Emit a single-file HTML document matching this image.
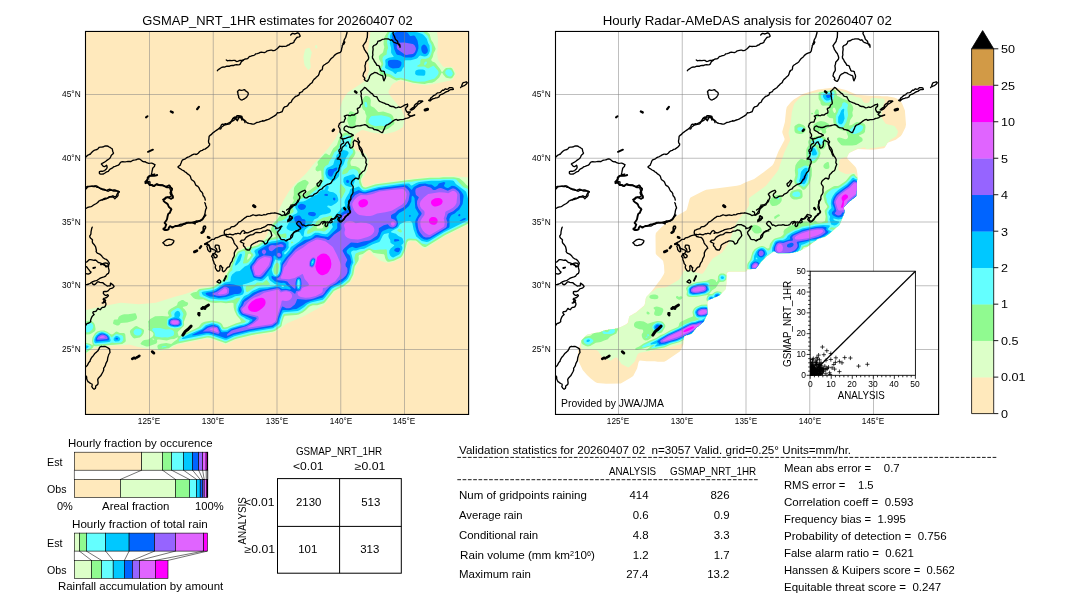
<!DOCTYPE html>
<html lang="en">
<head>
<meta charset="utf-8">
<title>GSMAP_NRT_1HR vs Radar-AMeDAS 20260407 02</title>
<style>
html,body{margin:0;padding:0;background:#fff;}
body{width:1080px;height:612px;position:relative;overflow:hidden;font-family:"Liberation Sans",sans-serif;color:#000;}
#g{position:absolute;left:0;top:0;width:1080px;height:612px;display:block;}
.t{position:absolute;white-space:nowrap;line-height:1;color:#000;}
#tx{position:absolute;left:0;top:0;width:1080px;height:612px;filter:grayscale(1);}
.sup{font-size:62%;position:relative;top:-0.45em;}
</style>
</head>
<body>
<svg id="g" width="1080" height="612" viewBox="0 0 1080 612">
<defs><clipPath id="cl"><rect x="85.50" y="31.45" width="383.10" height="383.00"/></clipPath><clipPath id="cr"><rect x="555.50" y="31.45" width="383.10" height="383.00"/></clipPath></defs>
<rect x="85.50" y="31.45" width="383.10" height="383.00" fill="#ffe9bc" stroke="none" stroke-width="1" />
<g clip-path="url(#cl)"><path fill="#dcffc8" fill-rule="evenodd" d="M81.8 356.7L81.2 356.5L81.0 354.6L81.0 345.1L81.4 337.6L81.0 327.1L81.4 312.1L81.8 311.1L101.3 306.6L120.8 302.8L138.8 304.2L155.8 302.7L174.0 297.1L185.2 293.9L192.8 291.3L199.4 288.1L212.8 286.0L220.2 280.7L223.2 278.1L228.5 269.1L233.2 257.7L236.8 251.0L238.4 250.1L245.9 247.1L254.8 245.2L257.2 244.3L264.8 238.6L267.0 235.1L272.3 223.6L276.7 218.6L280.2 207.0L283.8 200.0L289.2 191.0L294.5 184.6L306.0 173.6L313.7 164.1L328.0 148.6L335.5 138.6L340.7 128.6L341.4 122.6L341.4 120.1L339.8 111.5L339.7 109.5L342.2 101.0L345.8 95.0L347.7 92.5L364.2 81.5L366.0 79.0L369.4 70.0L367.5 55.0L371.0 28.0L371.5 26.5L372.8 26.2L387.2 26.2L397.2 25.8L419.8 25.8L435.2 26.2L436.0 26.5L436.5 28.0L438.1 40.0L437.7 44.0L437.8 48.0L437.1 53.0L437.6 57.5L438.4 60.5L442.6 66.0L443.8 66.9L451.2 66.8L452.8 67.4L455.2 72.1L455.9 74.0L453.8 77.6L451.8 79.9L450.3 80.5L433.8 84.1L425.8 85.2L412.8 83.7L400.8 80.5L399.2 80.8L393.2 83.6L391.8 85.0L389.5 89.0L388.6 91.0L388.4 92.5L389.1 94.0L393.6 100.0L398.8 105.9L401.8 110.0L404.9 118.0L403.1 127.1L398.3 130.1L394.0 132.1L384.8 133.9L372.8 132.8L363.8 130.2L361.2 130.3L356.8 133.2L355.5 134.6L353.1 142.6L352.7 145.1L354.1 147.6L357.2 150.9L365.2 153.4L368.8 160.1L367.2 170.5L364.8 175.1L362.0 179.1L361.7 180.1L363.1 185.1L364.2 186.3L365.8 186.4L374.8 183.6L378.2 182.9L409.8 178.9L429.2 176.9L439.2 176.8L442.8 176.3L454.2 176.3L473.8 177.9L474.1 179.1L474.5 203.1L474.5 220.1L474.2 221.4L473.8 221.9L445.8 235.8L425.8 248.3L423.8 248.2L422.1 247.6L415.8 241.7L414.2 241.3L410.8 241.3L408.8 241.7L407.6 243.6L405.8 251.4L402.9 257.1L401.7 258.1L394.2 261.7L387.8 263.1L381.0 261.1L374.2 256.1L370.2 251.6L369.2 251.2L367.8 251.6L365.2 253.6L362.3 257.1L359.9 261.1L356.1 266.1L355.1 269.1L354.2 274.9L351.2 281.0L349.8 282.8L343.8 287.5L337.2 290.3L334.2 292.0L326.2 302.3L323.2 305.4L304.3 316.1L287.2 323.3L284.8 324.9L281.8 327.6L275.1 332.1L269.8 333.2L254.2 335.4L237.8 339.4L234.8 340.3L225.8 344.5L219.2 341.9L210.2 338.9L207.2 338.4L178.2 344.4L175.8 345.3L169.6 349.1L159.8 350.7L152.2 349.1L146.8 348.6L138.2 347.1L129.2 344.5L123.2 345.2L117.2 345.3L99.2 346.9L94.8 347.8ZM316.2 48.7L315.7 48.5L315.0 46.0L315.3 45.5L316.2 45.1L316.9 45.5L317.5 47.5ZM308.8 69.7L308.2 69.9L307.8 69.6L304.6 65.5L304.0 62.5L303.4 56.5L305.2 49.3L306.5 48.5L309.2 47.8L310.2 49.0L311.8 52.5L310.1 60.0L310.8 67.5Z"/>
<path fill="#90fa90" fill-rule="evenodd" d="M426.2 83.6L424.8 83.9L421.2 83.7L413.2 82.7L400.8 79.4L396.2 80.4L393.1 79.0L389.2 76.7L385.8 76.3L381.8 75.2L380.2 74.1L378.5 69.0L379.1 67.5L381.2 65.0L381.4 63.5L379.0 59.0L378.8 56.5L379.7 55.0L382.4 53.0L383.1 52.0L384.3 47.0L383.6 44.5L383.7 39.5L385.0 36.0L388.4 30.5L391.2 27.2L393.8 26.8L416.8 26.8L420.2 27.0L422.2 28.1L429.6 34.0L431.2 39.9L433.0 42.5L435.6 48.5L435.4 50.0L433.7 53.0L432.7 57.0L431.3 59.5L431.4 60.5L432.4 61.5L434.8 62.5L435.8 63.4L440.1 69.0L441.8 72.0L442.2 72.0L444.8 69.0L446.1 68.0L450.8 67.8L452.2 68.6L454.5 73.0L454.5 74.5L452.8 77.2L451.8 78.2L450.2 78.6L447.2 78.1L445.8 77.4L443.6 75.0L442.2 72.7L441.8 72.6L439.2 77.5L434.8 81.5L432.2 82.8L428.2 82.9ZM384.8 130.1L375.8 129.5L371.8 128.0L368.2 127.1L366.6 125.6L365.6 121.6L366.5 116.0L365.4 113.5L364.9 111.0L363.1 109.5L362.3 108.0L361.5 103.0L361.7 101.5L362.3 100.0L364.2 97.1L365.2 96.1L367.2 96.0L369.3 97.0L370.3 98.5L370.9 100.5L370.5 104.5L370.8 105.9L374.2 107.7L378.2 111.9L379.2 112.1L383.2 111.6L384.8 111.9L390.2 113.7L391.8 114.8L393.2 116.5L394.4 122.1L394.2 124.1L388.2 128.7ZM355.2 127.7L353.2 127.9L350.2 127.3L349.1 126.1L347.5 121.6L347.1 120.1L347.3 118.5L348.3 116.0L349.0 112.5L350.2 111.3L351.8 111.5L355.1 113.0L356.3 114.5L356.4 118.5L355.4 123.1L355.9 126.6ZM159.8 349.6L158.8 349.4L157.8 348.6L157.3 346.1L158.2 344.7L160.8 343.7L166.2 343.1L171.2 343.9L174.8 340.9L177.1 339.6L178.0 337.6L177.8 337.3L177.2 337.5L174.2 339.1L170.8 339.3L166.8 340.6L159.2 339.6L157.8 339.6L156.9 340.1L157.3 342.1L156.4 343.6L148.2 346.6L146.2 346.5L141.2 344.6L140.6 344.1L140.5 343.6L142.5 341.1L144.2 340.0L148.4 339.6L150.2 338.1L152.2 337.0L153.4 335.1L153.4 333.6L152.8 332.4L151.2 331.3L148.2 330.1L148.7 328.1L148.4 326.6L148.5 324.1L148.0 321.6L150.2 318.9L155.2 316.3L162.2 315.9L167.8 316.4L168.8 316.1L168.9 315.6L167.9 313.6L167.8 312.6L168.7 310.6L170.8 308.8L176.6 305.6L177.1 305.1L177.6 303.1L178.2 302.1L181.8 299.9L183.2 299.9L185.2 301.6L187.8 302.4L188.2 303.6L187.8 304.8L186.6 306.1L182.7 307.1L183.1 308.1L184.8 309.6L186.1 311.6L186.6 313.1L186.7 314.6L183.8 322.1L184.2 324.6L183.8 326.0L178.2 331.5L177.6 332.6L178.8 336.2L194.8 329.1L198.6 327.1L201.3 323.6L202.8 322.5L204.8 321.8L212.2 320.5L218.2 321.7L220.9 323.1L222.2 324.6L223.4 327.1L224.8 327.6L227.2 327.1L236.2 323.3L239.8 322.3L240.9 321.6L240.9 321.1L239.8 319.1L236.8 315.6L234.6 311.1L233.7 307.6L233.5 303.6L233.2 303.0L231.8 302.7L225.8 303.2L220.8 302.6L215.2 302.9L211.2 302.5L208.8 301.8L203.2 299.2L198.8 299.5L195.2 298.9L193.2 297.8L190.4 294.6L190.4 294.1L193.1 292.6L196.8 291.7L198.1 290.1L199.8 289.0L209.8 287.7L213.8 286.7L224.6 278.6L229.5 269.6L234.4 257.6L236.8 252.9L237.8 251.6L246.2 248.1L248.8 247.8L257.2 245.4L266.2 239.2L269.8 238.1L274.1 237.6L275.9 236.6L275.9 236.1L273.8 233.6L270.9 230.6L271.0 228.6L273.5 223.6L277.3 219.6L279.2 216.5L281.8 214.8L284.8 213.9L288.4 211.1L288.7 207.6L290.8 205.6L294.0 200.6L292.8 198.1L293.8 195.1L293.8 190.1L294.1 188.1L294.8 186.6L297.8 183.1L302.8 180.2L305.2 179.8L308.0 181.6L308.6 182.6L308.6 183.6L306.9 186.1L305.5 190.6L301.8 193.2L301.4 195.1L302.2 195.3L305.4 194.1L307.6 191.6L310.2 190.1L312.8 187.9L315.2 186.4L316.8 184.1L321.2 178.7L321.6 177.6L321.2 170.9L320.2 170.6L317.8 171.6L316.2 170.8L315.5 169.6L315.8 167.3L318.0 165.1L317.5 162.6L317.7 161.6L324.8 153.7L326.2 153.6L329.2 155.3L329.8 155.1L333.1 148.6L337.0 145.1L338.2 141.1L340.8 135.7L343.2 133.4L345.8 132.6L349.8 132.6L351.2 133.6L353.2 136.6L353.3 138.6L351.6 145.1L352.2 146.6L355.0 150.6L355.5 153.1L354.2 156.2L350.7 161.1L350.4 162.6L350.5 164.1L351.2 165.8L355.8 166.3L358.8 167.7L360.1 169.1L361.0 171.6L362.6 174.1L362.8 175.1L360.9 179.1L360.7 181.1L362.2 185.7L363.8 187.3L365.8 187.5L375.1 184.6L378.2 183.9L414.8 179.3L430.2 177.8L439.2 177.8L443.2 177.3L453.8 177.3L458.2 178.0L459.8 178.6L463.9 182.1L466.2 184.7L468.8 186.4L470.3 188.6L473.2 195.5L473.5 197.1L473.5 219.1L473.3 220.6L472.8 221.3L445.2 234.9L425.8 246.9L424.2 246.9L422.2 246.1L417.2 241.5L415.8 240.5L410.2 240.3L408.2 240.7L406.9 242.6L405.1 250.1L402.2 256.1L400.8 257.4L393.8 260.7L389.2 261.8L387.8 261.8L386.8 261.1L386.0 260.1L385.1 258.1L384.5 255.1L383.8 254.2L377.2 253.6L373.2 252.8L370.8 250.6L369.8 250.1L368.8 250.1L367.2 250.7L362.8 254.0L359.2 254.9L358.6 256.1L358.8 258.6L358.4 260.6L354.7 266.6L353.3 274.6L350.3 280.6L349.2 281.9L343.3 286.6L336.8 289.4L333.8 291.1L325.2 301.9L323.8 303.2L317.2 305.3L312.8 305.3L310.8 305.9L309.2 306.8L306.0 310.1L302.8 312.5L298.8 314.4L296.2 314.9L284.8 315.7L283.8 317.2L282.2 322.2L281.5 326.1L280.6 327.1L274.8 331.0L272.2 331.7L251.8 334.9L237.2 338.5L234.8 339.2L225.8 343.3L210.2 337.8L207.2 337.4L177.8 343.5L172.8 345.6L168.8 348.2ZM321.4 228.6L322.7 228.1L323.2 227.3L323.4 225.1L324.5 221.6L324.2 221.0L322.2 221.4L320.2 222.4L316.5 227.6L316.7 228.1L317.8 228.5ZM247.8 259.6L249.2 258.2L251.2 255.6L251.0 254.6L249.8 253.8L248.8 253.7L248.0 254.6L247.1 259.1L247.2 259.7ZM118.2 325.6L116.8 325.6L113.3 324.1L113.0 323.1L113.8 320.1L114.8 319.6L117.2 319.6L117.8 319.3L118.6 317.1L119.6 316.1L122.2 314.8L124.2 314.3L128.2 314.3L134.8 313.3L135.8 313.6L137.1 317.1L136.8 318.6L135.9 319.6L132.9 321.1L127.2 322.6L120.8 323.1L119.3 325.1ZM89.8 334.2L86.8 334.4L83.4 333.6L82.3 332.6L82.0 330.6L82.0 326.1L82.4 324.6L86.2 321.5L89.2 320.6L91.8 321.2L94.0 323.1L94.9 325.1L95.6 329.1L95.3 330.6L94.5 331.6L91.3 333.6ZM136.8 338.1L134.2 338.4L132.8 337.5L130.8 335.1L129.9 332.1L130.0 331.1L130.8 329.8L134.8 326.6L136.2 326.1L137.2 326.3L139.3 327.6L142.9 329.1L143.9 330.1L144.1 331.1L143.5 333.6L141.8 336.1L139.8 337.5ZM82.8 354.6L82.2 354.2L82.0 352.6L82.0 345.6L82.4 344.1L84.2 343.0L86.8 342.9L89.8 343.7L92.8 345.3L92.0 341.1L92.5 337.6L95.1 333.1L97.1 331.6L100.8 330.4L104.2 330.5L107.2 331.7L110.8 334.3L111.8 334.6L112.8 334.2L115.8 331.7L116.8 331.4L119.8 333.0L123.8 332.9L124.7 333.6L125.3 334.6L125.8 341.1L125.2 342.1L122.2 344.0L114.2 344.8L109.8 344.9L96.2 346.3L93.8 346.1L93.0 347.6L91.9 348.6L84.0 354.1ZM154.3 339.6L154.1 339.1L153.2 338.6L152.6 338.6L152.3 339.1L153.2 339.7Z"/>
<path fill="#64ffff" fill-rule="evenodd" d="M424.8 81.6L418.2 81.7L413.8 81.3L401.2 77.8L396.2 77.9L393.8 76.8L390.6 74.5L383.8 72.7L382.2 71.5L381.5 70.0L381.4 68.5L383.0 65.5L383.4 64.0L382.5 60.0L382.5 58.0L383.8 56.1L386.6 54.5L386.9 51.0L388.1 48.0L387.0 42.5L387.9 35.5L389.4 32.5L392.8 28.7L395.8 28.2L410.8 28.2L415.6 28.5L422.8 31.8L426.8 35.0L428.1 36.5L429.7 41.5L431.5 44.5L431.9 46.0L432.0 50.5L431.1 54.0L429.9 56.5L428.2 57.9L425.2 59.0L422.2 58.8L421.2 59.0L420.4 60.5L420.3 63.5L419.4 64.5L417.5 65.5L417.2 66.1L417.4 66.5L418.8 66.8L424.2 66.4L427.0 68.0L428.2 68.5L433.2 65.7L433.9 66.0L437.8 70.5L438.6 72.0L438.6 73.0L437.8 75.1L434.7 78.5ZM425.2 65.2L424.8 65.3L424.2 64.7L424.2 63.1L425.2 61.8L426.2 61.6L426.9 62.0L427.0 63.0ZM450.8 76.6L449.2 76.6L447.8 76.1L445.6 74.0L445.2 72.0L445.8 70.7L446.8 69.7L448.2 69.3L450.2 69.4L451.6 70.5L452.8 73.0L452.8 74.0L451.8 75.8ZM367.2 107.1L366.2 107.5L365.3 107.0L364.8 106.1L364.4 103.0L364.9 102.0L366.2 102.0L366.8 102.7L367.5 105.5ZM385.2 126.1L379.8 125.7L375.8 126.2L373.2 125.5L370.8 124.5L368.9 123.1L368.4 121.6L368.7 120.1L370.2 117.3L371.2 116.3L372.2 116.0L381.2 115.2L388.2 116.8L389.8 117.5L390.8 118.5L391.6 120.6L391.5 122.1L390.2 123.5L386.8 125.7ZM226.2 341.6L224.8 341.4L219.2 339.2L210.2 336.2L208.2 335.9L180.8 341.3L179.2 341.4L178.7 341.1L179.7 338.6L181.6 336.6L197.8 328.9L200.5 328.1L203.7 324.6L205.8 323.5L212.2 322.1L217.2 323.0L220.1 324.6L222.2 328.6L223.8 329.2L227.2 328.6L229.8 327.3L236.8 324.6L243.5 323.1L244.8 322.6L246.0 321.6L245.7 321.1L238.8 315.9L237.7 314.6L236.4 311.6L236.2 304.6L239.8 299.1L240.1 298.1L239.8 297.6L236.8 297.8L233.8 299.8L226.2 301.6L221.8 301.1L211.2 300.8L209.2 300.2L205.2 298.2L200.4 296.6L199.8 296.1L199.4 295.1L199.3 292.6L199.6 291.1L201.2 290.3L210.2 289.1L213.8 288.3L215.3 287.6L224.2 280.9L227.2 280.1L227.8 279.6L228.6 274.6L230.2 272.0L232.5 270.1L232.2 268.1L232.7 266.1L236.1 257.6L238.1 253.6L239.1 252.6L243.2 251.0L244.8 251.2L245.2 252.6L245.1 254.6L242.9 263.1L243.2 263.6L243.8 263.6L246.8 263.3L248.6 262.1L253.4 255.6L253.2 254.2L251.1 252.1L250.7 251.1L251.1 250.1L252.6 248.6L258.8 246.4L264.8 242.0L266.8 241.0L270.8 239.9L275.2 239.3L280.8 237.3L285.2 238.0L286.2 237.8L286.5 236.6L286.3 234.1L285.9 233.6L284.2 233.5L281.2 234.5L279.2 233.7L274.2 228.6L273.9 227.6L274.7 225.6L278.2 221.4L279.2 221.0L281.8 220.8L285.8 218.6L288.3 215.6L293.1 212.6L293.7 211.6L292.8 208.6L293.6 205.1L294.4 203.6L296.8 201.2L303.2 197.9L308.0 196.1L320.6 186.1L321.8 182.8L324.2 179.6L323.6 174.6L323.7 169.6L324.0 168.1L325.5 166.1L328.3 164.6L329.3 161.6L332.0 157.6L334.2 152.6L337.2 150.2L339.0 147.6L341.2 139.6L342.2 137.9L344.2 136.0L346.2 135.3L348.8 135.4L349.8 136.0L350.9 137.6L351.3 139.1L350.2 144.1L350.1 145.6L350.8 147.5L352.9 150.6L353.1 152.1L352.4 153.6L349.8 156.6L347.8 161.1L347.3 162.6L347.4 165.6L347.0 167.1L343.2 170.1L342.3 172.6L342.2 174.3L343.2 174.6L346.8 173.3L347.7 172.6L349.2 170.1L350.4 169.6L353.8 169.0L356.3 170.1L357.8 171.6L359.2 175.6L359.4 177.1L358.9 180.6L359.1 183.1L361.3 187.1L363.2 188.8L365.8 189.0L375.2 186.1L378.8 185.3L406.8 181.8L411.8 181.7L415.2 180.9L430.2 179.3L452.2 178.7L454.8 178.9L456.3 179.6L462.1 186.1L464.2 187.5L467.1 188.6L468.0 189.6L469.6 194.6L471.5 197.6L472.0 199.6L472.1 218.6L471.8 219.8L471.0 220.6L444.6 233.6L426.8 244.5L425.8 244.5L421.8 243.5L417.8 239.9L416.2 239.1L409.2 238.5L407.2 238.9L405.9 240.6L403.7 249.6L401.1 255.1L399.8 256.2L393.2 259.3L389.8 259.8L389.0 259.6L388.2 258.8L387.4 256.6L386.8 250.1L386.2 249.3L383.8 249.6L380.8 249.4L375.2 250.0L373.2 249.7L370.2 248.5L368.8 248.5L367.1 249.1L364.2 250.8L359.8 251.7L356.2 253.2L355.4 254.1L354.4 258.1L355.2 262.6L353.2 266.2L351.8 274.1L348.8 280.1L342.8 285.1L336.1 288.1L332.8 289.9L323.8 301.1L316.8 303.5L312.2 303.5L309.8 304.4L307.8 305.6L304.8 308.8L301.9 311.1L298.2 312.8L296.2 313.2L290.8 313.3L284.2 313.9L283.5 314.6L282.8 316.1L280.2 325.2L274.2 329.6L271.8 330.3L251.2 333.5L236.8 337.1L233.8 338.0ZM341.9 198.1L345.2 191.6L345.6 190.1L345.0 188.6L341.2 184.1L340.4 184.6L339.8 186.1L339.8 189.6L339.4 192.1L340.2 194.6L340.4 197.6L341.2 198.5ZM309.5 233.6L314.8 230.7L320.2 230.8L323.8 231.5L324.8 231.2L327.5 229.1L328.5 228.1L328.8 227.1L327.6 225.1L327.7 223.1L328.8 221.1L331.6 218.1L332.0 216.6L331.8 215.9L330.2 215.7L326.8 216.9L323.2 217.6L316.8 221.1L314.8 224.6L311.2 228.1L307.6 230.6L307.1 232.1L307.2 233.6L307.8 233.9ZM401.8 232.1L401.9 231.1L400.2 228.8L398.8 229.1L397.3 230.6L397.5 231.1L399.8 232.2L400.8 232.5ZM292.8 243.1L293.3 242.6L293.2 241.9L292.2 241.5L291.2 241.7L290.9 242.6L291.2 243.5ZM276.3 274.6L277.2 273.9L278.3 272.1L279.2 266.1L278.8 263.7L277.2 262.6L276.2 262.9L274.8 264.5L273.4 269.1L273.5 271.1L274.2 273.6L275.2 274.6ZM247.6 292.1L256.2 286.3L262.8 285.0L267.8 285.3L269.9 284.6L270.0 284.1L267.2 280.5L266.2 280.1L262.8 282.7L257.2 282.4L254.8 284.4L247.2 285.7L245.9 286.6L245.6 289.1L246.2 291.6L246.8 292.1ZM177.8 328.1L174.2 328.4L170.2 327.7L167.8 326.2L167.0 325.1L166.8 324.1L167.3 319.6L168.2 318.5L171.0 317.1L171.8 316.1L171.0 313.1L171.2 311.9L172.8 310.5L176.8 308.2L177.8 307.9L179.2 308.3L181.2 310.1L182.8 312.6L183.5 314.6L182.3 318.1L183.0 320.1L182.7 322.1L182.9 325.1L181.2 326.9ZM88.8 332.2L86.2 332.2L84.2 331.2L83.7 330.1L83.5 327.6L84.2 325.8L86.8 323.7L88.8 322.7L90.2 322.7L91.8 323.3L92.8 324.5L93.3 326.1L93.2 327.6L92.2 329.4L90.0 331.6ZM167.8 337.6L165.2 337.3L161.8 337.5L155.3 336.6L154.8 335.6L154.6 333.1L152.2 330.1L152.2 329.1L152.8 328.4L153.8 328.1L160.2 328.1L165.8 329.6L169.8 329.2L172.2 330.0L173.9 331.6L174.1 333.6L173.8 335.1L172.6 336.1ZM139.8 335.2L138.2 335.5L136.8 335.4L135.2 334.9L134.1 334.1L133.4 332.1L134.1 330.6L135.2 329.3L136.2 328.8L138.2 328.7L140.2 329.3L141.3 330.1L141.7 331.1L141.7 332.6L140.9 334.1ZM97.8 344.6L95.2 344.8L94.1 344.1L93.2 342.1L93.3 339.1L94.2 336.6L95.8 334.4L97.9 332.6L100.1 331.6L103.2 331.4L106.2 332.4L108.8 334.0L111.2 337.1L111.8 337.3L115.2 334.6L116.8 334.0L122.2 335.5L123.2 337.1L123.3 339.1L122.9 340.6L121.8 341.9L120.2 342.7L114.2 343.1L112.2 342.6L110.2 343.3L107.2 343.8ZM84.2 351.6L83.7 351.1L83.4 349.1L83.5 345.6L84.1 344.6L85.2 344.1L87.2 344.2L89.5 345.1L90.8 346.1L90.9 347.1L90.6 347.6L86.2 350.7ZM164.8 347.1L162.2 347.4L161.5 347.1L162.2 346.4L165.2 346.1L166.2 346.1L166.8 346.6Z"/>
<path fill="#00c8ff" fill-rule="evenodd" d="M395.8 74.1L394.8 73.8L392.8 71.8L385.8 68.6L385.0 67.5L385.6 64.0L385.2 60.5L385.8 59.2L388.8 57.7L393.2 57.1L393.8 56.5L391.8 53.9L391.1 52.5L391.1 48.0L389.8 43.5L390.2 40.0L389.9 36.0L390.8 33.5L392.8 31.5L395.2 30.0L408.2 29.8L410.8 30.1L414.2 32.1L417.2 32.3L422.2 34.1L423.8 35.3L426.8 38.8L428.1 43.0L429.5 45.5L429.9 51.0L428.7 54.0L427.5 55.5L426.2 56.3L424.2 56.4L420.2 55.4L419.2 56.0L417.6 58.0L416.2 58.8L410.8 60.3L405.2 60.3L404.6 61.0L404.3 66.5L402.6 68.5L401.5 71.0L400.8 71.6L397.4 72.0ZM424.2 75.8L417.8 75.5L416.2 75.1L415.6 74.5L415.1 73.5L415.4 71.0L416.8 70.1L418.8 69.6L422.8 69.6L424.4 70.0L425.3 71.0L425.4 72.5L425.2 74.5ZM346.8 146.8L346.2 147.0L345.2 146.6L344.8 145.6L345.2 144.7L346.2 144.6L347.0 145.1L347.2 146.1ZM334.2 181.1L333.2 181.5L332.8 181.3L331.7 180.6L328.2 179.1L326.8 177.8L325.4 174.1L325.4 172.1L325.9 169.6L327.2 167.8L330.3 166.6L333.2 164.7L334.6 160.1L336.0 157.6L336.7 155.1L337.2 154.3L340.2 152.7L342.8 150.3L343.8 150.1L346.8 150.7L348.3 152.1L348.6 153.1L348.3 154.1L345.9 158.1L343.5 164.6L341.2 167.6L339.5 172.1L339.2 175.1L338.8 176.5L337.2 178.3ZM351.2 187.2L346.2 185.7L344.8 184.8L343.4 182.1L343.4 179.1L344.0 177.6L345.2 176.7L350.2 174.9L353.2 174.2L354.2 174.7L355.2 175.8L355.7 177.1L355.7 178.1L353.5 184.6L352.2 186.4ZM226.8 339.7L224.8 339.8L211.2 335.0L208.2 334.4L206.2 334.5L183.6 339.1L182.2 339.1L181.8 338.6L182.8 337.5L189.8 334.0L201.8 328.9L205.8 325.3L211.2 323.6L213.8 323.5L217.8 324.7L219.4 326.1L221.8 330.1L222.8 330.6L225.2 330.6L227.2 330.2L229.8 328.6L231.8 327.7L240.2 325.2L244.8 324.3L247.8 322.9L249.4 321.6L249.7 320.6L249.3 320.1L246.2 318.9L244.2 317.4L241.2 316.1L239.0 314.1L237.5 310.6L237.7 308.6L238.4 306.1L240.9 300.6L243.8 296.6L244.8 295.8L248.2 294.3L252.2 291.1L259.2 287.7L267.8 287.3L273.8 286.3L277.5 285.1L274.8 283.9L270.0 280.6L269.1 279.1L268.2 275.6L263.8 279.8L262.2 280.7L260.2 280.9L255.2 280.1L251.8 281.8L246.8 283.6L242.9 284.6L242.7 285.1L244.0 291.6L243.7 293.1L242.8 294.4L240.2 295.4L235.2 296.2L231.8 297.9L226.6 299.6L218.8 299.6L210.2 298.5L203.5 295.6L202.2 294.3L201.6 292.6L201.9 292.1L203.8 291.4L210.8 290.6L214.2 289.8L216.2 288.7L224.8 282.5L230.2 281.6L230.5 281.1L230.9 277.1L232.2 274.4L236.0 271.6L239.8 270.9L244.7 266.6L248.2 265.1L251.8 261.1L253.2 258.5L255.6 255.6L255.5 254.1L254.3 251.6L254.9 250.1L259.8 247.5L266.2 243.2L271.2 241.5L275.2 241.1L281.2 239.5L283.8 239.7L287.2 240.8L288.1 241.6L288.6 242.6L288.5 245.6L288.8 247.6L286.8 250.6L284.2 252.6L284.1 253.6L284.7 254.6L285.8 254.1L289.2 250.2L290.9 247.1L299.2 241.4L301.1 239.6L302.8 237.1L302.9 236.6L301.8 235.8L300.2 233.0L299.2 232.1L294.8 230.6L291.8 230.9L289.8 230.4L287.7 229.6L286.5 228.1L286.8 226.6L288.2 224.1L291.3 216.6L293.1 215.1L296.4 213.6L297.4 212.6L297.5 211.1L295.5 208.1L295.2 206.6L296.0 204.6L298.3 202.6L300.2 201.7L303.2 201.4L305.8 200.5L313.8 195.8L317.3 194.6L320.2 191.1L322.2 190.1L324.8 189.6L325.8 186.3L327.2 185.1L328.2 185.7L328.7 187.1L328.5 188.6L327.6 190.1L327.8 190.6L329.8 191.8L333.2 192.2L335.2 193.5L336.9 195.1L338.0 198.1L338.3 199.6L338.1 201.1L336.3 203.1L331.8 205.7L330.8 205.9L328.2 205.4L327.2 206.1L327.5 207.1L329.8 208.6L330.8 209.7L331.0 211.1L330.2 212.5L328.8 213.2L325.2 214.2L322.8 214.4L319.9 215.6L317.8 218.0L314.1 219.6L312.2 223.1L308.8 226.6L305.1 229.6L304.4 231.1L303.5 236.6L307.2 236.7L311.2 235.6L313.8 233.6L315.2 232.8L318.2 232.8L322.8 234.0L325.8 234.3L327.2 233.8L329.2 232.1L332.6 227.6L332.8 226.6L331.8 224.6L331.8 223.6L334.1 220.6L335.5 215.1L339.4 211.1L342.2 207.3L344.8 206.1L345.1 205.6L344.5 202.6L344.8 200.6L346.2 197.6L349.2 192.7L350.2 189.3L351.2 188.4L354.8 188.0L357.8 186.7L358.8 186.5L362.2 190.0L363.8 190.6L365.2 190.6L378.8 186.9L402.8 183.8L408.8 183.4L409.8 183.9L410.8 185.2L411.8 185.5L416.2 182.9L419.2 182.1L431.2 180.8L440.2 180.7L443.8 180.2L450.2 180.3L452.7 180.6L453.8 181.1L455.9 184.1L465.3 191.1L466.2 192.1L468.0 198.6L469.9 201.6L470.4 203.1L470.4 217.6L470.2 218.7L469.2 219.7L443.8 232.3L428.8 241.5L426.8 242.1L421.8 241.1L416.2 236.6L413.6 229.6L412.4 223.6L411.2 221.4L409.8 221.0L406.2 221.2L400.8 223.7L399.8 224.6L398.4 227.1L397.4 228.1L391.7 231.1L390.9 232.1L391.5 232.6L395.8 233.8L398.4 236.1L401.6 237.6L402.6 238.6L403.6 241.6L403.5 242.6L402.8 244.0L401.2 245.1L402.3 247.1L402.3 249.1L400.5 253.1L399.2 254.6L393.2 257.4L391.8 257.0L390.2 255.6L389.2 253.1L389.4 250.6L390.7 248.6L393.8 246.1L394.2 245.6L394.1 245.1L391.4 243.6L390.4 242.6L390.2 240.1L388.9 238.1L388.4 236.1L388.9 233.1L384.2 233.9L382.8 235.5L380.1 241.1L379.2 242.1L372.8 244.2L364.2 248.7L359.8 249.3L356.2 250.5L353.2 250.5L351.4 251.6L351.0 253.1L351.9 255.6L353.3 262.6L351.7 266.1L350.4 273.6L348.0 278.6L346.8 280.0L341.8 284.0L335.2 286.8L331.8 288.8L324.8 297.7L322.8 299.7L310.8 302.4L307.2 304.2L304.2 306.9L299.9 310.1L297.8 311.0L283.8 312.2L282.8 313.2L281.9 315.1L280.3 319.6L279.2 324.1L273.2 328.3L250.2 332.1L234.2 336.2ZM235.8 265.6L235.2 265.6L235.2 264.1L238.2 256.7L239.8 254.2L240.8 253.8L241.8 253.9L241.9 255.6L240.2 261.0L237.2 264.6ZM277.3 275.6L278.7 274.1L279.8 271.5L280.4 266.1L280.1 263.1L280.9 261.1L280.8 260.5L278.2 260.4L275.8 259.4L275.2 259.8L273.6 264.1L271.7 270.1L272.8 273.6L273.6 275.1L275.2 275.9ZM312.8 263.1L313.3 261.6L312.8 261.0L312.1 262.6L312.2 263.4ZM298.8 288.1L299.4 286.6L299.7 284.1L299.5 281.1L298.8 279.8L298.2 280.0L297.8 280.9L297.3 284.6L297.8 287.4L298.2 288.1ZM283.4 287.1L284.0 286.6L283.3 285.6L281.9 285.6L281.3 286.1L282.2 287.0ZM177.8 327.1L174.8 327.2L170.8 326.5L168.8 325.5L167.9 324.1L168.2 320.6L168.7 319.6L170.2 318.5L174.1 317.1L174.6 316.6L174.3 314.6L174.7 313.1L176.0 311.6L177.8 310.8L179.2 311.5L180.1 313.1L180.3 315.1L179.1 317.6L181.5 320.1L182.0 324.1L181.7 325.1L180.8 326.0ZM97.2 343.1L95.8 343.3L94.8 342.8L94.2 341.6L94.3 339.6L95.0 337.6L96.2 335.6L99.2 333.0L101.8 332.3L104.2 332.7L107.8 334.5L109.5 336.6L110.6 340.1L110.4 341.1L109.8 341.7L106.8 342.3ZM118.8 341.2L115.2 341.4L113.9 340.6L113.6 339.6L113.7 338.6L115.2 336.6L116.2 336.1L117.2 336.1L118.8 336.8L120.0 338.1L120.3 339.1L120.1 340.1ZM86.2 348.7L85.2 348.4L85.0 347.1L85.2 345.9L85.8 345.5L86.8 345.4L88.3 346.1L88.6 346.6L88.4 347.1Z"/>
<path fill="#0064ff" fill-rule="evenodd" d="M411.8 57.6L404.8 57.4L400.8 55.6L397.2 54.8L396.3 54.0L394.2 49.0L392.1 37.0L392.3 35.0L393.8 33.3L397.8 31.4L403.8 31.5L407.8 32.8L409.2 35.1L410.2 36.0L411.2 36.0L413.2 35.4L414.2 35.6L415.3 36.5L417.5 40.5L418.4 45.5L418.4 48.5L417.5 51.5L415.7 55.0L414.2 56.6ZM425.2 54.1L423.8 53.8L422.7 53.0L421.8 51.5L421.4 50.0L421.2 48.0L421.5 46.5L422.2 45.4L423.8 44.6L424.8 44.8L426.3 46.0L427.2 47.7L427.9 50.0L427.8 51.5L427.3 52.5L426.2 53.6ZM398.8 68.1L392.8 68.5L390.2 67.6L388.9 66.5L388.2 65.5L387.8 62.5L388.1 61.0L389.8 59.9L394.2 59.7L397.6 60.0L400.2 61.0L401.5 62.5L401.3 65.0L400.2 67.0ZM331.2 176.7L329.2 176.3L327.9 174.6L327.6 172.6L328.2 170.1L329.8 168.9L332.8 169.0L335.2 167.7L336.8 167.6L337.3 168.6L336.9 170.1L335.8 171.1L334.2 171.7L332.2 176.0ZM348.2 183.1L347.1 183.1L346.1 182.1L346.2 180.6L347.2 179.7L348.2 179.9L349.1 181.1L349.2 182.1ZM226.2 338.2L224.8 338.1L219.2 335.9L209.2 332.9L206.2 333.0L194.8 335.2L192.2 335.3L191.9 335.1L202.8 329.6L206.8 326.6L211.8 324.9L214.2 324.9L217.8 326.2L218.8 327.2L221.2 332.0L222.2 332.2L227.2 331.9L231.6 329.1L240.2 326.6L243.8 326.0L248.2 324.1L251.5 321.6L252.3 320.6L252.5 319.6L246.2 316.4L241.8 314.8L240.2 313.1L238.9 310.1L239.1 308.1L241.0 305.1L242.2 301.6L244.8 298.8L249.2 296.1L252.8 292.9L260.2 289.7L267.2 289.0L270.8 288.1L277.2 287.1L279.2 287.3L282.2 288.9L285.8 288.7L289.8 289.4L290.8 289.2L290.7 288.6L289.9 287.6L287.0 285.6L285.6 283.6L284.8 283.0L283.8 282.7L281.2 282.9L276.8 282.1L274.8 281.3L271.9 278.6L271.4 277.1L271.8 275.7L274.2 276.8L276.2 277.0L277.8 276.6L279.0 275.6L279.9 274.1L280.9 271.1L281.4 264.6L281.8 263.3L285.7 257.6L291.2 251.6L293.3 248.6L297.2 245.1L304.8 240.1L309.8 239.0L312.2 237.7L314.8 235.5L315.8 235.0L317.8 235.0L321.2 236.0L327.8 236.9L330.7 234.6L336.8 228.7L337.3 227.6L337.2 224.6L337.6 222.1L337.7 219.1L338.2 217.6L339.9 214.6L341.8 212.8L344.8 210.8L348.2 209.6L349.0 209.1L349.2 208.1L347.8 204.1L347.7 202.1L351.8 193.9L353.2 192.4L358.8 189.9L362.8 191.9L365.2 192.2L379.2 188.3L403.8 185.2L405.8 185.3L407.2 185.7L411.8 190.0L413.0 188.1L414.2 186.8L419.2 184.1L425.2 183.5L428.8 184.4L431.2 184.5L432.2 184.9L434.8 186.9L436.1 186.6L437.5 185.6L438.8 183.4L443.8 182.1L445.2 182.6L445.3 183.1L444.0 185.6L444.4 186.6L445.8 187.5L447.2 188.1L448.2 188.1L451.8 185.8L454.2 186.0L456.4 187.1L458.8 188.9L460.9 191.1L462.6 193.6L463.4 195.1L463.6 196.6L462.6 204.1L459.2 209.7L456.8 211.4L454.8 213.4L451.7 215.1L450.8 216.1L449.3 219.1L449.6 222.6L449.5 226.6L449.1 227.6L430.2 238.8L427.2 239.7L424.2 239.4L421.2 237.8L418.8 235.4L417.1 232.6L415.4 226.1L415.1 222.1L415.8 219.6L418.8 214.1L415.3 208.1L414.5 198.1L413.2 196.3L412.2 195.8L411.6 197.1L411.3 201.6L409.0 206.1L403.8 210.5L399.2 212.9L396.6 216.1L396.3 217.6L397.9 221.6L398.1 223.1L397.6 225.6L396.5 227.1L393.2 228.7L388.8 228.6L382.8 231.0L381.3 232.6L379.5 237.1L377.8 239.3L368.8 243.4L365.8 245.3L356.8 248.1L355.2 247.9L352.2 246.8L349.2 248.1L347.1 250.1L346.6 251.1L346.7 252.1L347.4 253.6L349.3 255.1L350.2 256.4L351.5 262.1L350.1 266.1L348.9 273.1L347.2 276.6L346.0 278.6L341.8 282.1L339.2 282.9L330.9 287.6L322.8 297.4L321.2 298.1L309.8 301.2L305.8 303.1L303.2 305.1L296.4 309.1L293.2 309.3L289.2 310.2L282.8 310.0L282.0 311.1L279.1 318.6L278.1 323.1L272.8 326.9L249.8 330.7L233.8 334.7ZM326.8 196.1L324.8 195.8L324.2 195.1L324.3 194.6L325.8 193.8L327.5 194.1L328.1 195.1L327.8 195.7ZM334.8 200.4L333.8 200.3L333.0 199.6L332.9 198.6L333.8 197.6L334.8 197.7L335.4 198.6L335.4 199.6ZM303.8 209.6L301.2 209.9L299.1 209.1L298.0 207.6L297.8 206.6L298.2 205.6L299.8 204.3L301.2 203.8L303.1 204.1L305.2 205.1L306.0 206.1L305.9 207.1L305.1 208.6ZM314.2 216.2L312.2 216.2L308.8 215.3L308.0 214.1L308.2 212.8L309.8 211.9L313.2 212.0L314.8 212.5L315.8 213.5L315.9 214.6L315.4 215.6ZM459.8 216.2L458.8 216.3L458.1 215.6L458.5 214.6L459.2 214.0L459.8 214.0L460.3 214.6L460.3 215.6ZM302.2 228.2L300.8 228.5L299.2 228.2L297.8 225.0L295.2 222.2L294.0 218.6L294.2 217.6L295.1 216.6L297.8 215.6L299.4 215.6L300.2 216.1L302.2 218.9L304.2 219.3L305.3 220.1L305.6 221.6L305.0 225.6L304.0 227.1ZM410.2 216.8L409.8 217.0L409.2 216.6L409.1 215.6L409.8 215.1L410.8 215.6L410.9 216.1ZM460.8 221.1L459.3 221.1L463.2 218.4L464.8 218.1L465.9 218.6L465.9 219.1L464.5 220.1ZM395.8 241.6L394.8 241.7L394.0 241.1L394.2 239.6L394.8 239.0L397.8 239.2L398.8 239.5L399.2 240.1L399.3 240.6L398.8 241.1ZM260.8 279.1L254.8 278.0L253.3 277.1L250.0 268.1L250.1 266.6L250.8 265.0L253.4 262.1L255.9 258.1L258.9 255.6L259.1 255.1L257.9 252.6L258.2 250.8L260.5 249.1L268.2 244.6L270.8 243.4L275.8 242.9L281.2 241.8L283.2 242.0L285.2 242.9L286.2 244.6L286.3 247.1L284.9 249.6L282.0 251.6L281.9 252.6L282.5 255.1L282.2 257.1L280.8 258.3L278.8 258.7L277.2 258.1L274.8 255.4L273.8 255.7L273.4 256.6L273.5 260.1L271.4 267.1L265.2 275.7L262.3 278.6ZM398.8 252.1L397.2 252.3L394.8 251.3L394.2 250.6L394.6 249.1L395.8 248.2L397.2 247.8L398.8 247.8L399.8 248.2L400.3 249.1L400.1 250.1ZM312.4 265.6L313.3 264.6L314.3 262.1L314.4 260.1L313.8 259.3L312.8 259.4L312.2 259.8L310.9 262.6L310.9 265.1L311.8 265.7ZM299.1 289.6L299.8 288.9L300.3 287.6L300.6 283.1L300.1 279.6L299.8 278.9L298.8 278.4L297.8 278.8L297.0 280.1L296.4 285.1L297.2 289.1L297.8 289.6ZM222.2 297.6L218.8 298.0L213.8 296.7L209.8 296.4L206.6 295.1L205.5 293.6L205.9 293.1L207.4 292.6L211.2 292.0L215.2 291.0L224.8 284.6L229.2 284.1L233.8 284.5L239.4 286.1L240.3 286.6L241.2 287.6L241.8 289.4L241.7 291.1L240.9 292.6L239.8 293.4L237.8 294.0L234.8 293.9L225.8 297.1ZM177.8 326.2L173.8 326.2L171.2 325.6L169.8 324.9L169.0 323.6L169.1 321.1L169.6 320.1L171.2 319.0L174.2 318.4L176.8 318.5L179.4 319.6L180.6 321.1L180.7 324.1L179.8 325.3ZM97.2 341.6L96.2 341.6L95.6 341.1L95.5 339.6L95.9 338.1L97.8 335.5L100.8 333.5L103.2 333.4L105.8 334.4L107.9 336.1L109.0 338.1L109.1 339.6L108.8 340.2L107.8 340.6ZM117.8 339.6L115.8 339.6L115.3 339.1L115.4 338.6L116.2 337.7L117.2 337.7L118.1 338.6L118.2 339.1Z"/>
<path fill="#9664ff" fill-rule="evenodd" d="M408.8 54.6L406.8 54.9L405.2 54.7L397.8 49.5L396.9 48.0L396.7 46.5L397.2 44.2L398.2 42.7L404.2 42.6L407.2 42.9L412.7 44.0L414.3 45.0L415.2 46.4L415.9 48.0L415.9 49.5L415.2 51.6L414.2 53.0L412.8 54.0ZM429.8 237.2L425.8 237.5L423.3 236.6L419.8 232.3L418.5 229.6L417.8 226.0L417.4 221.6L418.6 218.6L421.4 214.6L421.7 213.6L421.3 212.6L418.7 209.1L417.4 206.1L417.0 203.6L417.1 201.1L418.8 197.6L418.6 197.1L416.6 195.6L415.8 194.4L415.3 191.6L415.5 189.6L416.2 188.6L417.2 188.0L421.8 186.3L424.8 185.8L430.4 187.6L431.8 188.5L432.8 189.7L433.8 190.1L435.2 189.9L438.2 188.5L440.2 188.0L441.8 188.3L447.8 190.7L452.2 188.5L453.8 188.5L455.2 189.1L458.3 191.6L459.8 194.1L460.2 202.1L459.7 204.6L457.8 207.3L453.2 211.2L448.8 213.2L447.8 214.1L446.2 218.6L447.4 222.6L446.6 227.1L445.4 228.1ZM227.8 335.7L227.0 335.6L226.8 335.1L227.3 334.1L231.6 330.6L245.8 326.3L252.0 323.1L256.4 319.1L256.6 318.1L256.2 317.5L250.2 316.1L242.8 313.8L241.4 312.1L240.3 309.6L240.6 308.1L242.9 305.6L244.3 302.1L254.2 294.9L257.8 293.1L263.3 291.1L277.2 288.3L279.2 288.6L281.2 290.4L286.2 290.0L290.6 291.1L292.2 291.7L294.8 293.8L295.2 293.8L296.2 291.0L299.2 290.6L300.1 290.1L301.4 286.6L301.5 283.6L301.1 279.6L300.4 278.1L299.8 277.6L298.2 277.5L297.2 277.9L296.2 279.6L295.5 283.1L295.5 288.1L295.2 288.8L294.2 288.5L293.0 287.6L289.2 284.1L287.3 281.6L284.2 280.8L278.2 280.2L276.4 279.1L279.2 276.9L280.6 275.1L281.9 271.1L282.8 265.1L288.2 257.6L295.2 249.8L298.5 247.1L304.2 244.0L306.8 242.2L316.2 237.5L318.2 237.5L324.8 238.6L327.8 239.9L328.8 240.0L334.2 234.4L341.0 230.1L341.4 228.6L341.1 224.6L342.3 221.1L341.7 218.6L342.1 216.6L342.8 215.5L344.2 214.3L349.2 212.4L351.2 210.6L351.3 209.1L349.9 204.6L350.0 202.6L352.8 197.9L355.3 195.1L359.8 192.7L363.8 193.6L365.8 193.6L379.2 189.9L402.8 186.9L404.2 187.0L405.5 187.6L408.2 190.1L409.4 192.1L409.7 194.1L408.5 200.6L406.7 204.1L403.2 207.6L398.1 210.1L395.0 213.1L391.9 214.6L391.0 215.6L391.0 217.6L391.3 218.6L394.8 219.7L396.2 221.6L396.7 223.6L396.0 225.6L394.2 227.0L392.2 227.5L389.8 226.6L387.8 224.3L383.8 225.3L379.1 228.1L378.8 228.6L378.8 231.6L377.2 235.6L370.7 240.1L369.2 240.6L363.2 241.6L357.8 243.0L351.2 242.6L350.2 243.1L344.1 248.6L342.8 250.1L342.6 251.1L347.2 259.6L347.1 260.6L345.8 263.1L345.5 264.6L345.8 266.4L346.9 267.6L347.4 268.6L347.5 271.6L346.9 273.6L345.8 275.5L342.8 278.6L339.2 280.2L336.2 282.9L329.8 286.5L326.0 290.6L324.5 293.1L322.8 294.9L313.8 298.5L310.8 299.3L305.8 299.7L297.2 298.9L295.9 302.6L294.8 304.5L290.8 307.7L289.2 308.3L286.2 308.2L283.2 306.7L282.2 306.6L280.8 309.5L277.7 318.6L276.9 322.1L272.2 325.4L249.8 329.2L233.2 333.3ZM271.8 251.3L269.8 250.8L269.1 250.1L268.6 248.6L268.7 247.1L270.4 245.6L272.2 245.0L275.8 245.4L280.8 244.1L282.5 244.6L283.5 245.6L283.7 246.6L282.8 247.2L278.8 247.0L276.2 247.7ZM264.8 254.3L264.2 254.5L263.2 254.3L261.9 252.6L261.9 251.1L263.2 249.8L264.8 249.7L266.1 251.1L266.1 252.6ZM280.2 256.6L278.8 257.0L277.4 256.1L277.0 254.1L277.8 252.9L279.2 252.7L280.8 254.0L281.0 255.6ZM260.2 277.1L258.2 277.1L255.8 276.6L254.2 275.7L252.0 268.6L252.2 266.1L255.0 262.6L257.2 259.1L258.8 257.8L263.8 255.2L270.8 256.0L271.8 257.1L272.2 259.1L270.3 266.1L263.6 274.6L261.8 276.3ZM312.4 266.6L313.8 265.1L315.0 261.6L315.0 259.6L314.8 259.0L313.8 258.4L312.8 258.5L311.5 259.6L310.6 261.1L310.0 263.1L310.2 265.7L311.2 266.6ZM220.2 296.1L216.8 295.7L212.9 294.6L212.2 294.1L212.7 293.6L217.2 291.6L224.2 286.7L226.2 286.8L228.8 288.3L229.2 290.1L228.9 293.1L228.2 293.9L225.2 295.4ZM177.8 325.1L174.8 325.3L171.2 324.5L170.6 324.1L170.0 323.1L170.3 321.1L171.3 320.1L173.2 319.4L176.2 319.4L178.2 320.0L179.4 321.1L179.8 323.1L179.2 324.2ZM218.8 333.7L217.2 333.8L209.8 331.5L202.8 331.6L207.8 327.7L211.8 326.5L213.8 326.4L216.8 327.1L217.9 328.1L219.6 332.1L219.4 333.1ZM102.2 339.6L97.8 339.8L97.2 339.6L97.1 338.6L97.8 337.2L98.8 336.1L100.8 334.9L102.2 334.5L103.8 334.7L105.6 335.6L106.9 336.6L107.5 337.6L107.6 338.6L107.0 339.1Z"/>
<path fill="#e064ff" fill-rule="evenodd" d="M370.2 216.1L366.4 216.1L359.2 214.9L357.2 213.8L354.6 211.1L352.8 206.9L352.3 205.1L352.3 203.6L354.2 200.0L357.2 196.9L360.8 195.0L366.8 195.3L372.8 193.9L379.2 191.6L391.2 189.9L402.2 188.9L403.8 189.6L405.4 191.1L406.2 192.7L406.6 194.6L406.0 198.6L404.2 202.4L402.2 204.4L391.8 210.8L385.2 212.3L377.2 213.4L372.5 215.6ZM430.8 234.6L429.8 234.9L428.2 234.7L425.2 233.1L422.8 230.6L420.8 226.7L420.3 223.6L420.5 221.1L421.8 218.4L424.4 215.1L424.6 212.6L424.2 211.1L421.4 208.6L420.2 206.6L419.8 203.6L420.7 201.1L423.8 197.4L428.2 194.1L439.2 192.2L444.2 192.5L448.2 193.2L452.2 191.0L453.8 190.9L455.2 191.6L456.7 193.1L457.3 195.1L456.5 203.1L455.2 205.4L453.2 207.4L450.0 209.6L446.2 211.2L445.4 212.1L444.8 215.6L443.7 218.6L444.7 223.1L444.2 226.2L443.2 227.2ZM360.8 239.1L357.8 239.5L350.8 238.9L347.8 237.9L345.8 236.4L344.9 235.1L344.5 233.6L344.5 232.1L345.2 229.6L344.0 225.6L344.4 224.1L345.7 222.6L347.2 221.5L349.8 221.1L352.8 221.5L355.8 223.3L360.8 222.6L366.2 223.0L369.8 224.0L372.8 226.0L374.0 228.1L374.4 230.1L373.9 232.1L372.6 234.1L370.8 235.4L367.5 237.1ZM393.2 225.7L391.8 225.5L390.8 224.1L391.2 222.4L392.8 221.5L394.2 222.0L394.9 223.6L394.3 225.1ZM309.8 297.6L305.2 297.7L300.8 297.1L298.8 296.1L297.7 294.6L297.5 293.1L297.8 292.3L300.8 291.1L301.8 288.6L302.8 287.4L307.8 286.0L309.2 285.1L307.8 282.6L304.7 279.1L302.8 274.1L301.8 274.2L299.2 275.8L297.2 276.4L294.8 278.1L289.2 279.2L281.8 278.8L280.8 278.3L280.6 277.6L282.4 273.6L284.0 267.6L286.4 265.1L288.6 260.6L290.2 258.2L295.9 252.1L303.2 247.4L308.4 243.6L315.3 240.1L317.2 239.6L320.8 240.0L325.8 241.5L332.2 246.4L333.1 247.6L337.0 255.1L341.0 264.6L341.2 266.6L340.2 273.6L339.2 276.1L335.0 281.6L329.8 284.5L326.2 287.5L323.2 288.1L322.8 288.6L322.6 291.6L321.4 293.1L315.7 296.1ZM260.2 275.1L258.2 275.4L256.2 275.0L255.2 274.4L253.6 268.1L253.8 266.6L257.9 261.1L260.3 259.1L263.2 257.5L264.8 257.1L269.8 257.8L270.5 258.6L270.5 259.6L268.8 265.1L265.0 270.1ZM312.9 267.6L313.8 266.6L314.8 264.6L315.8 260.1L315.2 258.1L313.2 257.3L311.8 258.0L310.5 259.6L309.5 261.6L309.0 264.1L309.1 265.6L309.8 266.8L311.8 267.8ZM223.8 294.1L219.8 294.4L218.2 294.1L217.9 293.6L223.8 288.8L224.8 288.3L225.8 288.4L227.2 289.7L227.2 292.0L226.2 293.2ZM249.2 327.6L246.9 327.6L253.7 323.6L258.2 320.1L258.7 319.1L258.5 317.1L257.8 316.0L244.7 313.1L243.2 312.2L242.3 310.6L242.0 309.6L242.4 308.6L245.1 306.1L247.8 302.6L250.4 300.1L253.8 297.8L259.2 295.7L264.2 292.7L277.2 289.7L278.8 290.0L280.8 292.4L283.8 291.5L286.2 291.2L289.5 292.1L291.2 293.4L292.0 295.1L292.1 296.6L291.6 298.1L290.2 299.6L288.7 300.6L286.8 301.1L284.8 301.1L282.8 300.5L281.7 301.1L281.1 304.1L275.8 320.6L274.8 321.9L272.2 323.7L270.8 324.3ZM176.8 324.1L174.2 324.2L172.2 323.7L171.5 323.1L171.2 322.0L172.0 321.1L173.2 320.6L175.2 320.4L177.2 320.7L178.4 321.6L178.7 322.6L178.1 323.6ZM217.8 331.9L216.8 331.9L213.9 331.1L209.6 329.6L209.5 329.1L211.8 328.2L215.8 328.1L216.7 328.6L217.2 329.3L218.0 331.1ZM101.8 338.1L99.8 338.1L99.6 337.6L100.6 336.6L102.2 336.1L103.8 336.3L105.0 337.1L104.8 337.6Z"/>
<path fill="#ff00ff" fill-rule="evenodd" d="M437.8 206.1L435.8 206.5L434.2 206.4L432.8 205.8L431.8 204.8L431.1 203.6L431.0 202.1L431.6 200.6L432.8 199.4L435.2 198.2L438.2 197.9L440.2 198.3L442.0 199.6L442.7 201.6L442.0 203.6L440.4 205.1ZM364.2 207.1L362.2 207.4L360.2 206.9L358.9 205.6L358.3 203.6L358.6 202.1L359.8 200.6L361.8 199.5L363.8 199.1L365.2 199.2L366.8 200.0L367.6 201.1L368.1 202.6L367.8 204.1L367.2 205.1L365.8 206.3ZM434.8 224.7L432.8 224.8L431.2 224.3L429.8 223.2L429.1 222.1L428.9 220.6L429.4 219.1L430.3 218.1L431.8 217.1L433.8 216.9L435.2 217.3L436.3 218.1L437.4 219.6L437.7 221.1L437.2 222.8L436.2 224.0ZM323.8 275.1L322.2 275.2L320.8 274.9L318.2 273.3L316.4 270.6L315.3 266.6L317.2 257.1L320.2 254.4L321.8 253.7L323.8 253.4L326.4 254.1L329.2 256.6L330.8 260.1L331.4 264.1L330.9 267.6L328.9 271.6L327.1 273.6ZM254.8 312.1L251.2 311.6L248.9 310.1L247.9 307.6L248.1 306.6L249.1 304.6L251.8 301.5L255.8 299.0L261.2 297.7L262.8 297.9L263.8 298.4L265.1 300.1L265.6 302.1L265.4 304.1L264.4 306.1L262.2 308.3L259.2 310.4L256.8 311.7Z"/></g>
<rect x="555.50" y="31.45" width="383.10" height="383.00" fill="#fff" stroke="none" stroke-width="1" />
<g clip-path="url(#cr)"><path fill="#ffe9bc" fill-rule="evenodd" d="M620.8 383.6L606.2 383.8L597.2 383.1L595.2 382.1L590.7 378.6L587.0 375.1L582.7 370.1L578.6 361.6L578.0 355.1L578.1 351.1L581.2 341.1L583.0 338.6L586.2 335.3L587.8 334.4L600.2 331.7L605.2 330.0L614.2 328.7L618.2 327.7L620.8 326.9L626.2 324.2L627.9 322.6L629.0 317.6L629.8 316.1L636.2 312.2L644.1 305.6L644.8 304.1L645.6 299.1L646.3 297.1L651.4 291.6L660.9 279.1L663.6 274.6L664.4 272.6L664.0 265.6L663.1 261.1L662.2 259.9L656.6 255.1L655.7 253.6L655.5 235.6L655.9 233.1L661.6 227.1L671.2 219.4L678.2 215.0L686.2 210.6L687.0 209.1L689.6 199.1L690.5 197.6L703.2 190.9L706.2 189.7L736.8 185.7L740.2 184.9L745.8 182.2L754.2 178.9L761.8 173.6L772.2 165.6L773.6 163.6L778.6 151.1L784.5 140.1L784.5 138.6L782.4 133.1L782.3 131.6L784.9 122.1L786.1 110.0L786.8 107.0L791.0 102.0L793.8 99.4L802.8 93.9L817.8 89.5L834.8 87.4L845.8 90.0L856.8 94.7L871.2 95.8L878.8 95.8L881.8 96.3L887.2 96.3L894.2 97.5L896.8 98.5L900.8 101.6L902.1 103.5L904.9 110.5L906.0 124.6L905.4 127.6L901.9 134.6L900.8 136.0L895.8 139.7L888.2 142.6L887.2 143.6L884.9 147.6L883.8 148.3L873.2 149.8L857.8 148.9L850.1 152.6L849.0 153.6L848.1 155.1L847.2 157.1L847.3 158.6L855.5 167.1L856.2 168.2L856.8 170.1L857.5 174.6L857.5 178.1L857.0 181.6L857.0 189.1L856.4 195.1L855.8 196.6L849.6 201.6L844.6 206.6L844.1 208.1L844.5 211.6L844.3 213.1L840.1 223.6L838.4 226.1L825.8 236.3L817.8 239.2L806.2 247.8L800.2 250.6L795.8 252.1L788.8 253.3L778.8 253.2L774.8 251.8L773.2 251.8L766.0 257.1L761.5 261.6L756.8 267.6L755.8 268.4L748.2 269.5L746.2 271.2L744.8 271.8L729.2 271.8L727.8 272.2L727.1 273.1L726.6 276.6L726.5 283.6L725.9 288.1L725.4 289.6L719.8 295.1L709.8 299.7L707.9 301.1L707.5 302.6L707.4 314.1L704.2 320.8L702.8 322.6L696.2 327.9L691.8 333.5L690.2 334.3L685.8 335.7L684.5 336.6L683.6 340.6L683.3 344.6L681.1 349.6L679.8 351.5L666.6 360.6L664.2 361.7L657.8 361.8L654.8 361.3L646.8 361.3L639.8 360.6L638.6 362.1L637.1 368.6L633.2 376.1L630.2 378.1Z"/>
<path fill="#dcffc8" fill-rule="evenodd" d="M629.2 367.1L628.2 367.5L621.5 364.1L618.2 359.1L616.8 357.6L615.8 357.4L614.8 357.8L611.1 360.6L609.8 360.6L602.0 357.1L598.0 351.1L596.8 350.2L587.8 349.1L583.6 349.1L581.5 348.6L581.2 348.1L580.7 343.1L581.2 342.6L581.1 341.1L581.6 340.1L587.2 334.5L588.2 334.5L588.8 334.0L590.8 334.0L591.2 333.5L593.8 333.4L594.2 332.9L596.2 332.9L596.8 332.5L598.8 332.5L599.2 332.0L600.8 331.9L601.2 331.4L602.2 331.4L603.8 330.4L604.8 330.4L605.2 329.9L607.8 329.9L608.2 329.4L611.8 329.4L612.2 328.9L614.8 328.9L615.2 328.4L616.8 328.4L617.2 327.9L618.8 328.0L627.2 324.0L628.2 323.1L628.2 322.1L628.7 321.6L628.7 318.6L629.2 318.1L629.2 316.6L629.8 316.0L632.2 315.0L633.2 314.0L635.8 313.0L644.7 305.6L644.7 304.6L645.2 304.1L645.2 301.6L645.7 301.1L645.7 298.6L646.2 298.1L646.2 297.1L651.8 291.5L653.2 291.3L656.6 288.6L658.6 288.1L664.8 287.4L667.2 286.8L678.2 280.3L679.5 279.1L683.8 271.5L684.7 270.6L690.4 271.1L701.2 273.8L702.8 273.6L705.0 270.6L708.8 264.1L712.8 258.6L722.1 252.6L729.0 242.6L734.2 228.2L736.2 223.6L738.8 219.6L745.0 212.1L748.5 206.6L749.2 204.6L749.2 202.1L748.7 199.6L749.0 198.1L766.2 185.6L776.6 172.6L778.5 169.6L784.2 152.7L790.0 140.6L790.0 139.1L788.5 133.1L790.6 124.6L791.8 112.4L793.8 104.8L794.8 103.0L800.2 97.5L801.8 96.5L812.5 93.0L816.8 92.4L818.8 91.7L834.2 89.2L845.0 92.0L855.8 96.8L861.2 98.0L863.0 101.5L864.8 102.9L867.2 103.0L868.8 102.4L869.5 101.5L870.8 98.6L871.5 98.0L876.2 98.0L878.2 98.5L883.2 98.5L883.8 98.8L884.8 100.5L884.9 101.5L882.4 107.5L881.3 115.5L881.5 117.5L884.0 121.6L885.8 123.7L887.2 124.3L893.0 125.6L894.8 126.3L897.9 131.1L897.8 132.4L896.8 135.4L896.0 136.6L889.8 140.3L889.3 141.1L889.3 142.1L888.2 142.1L886.8 143.6L885.8 146.1L883.8 146.2L874.2 148.1L870.2 148.2L868.8 149.1L866.2 149.1L865.8 148.1L864.2 147.6L861.8 147.8L860.8 148.6L857.2 148.6L849.8 152.6L849.2 152.6L846.8 157.2L845.2 157.3L841.2 158.6L839.6 160.1L838.9 162.6L838.8 166.1L838.3 168.1L838.4 169.6L838.9 170.6L840.8 171.8L845.8 173.9L848.2 173.9L853.8 172.8L854.8 173.0L856.2 175.5L857.2 176.1L857.5 180.1L857.0 180.6L857.1 190.6L856.6 191.1L856.5 196.1L852.8 199.3L852.2 199.3L850.8 200.8L850.2 200.8L844.1 207.1L844.1 209.6L844.6 210.1L844.5 213.1L843.5 214.6L843.5 215.6L842.5 217.1L842.5 218.1L841.5 219.6L841.4 220.6L840.5 222.1L840.4 223.1L839.4 225.1L834.2 229.7L833.8 229.7L831.2 232.3L830.8 232.3L828.8 234.3L828.2 234.3L825.2 236.8L824.2 237.3L822.8 237.3L822.2 237.8L821.2 237.8L820.8 238.3L819.2 238.3L817.2 239.3L815.8 240.8L813.8 241.7L810.2 244.7L809.8 244.7L807.2 247.1L806.8 247.1L805.8 248.1L804.2 248.6L803.8 249.1L802.8 249.2L800.2 250.7L799.2 250.8L797.8 251.8L796.2 251.8L795.8 252.3L793.8 252.3L793.2 252.8L790.8 252.8L790.2 253.3L777.8 253.3L773.8 251.3L769.8 254.3L769.2 254.3L767.8 255.8L767.2 255.8L760.5 262.6L760.5 263.1L758.5 265.1L758.5 265.6L755.8 268.8L751.8 268.8L751.2 269.3L747.8 269.2L746.8 270.1L746.2 271.6L727.2 271.6L726.8 272.1L726.8 275.6L726.4 276.1L726.3 284.6L725.8 285.1L725.8 289.1L719.8 295.3L715.8 297.3L714.8 297.3L712.2 298.8L711.2 298.8L709.8 299.8L708.2 300.2L707.4 301.1L707.5 314.6L706.0 317.1L704.0 321.6L700.2 324.9L699.8 324.9L697.8 326.9L697.1 327.1L695.5 328.6L695.5 329.1L694.0 330.6L694.0 331.1L691.8 333.8L690.8 334.3L689.8 334.3L689.2 334.8L688.2 334.8L687.8 335.3L686.2 335.3L685.8 335.8L684.8 335.8L684.0 336.6L683.9 339.6L683.4 340.1L683.2 343.5L664.2 348.4L639.8 352.8L638.2 353.7L637.5 354.6L634.8 361.4Z"/>
<path fill="#90fa90" fill-rule="evenodd" d="M846.2 145.6L842.8 145.6L841.2 145.1L837.8 141.3L837.0 139.1L837.5 138.1L839.0 137.6L840.8 137.7L845.2 139.2L846.8 138.9L847.8 138.1L848.1 136.6L846.6 132.6L846.2 128.9L843.8 130.4L842.8 130.5L841.2 130.0L837.2 127.7L835.8 126.4L833.5 123.1L833.1 118.5L832.2 118.2L829.8 118.0L827.7 116.5L827.0 115.5L826.9 114.5L828.5 112.5L829.2 111.0L829.3 109.5L828.8 106.5L828.2 105.8L827.2 105.5L822.8 105.8L821.8 105.3L821.1 104.5L820.6 103.5L820.4 101.5L819.2 100.1L818.6 98.5L818.5 93.5L819.2 92.6L834.2 90.0L835.8 90.5L837.2 96.0L839.2 96.7L842.8 98.7L847.2 99.9L850.0 102.0L852.7 106.0L853.4 109.0L852.3 112.5L852.9 116.0L850.2 120.1L849.2 125.1L849.4 125.6L851.8 125.0L856.2 122.2L857.2 121.9L863.2 123.3L864.5 124.1L865.2 125.0L865.5 127.1L864.9 132.1L863.8 133.2L859.0 135.6L859.0 136.1L861.8 137.8L862.4 138.6L862.7 140.1L862.2 141.2L856.2 145.0L852.2 145.5ZM834.9 113.0L835.8 112.0L836.0 110.5L834.9 108.0L833.8 107.5L832.8 108.4L832.6 110.0L833.8 112.5L834.2 113.0ZM817.2 117.6L816.2 117.5L815.2 117.0L814.9 116.0L815.2 114.5L814.2 113.0L815.8 109.7L816.8 109.2L817.9 109.5L818.7 110.5L819.0 115.0L818.8 116.7ZM812.2 114.6L811.8 114.6L811.2 114.0L811.2 113.1L811.8 112.8L812.9 113.0L813.3 113.5ZM824.8 133.7L823.8 133.7L822.4 133.1L822.0 132.6L821.6 130.6L821.2 130.2L820.7 130.1L818.8 131.5L817.8 131.6L814.2 129.8L813.4 128.6L813.1 127.1L813.3 125.6L814.2 124.2L817.2 122.1L820.8 121.1L824.8 121.7L829.0 124.1L829.7 125.6L829.5 127.1L829.2 127.4L827.2 128.0L826.1 129.1L825.7 130.1L826.4 132.1L825.8 133.1ZM801.2 134.1L799.2 134.0L796.2 133.2L795.2 132.5L794.5 131.1L794.4 126.6L795.2 125.5L798.2 123.7L799.8 123.7L803.2 125.1L804.8 126.3L805.7 128.1L805.8 130.1L804.8 131.9L803.2 133.3ZM804.2 189.7L802.8 189.8L800.0 187.1L796.8 185.5L795.3 184.1L794.4 182.6L794.2 180.1L795.4 175.6L794.8 170.6L795.4 165.6L797.1 162.6L800.2 159.2L802.2 159.1L805.8 160.6L806.4 156.1L806.2 150.1L806.7 148.6L808.8 145.1L808.1 142.1L808.8 140.1L811.2 138.2L816.8 135.9L820.2 135.8L822.8 136.2L825.2 137.4L826.2 139.1L826.4 143.1L825.3 147.1L824.4 148.6L823.2 149.3L820.2 149.6L820.0 150.1L820.5 153.6L819.7 156.6L819.0 158.1L816.0 162.1L814.8 162.9L811.8 163.6L809.8 164.6L811.5 167.6L811.9 169.1L811.8 175.6L809.9 183.1L805.8 188.6ZM827.2 169.1L825.8 169.0L824.8 168.5L823.7 167.6L823.3 166.1L823.8 164.8L824.8 163.6L827.2 162.1L828.2 161.9L828.8 162.6L829.5 167.1L828.8 168.4ZM751.2 269.2L747.3 269.1L747.2 265.1L747.8 263.1L750.1 260.1L752.5 252.1L754.8 249.0L758.8 246.7L761.8 245.9L764.2 246.4L767.2 248.4L768.8 248.3L769.4 247.6L769.7 245.1L770.2 243.6L772.8 240.1L774.8 238.5L780.2 237.0L782.2 235.7L783.7 234.1L783.5 231.6L784.5 229.6L790.5 225.6L794.8 224.8L799.8 222.1L802.2 221.3L806.4 221.6L809.8 222.4L812.8 220.8L814.8 220.6L816.0 221.1L817.4 222.6L819.2 222.8L821.3 222.6L824.8 221.2L825.1 220.6L825.7 216.6L824.6 211.1L825.0 210.1L827.3 207.1L827.1 206.1L824.9 202.6L823.3 196.1L823.7 194.1L825.3 191.6L826.8 190.2L829.2 189.1L833.2 186.4L834.8 186.1L837.8 186.1L839.2 185.6L845.7 181.1L849.8 176.0L851.7 174.6L853.2 174.0L854.2 174.1L856.0 176.6L857.2 177.2L857.4 180.1L856.9 180.6L857.0 190.6L856.5 191.1L856.5 196.1L852.8 199.3L852.2 199.3L850.8 200.8L850.2 200.8L844.0 207.1L844.0 209.6L844.5 210.1L844.5 213.1L843.5 214.6L843.4 215.6L842.4 217.1L842.4 218.1L841.4 219.6L841.4 220.6L840.4 222.1L840.4 223.1L839.4 225.1L837.8 226.6L837.2 226.6L831.2 232.2L830.8 232.2L828.8 234.2L828.2 234.2L825.2 236.7L824.2 237.2L822.8 237.2L822.2 237.7L821.2 237.7L820.8 238.2L819.2 238.2L817.2 239.2L815.8 240.7L813.8 241.7L807.8 246.4L803.8 247.3L802.2 249.6L800.2 250.7L799.2 250.7L797.8 251.7L796.2 251.7L795.8 252.2L793.8 252.2L793.2 252.7L790.8 252.8L790.2 253.3L779.2 253.3L777.8 253.3L774.2 251.3L772.8 251.7L771.2 253.2L770.8 253.2L767.8 255.7L767.2 255.7L765.8 257.2L760.4 262.6L760.4 263.1L758.5 265.1L758.5 265.6L755.8 268.8L751.8 268.8ZM796.8 199.6L793.8 199.6L791.8 198.6L790.0 196.6L789.7 195.6L789.8 194.1L791.1 191.6L792.2 190.7L797.2 189.2L799.8 189.3L801.3 190.1L802.1 191.1L802.6 195.1L802.5 197.1L801.2 198.5ZM773.8 206.1L772.2 205.9L770.8 204.7L769.5 202.1L769.8 200.6L772.1 197.6L774.2 195.8L777.2 194.9L779.9 195.1L781.0 196.1L781.6 197.6L781.8 200.1L781.2 201.8L779.8 203.5L776.8 205.4ZM775.2 219.1L774.8 218.9L774.1 218.1L774.4 216.6L777.8 214.5L778.8 214.3L779.3 214.6L780.0 215.6L779.8 216.1L777.8 217.1ZM758.2 233.6L756.2 233.6L754.8 233.2L753.8 232.4L752.2 230.5L751.5 229.1L751.4 227.6L751.9 226.1L752.8 225.2L754.2 224.8L756.8 225.3L759.4 226.6L761.0 228.1L761.8 230.1L761.8 231.6L760.8 232.8ZM707.2 301.7L706.5 300.1L706.5 298.6L706.9 297.1L708.0 295.1L707.8 294.9L696.2 297.0L689.8 297.0L687.8 296.4L686.9 295.6L686.5 294.6L687.0 291.6L686.0 288.6L686.7 287.1L688.8 285.1L692.2 283.4L697.2 281.9L706.8 280.8L710.8 279.0L712.2 279.0L714.3 279.6L715.7 280.6L716.2 281.9L716.8 282.0L717.8 280.3L718.0 276.6L719.2 274.5L720.8 273.6L722.2 273.4L723.8 273.6L725.2 274.3L726.5 275.6L726.2 279.7L726.0 280.1L723.8 281.7L719.8 282.1L719.2 282.5L715.7 288.1L712.2 290.2L709.1 294.1L712.1 294.1L714.8 292.0L717.2 291.3L720.2 291.7L721.6 292.6L721.8 293.1L719.8 295.2L715.8 297.2L714.8 297.2L712.2 298.8L711.2 298.8L709.8 299.7L708.2 300.2L707.3 301.1ZM656.8 299.1L654.8 299.2L650.8 298.7L649.4 297.6L649.5 296.1L650.8 295.1L653.2 294.6L655.2 294.5L656.8 294.9L657.8 295.6L658.5 297.1L658.0 298.6ZM680.2 299.7L678.8 299.7L676.7 298.6L675.9 297.6L676.2 296.2L677.8 295.9L678.8 297.0L680.8 296.2L681.9 296.6L682.3 297.1L682.4 298.1L681.5 299.1ZM647.8 350.6L645.4 350.6L650.8 346.6L649.6 346.6L644.2 348.3L637.2 349.9L635.8 349.9L635.2 349.6L635.1 349.1L635.9 348.1L639.2 346.5L643.2 343.7L649.2 340.8L656.2 338.1L660.2 335.3L664.2 333.7L670.2 330.3L677.7 327.1L678.7 326.1L679.5 323.1L680.8 321.8L688.8 317.9L692.8 316.5L693.1 315.6L692.5 312.6L692.7 311.1L694.0 308.6L695.8 307.0L701.2 304.8L707.2 304.6L707.5 314.6L705.9 317.1L704.0 321.6L700.2 324.8L699.8 324.8L697.8 326.8L697.0 327.1L695.5 328.6L695.5 329.1L694.0 330.6L694.0 331.1L691.8 333.7L690.8 334.2L689.8 334.2L689.2 334.7L688.2 334.7L687.8 335.2L686.2 335.3L685.8 335.8L684.8 335.8L683.9 336.6L683.8 339.6L683.2 340.2L679.2 342.3L671.2 344.6L664.2 347.6ZM658.8 316.1L655.8 315.8L654.2 314.6L654.1 313.1L655.0 310.6L654.7 309.6L653.3 308.1L654.5 307.1L656.6 306.6L658.2 306.7L662.1 308.1L663.2 309.1L663.3 311.1L661.8 314.4L660.5 315.6ZM648.8 314.6L647.2 314.3L646.6 313.6L646.6 312.1L647.2 311.4L648.8 311.9L649.6 313.1L649.6 314.1ZM647.8 340.2L645.2 340.4L644.2 340.1L643.0 339.1L642.0 337.1L641.7 335.1L641.9 334.1L643.3 332.1L643.0 330.1L642.2 329.6L639.2 329.3L635.2 327.6L634.3 326.6L634.0 325.6L634.0 324.1L634.8 322.6L636.2 321.6L639.8 320.9L643.8 321.6L647.8 323.8L653.2 321.9L657.2 321.1L661.2 321.3L662.9 322.1L664.9 324.6L665.4 326.1L665.0 327.6L662.2 331.9L661.2 332.8L659.8 333.3L655.8 333.3L651.8 332.7L652.1 335.6L651.5 337.6L650.2 338.8ZM587.8 346.6L585.8 346.1L582.9 344.6L581.8 343.6L581.4 342.6L581.2 341.1L581.7 340.1L585.2 336.7L590.2 335.8L591.2 335.3L593.0 333.6L593.8 333.5L594.2 333.0L599.2 332.6L600.0 332.1L600.8 332.0L601.2 331.5L602.2 331.5L603.8 330.5L604.8 330.5L605.2 330.0L607.8 330.0L608.2 329.5L611.8 329.5L612.2 329.0L614.8 329.0L615.2 328.5L616.8 328.5L617.2 328.0L617.9 328.6L618.1 329.6L616.3 333.6L610.2 336.4L607.8 339.3L604.2 340.4L600.8 342.1L595.8 342.7L590.2 345.9Z"/>
<path fill="#64ffff" fill-rule="evenodd" d="M828.8 102.6L825.8 102.8L823.8 101.4L821.8 99.0L821.0 97.5L820.7 95.5L820.8 94.0L822.2 93.1L831.8 91.6L833.8 91.6L834.3 92.0L834.5 94.0L834.0 97.0L833.2 99.5L831.8 101.4ZM842.2 127.6L840.2 127.0L837.1 124.6L836.0 121.6L835.8 117.0L836.1 115.5L837.8 112.5L838.8 109.6L841.9 106.0L842.3 103.5L843.2 102.6L844.8 102.3L847.1 103.5L848.1 105.0L847.4 107.5L847.4 110.0L848.1 115.0L846.3 122.1L843.6 126.6ZM856.2 133.7L853.8 134.0L851.9 133.6L849.8 131.3L849.6 130.6L849.9 129.6L854.2 125.9L856.8 124.6L858.2 124.6L861.2 125.3L862.8 126.0L863.2 127.1L863.1 128.1L861.9 130.6L860.1 132.1ZM802.2 131.2L800.8 131.5L798.2 130.5L797.4 129.6L797.5 128.1L798.2 127.5L800.2 126.9L802.2 127.2L803.1 128.1L803.5 129.1L803.2 130.1ZM821.2 145.2L820.2 145.5L818.8 145.4L814.8 143.7L812.2 143.7L811.3 143.1L811.1 142.1L811.8 141.0L814.8 140.4L816.8 138.6L817.8 138.1L819.8 137.8L821.2 138.0L822.9 139.1L823.5 141.1L822.8 143.4ZM812.8 161.1L810.2 161.3L809.4 160.6L808.4 154.1L808.5 150.1L808.8 149.1L810.5 146.6L812.2 145.7L814.8 146.2L816.2 147.2L818.7 153.1L818.1 155.6L814.8 160.2ZM803.8 187.1L797.4 183.6L796.5 182.1L796.3 180.6L797.5 177.6L798.2 173.1L797.7 170.1L797.9 169.1L798.3 168.6L800.2 167.9L804.2 165.8L806.2 165.6L808.5 166.6L809.6 168.1L809.9 175.1L807.9 182.6L805.2 186.1ZM751.2 269.2L748.6 269.1L748.3 266.6L748.7 264.1L749.6 262.6L751.8 260.1L752.6 255.6L754.2 251.8L755.6 250.1L757.8 248.4L760.8 247.1L762.8 247.0L764.9 248.1L767.8 250.6L768.8 250.5L770.3 249.6L772.8 242.6L774.8 240.1L777.2 239.1L783.3 238.1L786.8 233.9L794.2 229.9L798.7 228.6L801.8 226.8L803.2 226.4L809.5 225.6L814.8 224.3L827.5 223.1L827.9 222.1L827.5 217.1L826.6 211.6L827.2 210.1L829.1 207.6L829.3 206.6L826.8 202.1L826.5 198.6L825.7 196.6L826.2 194.6L828.2 192.1L832.2 189.3L838.2 188.0L841.6 186.1L846.8 182.1L849.2 179.6L850.9 177.1L852.2 176.0L853.8 175.8L855.8 178.0L857.2 178.4L857.3 180.1L856.9 180.6L857.0 190.6L856.5 191.1L856.4 196.1L852.8 199.2L852.2 199.2L850.8 200.7L850.2 200.7L844.0 207.1L844.0 209.6L844.5 210.1L844.4 213.1L843.4 214.6L843.4 215.6L842.4 217.1L842.3 218.1L841.3 219.6L841.3 220.6L840.3 222.1L840.3 223.1L839.8 224.1L839.3 225.1L837.8 226.6L836.2 227.3L834.2 227.8L831.8 227.3L830.1 228.1L829.6 228.6L829.8 229.3L833.2 229.7L833.3 230.1L831.2 232.1L830.8 232.1L828.8 234.1L828.2 234.2L826.8 235.6L826.2 235.6L824.2 237.1L822.8 237.2L820.8 238.2L819.2 238.2L817.2 239.2L815.8 240.6L813.8 241.6L812.8 242.6L810.3 243.1L806.8 245.0L802.8 246.2L802.0 247.1L801.1 250.1L800.2 250.6L799.2 250.6L797.8 251.6L796.2 251.7L795.8 252.2L793.8 252.2L793.2 252.7L790.8 252.7L790.2 253.2L777.8 253.2L773.8 251.2L769.8 254.1L769.2 254.1L767.8 255.6L767.2 255.6L760.3 262.6L760.3 263.1L758.4 265.1L758.4 265.6L755.8 268.7L751.8 268.7ZM797.8 197.1L795.7 197.1L792.9 196.1L792.2 194.6L792.8 193.0L794.2 192.1L797.2 191.4L798.2 191.4L799.2 192.1L800.2 193.6L800.4 195.6L799.5 196.6ZM778.8 199.6L776.6 199.1L776.2 198.6L776.3 198.1L777.2 197.4L778.8 197.5L779.3 198.6L779.2 199.2ZM722.2 280.6L720.8 280.4L719.8 279.6L719.1 277.6L719.4 276.6L720.2 275.5L721.2 275.0L722.8 274.8L724.8 275.7L725.4 276.6L725.6 277.6L724.7 279.6L723.8 280.2ZM699.2 295.6L692.2 296.0L690.2 295.8L688.8 295.2L687.7 293.6L687.9 291.1L687.5 289.1L688.1 287.6L690.8 285.2L696.8 283.0L704.2 282.2L707.2 282.3L708.8 282.8L709.5 284.1L709.4 287.1L710.4 289.6L709.8 291.4L708.2 292.8L705.8 294.1ZM708.8 300.1L707.8 300.5L707.5 298.6L708.2 296.9L709.8 295.7L712.8 295.3L714.8 293.2L716.8 292.4L719.2 292.5L721.0 293.6L719.8 295.2L715.8 297.2L714.8 297.2L712.2 298.7L711.2 298.7ZM654.2 348.1L651.8 348.4L651.0 348.1L654.0 345.6L654.5 345.1L654.2 344.8L647.2 346.3L643.8 347.5L642.8 347.5L642.0 347.1L642.6 346.1L643.9 345.1L656.2 339.2L669.8 331.7L678.8 327.7L683.8 324.7L690.8 321.8L695.2 320.8L699.8 319.1L696.8 318.0L695.2 316.6L693.7 312.6L694.2 310.5L696.3 308.1L700.2 306.2L702.2 305.8L707.2 305.8L707.4 314.6L705.8 317.1L703.9 321.6L700.2 324.8L699.8 324.8L697.8 326.8L697.2 326.8L695.4 328.6L695.4 329.1L693.9 330.6L693.9 331.1L691.8 333.6L690.8 334.1L689.8 334.2L689.2 334.7L688.2 334.7L687.8 335.2L686.2 335.2L685.8 335.7L684.8 335.7L683.9 336.6L683.8 338.9L678.8 341.4L670.8 343.6L664.2 346.3ZM658.2 331.7L655.8 331.8L654.1 331.1L652.4 328.6L652.1 326.6L653.4 324.6L655.8 322.9L657.8 322.3L660.8 322.6L662.2 323.4L663.2 324.6L663.7 326.1L663.6 327.1L661.2 330.2ZM610.8 334.1L604.2 333.9L602.8 333.2L602.4 332.1L602.8 331.4L603.8 331.1L605.9 332.1L607.2 332.2L608.2 331.7L610.4 329.6L611.8 329.5L612.2 329.0L613.8 329.2L614.8 329.8L615.1 331.1L614.4 332.6L612.8 333.6ZM647.8 336.6L647.1 334.6L647.8 334.2L648.8 334.6L649.3 335.6ZM647.2 337.6L646.2 337.9L645.5 337.6L645.8 336.9L647.2 336.6L647.7 337.1ZM588.8 344.7L586.8 344.6L584.4 343.1L583.5 341.1L583.8 339.6L585.8 338.4L588.8 337.7L590.8 338.2L592.6 339.6L593.4 340.6L593.2 341.7L590.9 343.6Z"/>
<path fill="#00c8ff" fill-rule="evenodd" d="M828.2 100.6L826.2 100.4L824.2 98.9L823.1 97.0L822.9 95.0L823.3 94.5L825.8 93.8L832.0 93.0L832.5 93.5L832.6 94.5L832.0 98.0L830.8 99.6ZM841.8 124.2L839.8 124.3L838.3 123.1L838.1 121.6L838.2 117.0L839.9 114.0L841.2 110.5L842.7 109.0L843.8 108.8L844.3 109.5L843.8 112.5L844.6 118.5L843.2 122.6ZM815.8 155.2L813.2 155.5L812.2 155.2L811.8 154.6L811.8 152.6L810.7 150.1L810.9 149.1L811.8 148.1L813.8 147.8L815.2 149.1L817.0 153.1L816.8 154.2ZM803.8 184.2L801.2 183.6L800.2 183.1L799.4 182.1L799.3 180.6L800.2 177.6L800.6 173.6L801.3 171.6L803.2 169.2L805.0 168.1L806.2 167.7L807.2 168.1L807.8 169.1L807.6 172.1L808.0 174.1L807.8 175.6L807.1 179.1L805.9 182.1L804.9 183.6ZM836.2 225.1L834.2 225.5L831.2 224.6L829.5 219.6L830.1 216.6L828.8 214.5L828.3 212.6L829.1 210.6L831.5 208.1L830.8 203.6L831.3 199.6L832.9 196.1L835.2 192.8L838.2 190.0L846.8 184.2L850.4 180.6L852.2 178.2L853.2 177.8L855.8 179.3L857.2 179.6L856.8 180.6L856.9 190.6L856.4 191.1L856.3 196.1L852.8 199.1L852.2 199.2L850.8 200.7L850.2 200.7L843.9 207.1L843.9 209.6L844.4 210.1L844.3 213.1L843.3 214.6L843.3 215.6L842.3 217.1L842.3 218.1L841.8 218.9L838.2 219.6L833.8 218.6L833.2 218.8L833.8 219.9L835.2 220.8L839.0 221.6L839.1 222.1L838.7 223.1ZM790.2 253.1L777.8 253.2L774.2 251.1L771.9 252.1L772.3 247.6L774.7 242.1L775.8 241.1L777.2 240.4L779.8 239.9L782.8 240.0L784.8 239.2L786.4 238.1L787.8 235.7L791.2 233.3L795.5 231.1L798.8 230.0L802.2 228.4L815.8 225.7L823.2 225.1L828.8 225.2L829.8 225.6L829.8 226.6L828.2 228.6L828.0 229.6L831.7 231.6L826.8 235.6L826.2 235.6L824.2 237.1L822.8 237.1L820.8 238.1L819.2 238.1L817.2 239.1L815.8 240.6L810.8 241.0L804.3 244.1L801.2 245.0L799.9 249.1L797.8 251.6L796.2 251.6L795.8 252.1L793.8 252.1L793.2 252.6L790.8 252.7ZM751.2 269.1L750.0 269.1L749.8 268.6L749.5 267.1L749.8 264.9L750.7 263.1L753.7 260.1L754.2 255.8L756.2 251.6L757.9 249.6L759.8 248.4L761.8 248.0L763.8 248.6L764.9 249.6L766.1 251.1L767.1 253.6L767.1 254.6L765.2 256.7L764.2 258.6L760.3 262.6L760.3 263.1L758.4 265.1L758.4 265.6L755.8 268.7L751.8 268.6ZM757.5 259.1L757.2 258.1L756.8 257.7L756.2 257.6L755.7 258.1L755.7 258.6L756.2 259.3L757.2 259.5ZM722.8 279.1L721.8 279.0L720.7 278.1L720.8 277.1L721.8 276.2L723.2 276.4L723.9 277.1L723.8 278.4ZM698.8 294.6L692.8 294.9L689.8 294.1L688.8 292.6L688.7 289.6L689.2 288.1L691.8 285.9L697.2 283.9L703.2 283.3L706.2 283.6L707.8 284.2L708.3 285.1L708.4 287.6L709.1 289.6L708.4 291.1L705.2 293.2ZM708.8 300.1L708.6 298.6L709.5 297.1L711.2 296.4L713.8 296.9L714.8 294.6L715.8 293.8L718.2 293.3L720.2 294.4L719.8 295.1L716.8 296.6L716.2 296.6L715.8 297.1L714.8 297.1L712.2 298.6L711.2 298.6ZM705.8 317.6L704.8 317.2L698.2 317.2L696.8 316.5L695.8 315.1L695.0 312.6L695.3 311.1L696.3 309.6L698.2 308.1L700.8 307.0L702.8 306.8L707.2 307.0L707.3 314.6L705.8 317.1ZM658.8 346.1L655.2 346.5L655.0 346.1L657.0 344.1L657.1 343.6L656.8 343.4L651.2 344.4L650.2 344.1L651.2 343.0L655.8 340.7L667.8 333.7L679.2 328.6L686.2 324.7L691.2 322.6L695.2 321.9L698.2 320.7L701.8 319.9L705.2 317.7L705.3 318.6L704.8 319.1L703.8 321.6L700.2 324.7L699.8 324.7L697.8 326.7L697.2 326.7L695.4 328.6L695.4 329.1L693.9 330.6L693.8 331.1L692.3 332.6L691.8 333.6L690.8 334.1L689.8 334.1L689.2 334.6L688.2 334.6L687.8 335.1L686.2 335.1L685.8 335.6L684.8 335.6L683.8 336.6L683.8 337.9L677.2 340.9L670.2 342.8L665.8 344.7ZM657.8 330.6L655.8 330.6L654.4 329.6L653.6 327.6L654.0 326.1L655.3 324.6L657.2 323.5L658.8 323.5L660.8 324.1L662.1 325.6L662.2 326.6L661.9 327.6L660.2 329.4ZM588.2 342.1L586.8 341.9L586.4 341.1L586.5 340.6L587.8 339.6L589.2 339.6L589.8 340.1L589.9 341.1Z"/>
<path fill="#0064ff" fill-rule="evenodd" d="M828.8 98.1L827.8 98.0L826.8 97.4L826.0 96.0L826.2 95.3L829.2 94.5L830.5 95.0L830.6 96.0L830.3 97.0ZM803.8 181.3L802.8 181.2L802.2 180.8L802.2 179.1L804.5 174.6L805.2 174.3L805.7 175.1L805.3 178.6L804.7 180.1ZM838.8 217.6L836.8 217.3L834.0 216.1L832.7 215.1L831.8 213.6L832.1 212.1L834.2 210.1L834.4 209.6L834.2 208.1L832.6 204.6L832.3 203.1L832.7 200.6L833.8 197.6L836.2 194.1L839.8 191.2L847.0 186.1L852.8 180.4L853.8 179.9L856.8 180.8L856.9 190.6L856.4 191.1L856.3 196.1L852.8 199.1L852.2 199.1L850.8 200.6L850.2 200.6L843.9 207.1L843.9 209.6L844.4 210.1L844.3 213.1L843.3 214.6L843.3 215.6L842.2 216.8ZM790.2 253.1L777.8 253.1L774.2 251.1L773.7 251.1L773.6 248.1L775.7 243.1L776.8 242.1L778.2 241.5L780.2 241.2L783.2 241.4L790.2 239.2L789.9 237.1L791.8 234.8L802.8 229.7L816.2 227.0L822.8 226.6L825.6 227.1L826.6 227.6L826.2 229.7L828.2 231.3L828.6 232.1L827.5 233.6L823.1 236.6L819.8 238.1L815.2 239.3L811.2 239.6L807.8 240.9L799.2 242.8L798.9 243.6L799.1 247.1L796.7 250.6L794.6 252.1L793.8 252.1L793.2 252.6L790.8 252.6ZM762.2 257.3L760.8 257.4L759.2 256.8L757.9 255.6L757.4 254.6L757.4 252.6L758.1 251.1L759.2 249.9L760.8 249.3L762.2 249.4L763.6 250.1L764.5 251.1L765.2 252.6L765.1 254.1L764.7 255.1L763.8 256.3ZM755.8 268.6L751.2 268.8L750.7 266.6L751.2 264.6L752.2 263.2L754.2 261.8L755.8 261.4L757.8 262.1L758.8 263.1L759.3 264.1ZM698.8 293.6L694.2 293.9L692.2 293.8L690.8 293.2L690.1 292.6L689.9 291.6L689.8 289.6L690.2 288.6L691.2 287.4L692.7 286.6L698.2 284.7L703.2 284.4L705.2 284.8L706.7 285.6L707.8 289.1L707.2 290.6L704.2 292.5ZM715.8 297.1L715.4 297.1L715.3 296.1L716.2 294.7L717.8 294.4L719.3 295.1ZM709.8 299.6L709.8 298.5L710.8 297.6L711.8 297.6L712.5 298.1L712.2 298.6L711.2 298.6ZM703.8 316.1L699.8 316.3L697.5 315.6L696.8 314.5L696.2 312.6L696.4 311.6L697.3 310.1L698.8 308.9L701.2 307.9L705.2 307.8L707.2 308.2L707.3 314.6L706.2 315.5ZM659.8 344.6L658.6 344.6L658.8 343.1L657.1 342.1L657.2 341.6L658.9 340.1L667.2 335.0L679.8 329.2L690.2 323.9L692.2 323.3L695.8 322.8L698.8 321.6L702.2 321.0L704.2 320.0L703.8 321.6L702.8 322.6L702.2 322.6L697.8 326.7L697.2 326.7L695.3 328.6L695.3 329.1L692.8 332.0L688.9 334.6L688.2 334.6L687.8 335.1L686.2 335.1L685.8 335.6L684.8 335.6L683.8 336.8L675.8 340.4L669.8 341.9L665.8 343.6ZM657.2 329.1L656.2 329.1L655.3 328.6L655.0 327.1L656.2 325.2L657.2 324.8L658.2 324.8L659.5 325.6L659.6 327.1L658.8 328.2Z"/>
<path fill="#9664ff" fill-rule="evenodd" d="M839.2 215.6L837.9 215.6L836.6 215.1L834.6 213.6L834.8 212.9L836.4 211.1L834.0 202.6L834.4 200.6L835.7 197.6L837.1 195.6L839.9 193.1L844.8 189.2L848.2 187.0L853.2 181.9L854.2 181.6L856.8 182.0L856.8 190.6L856.3 191.1L856.2 195.5L850.2 200.6L843.8 207.1L843.8 209.6L844.3 210.1L844.2 212.4L842.2 212.6L841.2 214.6ZM782.2 253.1L777.8 253.1L775.8 252.1L775.4 251.6L775.0 249.6L775.3 247.1L776.4 244.6L777.9 243.1L779.8 242.5L783.2 242.9L788.7 241.1L792.2 240.8L792.7 240.6L792.9 239.6L792.2 237.1L793.5 235.6L802.2 231.4L809.8 229.4L816.8 228.2L822.2 228.2L824.0 229.1L825.4 231.6L825.4 232.6L824.3 233.6L821.8 235.3L818.8 236.7L807.8 239.8L797.2 241.7L796.8 242.1L796.8 242.6L797.6 245.1L797.5 246.6L796.8 248.1L794.8 250.3L791.2 252.1L789.4 252.6ZM790.4 247.6L792.2 246.8L793.4 245.6L793.7 244.1L792.8 242.9L791.2 242.8L789.2 243.4L787.9 244.1L787.0 245.1L787.0 246.6L787.8 247.3L788.8 247.6ZM761.2 256.1L760.2 255.9L759.2 255.3L758.6 253.6L759.2 251.5L760.2 250.8L761.2 250.6L762.8 251.2L763.8 253.1L763.1 255.1L762.2 255.8ZM755.8 268.6L752.5 268.6L751.9 267.6L751.8 266.6L752.2 265.1L753.2 263.8L754.8 262.8L755.8 262.6L757.2 263.1L758.4 264.6L758.3 265.6ZM698.8 292.7L695.8 293.0L692.2 292.6L691.1 291.6L690.9 290.1L691.2 289.1L692.1 288.1L693.8 287.1L698.8 285.7L702.8 285.4L704.8 286.0L705.8 286.7L706.5 289.1L705.6 290.6L703.8 291.6ZM704.2 315.1L701.2 315.5L698.8 315.1L697.5 313.6L697.6 311.6L699.0 310.1L701.2 309.0L704.2 308.7L706.8 309.2L707.2 309.5L707.2 313.7L705.9 314.6ZM664.2 342.6L661.2 342.8L660.0 341.1L661.6 339.6L667.8 335.8L680.8 329.8L689.8 325.1L692.2 324.2L696.2 323.7L699.8 322.5L702.3 322.6L700.2 324.6L699.8 324.6L697.8 326.6L697.2 326.6L694.2 330.1L687.8 333.9L676.8 338.9Z"/>
<path fill="#e064ff" fill-rule="evenodd" d="M841.2 210.6L838.8 210.4L837.6 209.1L835.8 202.6L835.8 201.6L836.4 200.1L838.6 196.6L840.8 194.3L845.8 190.4L849.8 187.8L853.7 183.6L854.8 183.1L856.8 183.3L856.8 190.6L856.3 191.1L856.2 193.8L851.3 197.6L847.2 201.6L846.3 204.6L843.8 207.1L843.8 209.6L844.2 210.1ZM799.2 239.6L795.8 239.4L794.8 238.6L794.8 237.4L796.2 236.1L799.9 234.1L808.9 231.1L818.2 229.6L821.8 229.8L822.9 230.6L823.1 231.6L822.2 232.6L820.1 234.1L816.7 235.6L807.8 238.3ZM780.2 252.1L778.8 252.0L777.8 251.4L777.1 250.6L776.7 249.1L776.8 247.6L777.5 245.6L778.3 244.6L779.8 244.0L780.8 244.1L782.2 245.1L783.0 247.6L782.5 250.6L781.6 251.6ZM755.2 267.7L753.5 267.6L753.2 267.1L753.2 266.1L754.4 264.6L756.0 264.1L756.8 264.6L757.0 265.6L756.3 267.1ZM698.2 291.6L693.8 291.7L692.6 291.1L692.3 290.1L692.8 289.1L693.8 288.4L698.0 287.1L702.2 286.7L703.8 287.0L704.8 287.7L704.9 289.1L703.9 290.1ZM703.8 314.1L701.2 314.4L699.8 314.2L698.9 313.6L698.7 312.6L699.9 311.1L702.2 310.1L704.8 309.9L706.2 310.3L707.0 311.6L706.6 312.6L705.3 313.6ZM665.2 341.1L663.2 341.3L662.7 341.1L662.7 340.6L668.9 336.6L681.2 330.8L687.8 327.1L692.2 325.3L696.2 324.9L699.8 323.9L700.6 324.1L695.1 328.6L689.8 331.5L677.5 337.1Z"/>
<path fill="#ff00ff" fill-rule="evenodd" d="M842.8 207.7L840.8 207.6L842.6 201.6L841.6 199.1L841.6 197.6L842.9 195.6L844.8 194.5L845.8 194.3L847.8 195.6L848.1 197.1L847.6 198.1L844.6 200.6L844.0 201.6L843.6 206.1ZM684.8 332.1L683.8 332.0L683.4 331.6L683.5 331.1L686.3 329.1L692.2 326.6L693.8 326.4L694.2 326.8L693.6 328.1L691.2 329.6L688.0 331.1Z"/></g>
<g stroke="#808080" stroke-opacity="0.5" stroke-width="1"><line x1="149.50" y1="31.45" x2="149.50" y2="414.45"/><line x1="213.25" y1="31.45" x2="213.25" y2="414.45"/><line x1="277.00" y1="31.45" x2="277.00" y2="414.45"/><line x1="340.75" y1="31.45" x2="340.75" y2="414.45"/><line x1="404.50" y1="31.45" x2="404.50" y2="414.45"/><line x1="85.50" y1="94.50" x2="468.60" y2="94.50"/><line x1="85.50" y1="158.25" x2="468.60" y2="158.25"/><line x1="85.50" y1="222.00" x2="468.60" y2="222.00"/><line x1="85.50" y1="285.75" x2="468.60" y2="285.75"/><line x1="85.50" y1="349.50" x2="468.60" y2="349.50"/></g>
<g clip-path="url(#cl)"><g transform="translate(-470.00,0)" fill="none" stroke="#000" stroke-width="1.35" stroke-linejoin="round" stroke-linecap="round"><path d="M760.7 35.1L762.2 33.6L762.3 33.3L762.9 33.3L764.5 34.0L766.3 33.4L767.5 32.8L768.6 33.1L769.5 34.4L770.2 36.0L769.3 36.9L767.9 37.2L766.9 37.5L766.2 38.4L765.2 39.7L764.3 40.8L764.1 42.0L762.6 43.1L760.7 43.5L760.0 43.8L759.5 44.6L758.4 45.0L757.4 45.4L756.4 46.2L754.9 46.4L753.4 46.3L752.2 46.5L750.8 46.3L749.6 46.2L748.4 47.5L746.8 49.0L745.6 49.8L744.7 50.3L743.7 50.6L742.3 50.5L741.6 50.2L740.9 50.1L739.6 50.4L738.2 50.7L736.8 51.1L735.8 52.0L734.5 52.6L732.7 52.3L731.3 52.2L730.3 52.4L728.8 53.2L727.3 53.6L725.8 53.8L724.9 54.7L724.0 55.3L722.5 55.6L721.0 56.1L719.7 56.5L718.6 57.3L717.9 58.3L716.8 58.8L715.0 59.0L713.6 59.9L712.8 60.7L712.3 60.9L711.4 61.7L710.7 63.0L710.4 63.9L709.4 64.6L708.1 64.8L706.6 64.6L705.0 64.8L703.7 65.5L702.2 65.5L700.7 65.7L699.6 66.2L698.7 66.2L696.8 66.2L695.1 66.8L694.4 67.1L693.2 67.0L691.8 67.3L690.4 68.2L689.1 69.1L688.2 69.7L687.4 70.7"/>
<path d="M696.3 59.9L697.4 60.8L698.2 60.7L699.8 60.5L701.9 60.6L703.6 60.4L704.9 60.4L705.6 60.9L706.7 61.5L708.3 61.2L709.6 60.5L710.7 60.3L711.8 60.5L713.3 59.9"/>
<path d="M707.4 91.9L708.3 90.6L709.5 89.8L711.1 90.3L712.8 90.2L714.3 89.7L715.0 89.9L715.3 90.7L716.4 91.4L717.6 92.2L718.1 92.9L718.3 94.1L717.7 95.5L716.9 96.7L715.9 97.8L714.5 98.8L713.8 99.3L713.4 99.2L712.1 100.0L710.5 99.6L709.4 98.4L708.7 97.6L708.7 96.6L708.4 95.5L707.8 94.1L708.0 92.8Z"/>
<path d="M789.9 71.3L789.2 73.2L789.0 74.2L788.7 74.7L788.3 75.6L787.2 76.5L786.2 77.3L785.4 78.3L784.0 79.4L782.9 80.8L782.5 82.0L781.7 83.0L780.5 83.8L779.6 84.7L778.8 85.6L777.8 86.6L776.8 87.7L775.6 88.5L774.2 89.4L773.2 90.0L773.0 90.5L772.3 91.6L770.5 92.5L769.4 92.9L769.5 93.7L769.0 94.8L767.2 95.9L765.4 96.5L764.5 97.4L763.6 98.4L762.6 99.3L761.8 100.7L761.3 102.0L760.7 102.4L759.4 103.0L758.4 104.4L757.7 105.6L756.5 106.3L755.3 106.7L754.3 107.2L753.4 108.3L752.6 110.4L752.1 111.8L751.5 111.8L750.3 112.4L748.6 112.8L747.5 112.6L747.0 113.4L746.0 114.9L744.1 116.1L743.0 116.7L742.5 117.1L741.5 117.6L740.4 118.3L739.5 118.9L738.3 119.4L736.3 120.0L734.8 120.6L733.7 121.1L732.6 121.1"/>
<path d="M667.1 109.2L668.9 106.9" stroke-width="2.2"/>
<path d="M702.2 119.9L703.1 118.4L704.2 117.5L704.9 117.1L705.6 118.2L706.4 119.5L707.3 120.6L708.1 119.0L708.9 117.6L710.0 116.6L711.1 118.0L711.8 118.9L711.9 119.9" stroke-width="1.6"/>
<path d="M733.0 120.5L731.8 121.2L730.2 121.6L728.9 122.2L727.7 122.4L726.6 122.5L725.6 123.2L724.4 123.8L723.4 124.1L722.2 124.0L720.5 123.6L719.0 123.4L717.5 123.0L716.2 121.9L715.5 121.0L714.7 120.4L713.3 119.9L712.4 119.3L712.2 118.0L711.9 116.4L710.3 115.9L708.4 115.7L707.0 115.7L706.2 116.8L704.9 117.9L703.4 118.4L702.8 118.8L702.5 119.7L701.6 120.8L700.6 121.8L699.4 122.7L698.0 123.3L697.0 124.1L696.1 124.7L695.0 124.7L694.0 125.3L692.8 126.3L691.3 127.3L691.0 128.6L690.0 129.1"/>
<path d="M555.0 157.7L556.0 156.7L556.5 156.5L557.5 155.4L559.2 154.5L560.5 154.0L561.2 152.9L562.1 152.0L562.9 151.3L564.0 150.4L565.6 149.9L567.0 149.5L568.0 148.8L568.6 147.9L569.2 147.3L570.4 147.1L571.9 147.0L573.3 146.8L574.6 146.2L575.9 145.8L577.2 146.0L578.3 146.4L579.2 147.0L580.0 147.4L580.9 148.0L582.2 148.8L582.5 150.1L582.8 151.5L583.5 153.0L582.8 154.0L581.6 155.0L581.0 155.9L580.6 157.0L579.8 158.3L578.6 159.2L577.2 160.1L575.8 161.2L575.0 161.8L574.3 162.2L573.2 162.9L572.0 163.4L571.4 164.0L572.5 165.4L573.4 166.3L574.5 166.6L575.9 165.9L576.5 165.3L577.0 166.2L577.1 167.6L576.7 168.4L575.8 169.6L574.6 170.6L573.1 171.1L572.3 171.4L571.2 171.1L569.5 171.7L569.3 173.1L569.9 173.8L570.6 174.1L571.7 174.2L573.4 174.0L575.0 173.0L576.3 172.0L577.3 171.7L578.3 171.3L579.1 170.2L580.1 169.1L581.6 168.4L582.8 167.6L583.5 166.9L584.2 166.6L585.2 166.3L586.9 165.7L588.4 165.2L589.5 164.0L590.3 162.7L591.4 161.8L592.8 161.6L594.1 161.8L595.2 161.8L596.4 161.7L598.2 161.4L599.5 161.5L600.1 161.7L601.0 161.5L602.2 160.7L603.7 160.1L605.5 159.9L606.9 159.5L607.8 159.0L608.7 158.9L609.9 159.2L611.3 160.2L612.7 161.4L614.1 161.9L614.9 161.7L615.4 161.9L616.6 162.7L618.8 163.3L620.5 163.2L621.7 163.1L623.0 163.6L624.4 164.5L625.0 164.7L624.7 165.3L624.4 166.6L623.3 167.5L622.6 168.4L622.5 169.3L622.2 170.5L621.9 172.2L621.5 173.9L621.9 174.7L623.4 174.4L624.8 174.1L623.4 175.0L622.2 175.6L620.9 175.4L619.7 176.1L618.7 177.2L617.7 178.6L616.9 180.0L615.6 181.2L614.9 181.9L617.1 181.8L618.8 181.7L620.0 182.0L620.0 183.8L619.8 185.1L620.9 185.2L622.6 185.8L624.1 186.4L624.9 185.3L626.0 184.4L627.4 184.0L628.6 184.5L629.3 184.9L630.7 185.0L632.4 185.1L633.3 185.4L634.1 186.1L635.4 186.9L636.9 187.6L638.3 187.6L639.1 187.6L639.9 188.3L640.4 190.1L641.2 191.3L641.6 192.0L641.5 193.1L642.1 194.5L642.1 195.6L640.8 196.2L639.6 196.8L638.6 197.5L637.1 197.4L635.8 197.1L634.8 198.2L633.5 199.2L632.8 199.6"/>
<path d="M555.0 188.1L556.3 187.3L557.0 186.6L557.4 186.4L559.0 186.6L561.2 186.4L562.8 186.1L564.4 186.0L565.8 186.4L566.5 187.2L567.2 187.3L568.2 187.4L569.3 187.9L570.5 188.8L572.1 189.5L574.3 190.0L576.0 190.3L576.8 190.4L577.2 190.4L578.2 189.6L579.7 189.2L581.4 189.8L582.8 190.3L583.4 190.0L584.6 189.9L586.2 190.5L587.5 191.1L589.4 191.6L589.1 192.4L588.2 192.9L587.3 193.7L586.7 195.1L586.1 196.5L585.3 196.6L584.1 196.3L582.9 195.8L582.0 196.1L580.8 196.4L579.1 196.7L577.9 197.8L576.8 198.3L575.6 198.1L574.6 198.4L573.6 198.9L572.0 200.1"/>
<path d="M715.0 122.6L714.6 121.1L714.0 120.0L713.0 119.0L711.9 118.1L711.4 116.9L710.7 116.9L709.8 116.9L708.5 116.8L707.2 117.2L705.8 117.8L704.2 117.7L704.5 118.1L705.3 119.0L704.6 119.8L703.3 120.7L701.8 121.4L700.8 122.3L700.1 123.5L698.9 124.2L697.3 124.3L695.6 123.6L694.9 123.8L694.1 124.3L692.5 124.1L691.5 124.8L690.8 126.3L690.0 127.6L689.3 128.3L688.9 128.4L688.2 129.1L686.7 130.1L685.1 131.2L683.9 132.1L683.0 132.7L682.0 133.8L681.2 134.7L680.0 135.4L679.2 136.2L679.0 137.3L678.9 139.1L678.5 140.9L678.6 142.3L679.0 143.3L679.7 144.0L679.5 145.1L678.6 146.4L677.6 147.2L676.4 148.1L675.0 149.1L673.7 149.3L672.9 149.9L672.3 150.4L671.2 150.6L669.7 151.5L668.2 153.2L666.6 154.4L665.8 154.5L665.3 154.1L664.0 154.1L662.2 154.9L660.6 155.9L659.4 156.5L658.9 156.8L657.8 157.2L656.4 157.9L655.6 158.6L654.7 159.1L653.3 159.7L652.3 160.2L651.7 161.3L651.1 163.0L650.5 164.3L650.3 165.1L649.2 165.8L647.9 167.1L649.1 168.1L650.7 169.0L652.1 170.0L653.4 170.6L654.3 171.1L655.1 172.0L655.9 172.4L656.4 172.7L657.6 173.9L659.2 175.0L660.0 175.7L660.6 177.1L661.1 178.8L662.0 180.0L663.1 180.7L663.7 181.1L664.4 181.9L665.0 183.2L665.6 184.9L667.0 186.0L668.0 186.3L668.3 186.8L669.0 187.8L669.7 189.5L670.5 190.9L671.8 192.1L672.7 193.4L672.9 194.7L673.1 195.7L673.7 196.3L674.6 197.5L675.1 199.1L675.3 200.1"/>
<path d="M618.0 151.8L622.9 149.7" stroke-width="2.0"/>
<path d="M616.0 117.4L617.5 116.2" stroke-width="2.0"/>
<path d="M640.9 111.5L642.7 112.4" stroke-width="2.4"/>
<path d="M555.0 190.0L555.9 188.9L556.9 188.0L557.5 186.9L558.9 186.4L560.7 186.2L562.0 186.1L563.1 186.6L564.3 186.7L565.8 185.8L566.8 185.9L567.9 186.8L569.5 187.9L570.7 188.3L571.4 188.5L572.5 189.0L573.6 189.2L574.7 189.5L576.0 190.2L577.4 191.1L578.5 191.2L579.7 190.2L581.5 190.2L583.0 190.8L583.7 191.0L584.5 191.0L586.3 191.0L588.0 191.2L588.7 191.4L588.4 191.8L587.9 192.8L588.1 194.3L588.0 195.6L587.2 196.7L585.8 197.7L584.8 198.7L584.2 197.9L583.1 196.9L581.4 197.0L580.1 197.2L579.2 197.4L578.2 197.9L576.9 198.5L575.2 199.1L573.8 199.5L572.8 199.6L571.6 199.9L570.0 200.5L568.8 201.1L568.1 202.1L567.3 202.7L566.7 203.2L565.5 204.0L564.1 204.7L563.2 205.3L562.3 206.0L561.1 206.6L559.9 206.9L558.7 207.2L557.5 207.5L556.4 208.2L555.0 208.9"/>
<path d="M627.2 175.0L625.6 175.6L624.1 175.7L622.7 175.6L621.7 175.7L620.7 175.6L619.4 175.9L618.2 176.9L617.6 177.9L617.8 178.9L617.3 180.3L615.9 182.1L615.5 183.2L617.0 182.7L617.9 182.6L618.7 183.8L619.6 185.0L620.9 185.0L622.3 184.9L623.2 185.8L624.5 185.8L625.8 184.8L626.6 184.3L627.3 184.7L629.0 185.0L630.9 185.2L632.0 185.3L633.2 185.5L634.6 186.1L636.0 186.4L637.5 186.1L639.1 185.4L639.8 185.8L640.2 186.8L641.0 187.8L642.1 188.8L641.8 190.2L641.0 191.3L640.4 192.5L640.8 194.3L641.9 195.4L642.8 196.0L643.0 197.1L642.9 197.8L642.0 198.2L641.2 198.8L640.1 198.3L638.9 197.6L637.9 197.0L636.5 197.7L635.6 198.1L635.2 198.7L633.8 199.7L633.7 201.0L634.4 201.7L635.4 202.5L636.8 203.4L637.9 204.5L638.4 205.9L639.0 207.0L639.7 207.7L640.7 208.4L641.4 209.3L641.1 210.1L640.5 211.1L640.0 212.4L639.5 213.1L638.6 213.5L638.0 214.7L637.6 216.3L637.3 217.7L637.1 218.8L636.5 220.2L635.4 221.7L634.6 222.8L635.5 223.8L636.3 224.7L635.7 225.9L635.2 227.5L634.4 228.4L633.5 228.5L633.4 229.2L634.6 230.0L636.1 230.0L637.8 229.8L638.6 229.3L638.9 227.7L640.1 226.2L641.4 226.8L642.2 227.5L643.4 227.0L644.8 226.2L645.7 226.0L646.8 226.0L648.4 225.7L649.8 224.9L651.0 224.4L652.5 224.1L653.7 223.8L654.7 223.7L655.8 223.2L656.9 222.7L658.5 222.6L659.8 222.6L660.8 222.6L662.3 222.6L664.0 223.2L665.0 223.7L664.9 222.9L665.3 221.8L666.6 221.2L668.2 221.1L670.1 220.7L671.6 219.9L672.8 218.9L673.6 217.5L674.2 216.6L674.7 216.1L675.6 215.2" stroke-width="1.9"/>
<path d="M674.7 202.8L675.4 203.6L675.5 204.9L676.1 206.6L676.6 207.9L676.2 208.7L675.7 209.5L675.3 211.3L675.1 213.0L674.9 214.1L674.3 215.6L673.7 217.0L673.4 217.9L672.9 218.5L672.1 219.3L671.5 220.1L670.6 220.8L669.0 221.3L667.4 222.0L666.0 222.3L664.8 221.7L663.7 221.8L662.5 222.5L661.4 222.6L660.2 222.9L659.3 222.8L658.1 222.5L656.5 223.3L655.2 224.0L654.4 224.2L653.2 224.7L651.6 225.8L650.1 226.1L648.9 225.9"/>
<path d="M673.8 226.2L675.1 226.0L675.6 227.0L675.5 228.0L674.8 229.0L674.1 230.6L674.0 231.5L673.3 232.3L671.7 233.3L671.0 232.8L672.2 231.7L673.3 230.8L673.2 229.2L673.2 227.6Z" stroke-width="1.6"/>
<path d="M678.0 237.2L679.3 237.7" stroke-width="2.6"/>
<path d="M664.4 251.9L666.9 250.8" stroke-width="2.8"/>
<path d="M669.8 248.1L671.1 246.3" stroke-width="2.4"/>
<path d="M675.0 244.1L677.2 243.3" stroke-width="2.2"/>
<path d="M723.6 205.6L724.7 206.6" stroke-width="2.6"/>
<path d="M562.2 227.2L561.7 228.4L561.4 230.1L561.1 231.3L561.0 232.3L560.9 234.0L560.3 235.3L559.8 235.7L559.8 236.8L560.7 238.3L561.9 239.2L562.5 239.9L562.3 241.2L562.5 242.7L563.4 243.8L564.2 244.7L565.0 245.8L565.7 247.1L566.1 249.0L566.4 250.5L566.1 251.4L566.7 252.4L567.8 253.4L568.5 253.6L569.7 254.1L571.1 255.2L571.8 256.0L572.4 256.9L573.4 258.0L574.7 258.8L576.4 259.4L577.6 260.5L578.6 262.0L579.3 263.2L578.9 264.5L577.9 266.0L576.6 266.9L575.9 266.8L575.2 265.6L573.8 264.9L572.2 264.1L570.7 263.1L569.2 262.6L568.3 262.5L567.3 261.6L566.0 260.3L565.1 260.0L563.9 260.3L562.0 259.9L560.3 259.6L559.5 259.6L558.6 260.1L557.4 261.5L556.5 262.1L555.0 261.9"/>
<path d="M570.6 264.6L571.9 264.5L572.8 263.8L573.9 264.4L575.8 265.7L577.2 266.3L578.7 266.1L578.3 264.5L577.3 263.2L576.4 263.2L575.3 263.0L573.5 263.3L572.2 263.8Z"/>
<path d="M555.0 273.3L556.9 273.9L558.0 274.0L559.2 273.8L560.5 272.9L561.0 272.1L559.8 270.9L558.6 269.4L557.8 268.4L557.1 267.4L556.5 266.6L555.0 267.2"/>
<path d="M563.3 268.0L565.0 267.6" stroke-width="2.0"/>
<path d="M578.3 266.7L578.4 267.4L578.7 268.8L579.1 270.3L578.9 272.1L578.4 273.4L577.5 273.9L576.5 274.7L575.9 275.8L575.2 276.4L574.0 276.9L572.4 277.3L570.9 277.9L569.4 278.7L568.2 279.5L567.1 280.3L566.0 280.7L565.0 280.9L563.6 281.4L562.1 282.0L561.3 282.5L560.3 283.3L558.8 284.0L557.3 284.5L555.8 284.6L555.0 284.1"/>
<path d="M562.2 283.3L562.8 284.1L564.1 284.9L565.7 283.9L566.7 282.8L567.4 281.9L568.5 281.8L569.8 282.3L571.3 282.6L572.3 282.6L573.3 283.0L573.7 283.6L574.9 284.5L576.5 285.5L577.2 286.1L578.6 285.8L580.1 285.8L580.4 284.7L580.5 283.1L581.6 283.9L583.1 285.0L584.1 286.4L583.4 287.3L582.8 287.8L581.5 288.4L580.1 288.6L579.2 289.6L578.3 290.6L577.6 291.1L576.3 291.5L574.7 291.4L573.5 291.6L573.3 293.3L574.3 294.6L575.3 295.3L576.6 295.3L577.4 294.7L577.9 294.9L578.4 295.4L578.0 296.3L576.6 297.5L574.8 298.2L573.6 298.5L573.1 299.3L574.7 299.6L575.6 300.5L574.7 302.1L573.8 302.8L572.2 303.0"/>
<path d="M632.8 242.8L633.8 242.0L635.0 241.0L636.4 239.9L638.0 239.3L639.1 239.2L640.2 239.4L642.3 239.8L643.8 240.5L643.8 241.6L643.0 243.1L641.8 244.3L640.9 244.9L639.7 245.0L638.2 245.4L637.0 245.6L635.9 245.3L634.9 245.2L634.2 244.0Z"/>
<path d="M573.3 302.2L573.9 301.1L573.9 299.7L574.1 300.6L575.0 301.7L575.8 303.0L575.9 304.8L575.0 306.6L573.7 307.3L572.5 307.3L571.4 308.2L570.4 309.7L569.2 309.4L567.9 308.4L567.4 309.1L566.8 310.1L565.9 311.3L564.7 311.5L563.4 311.6L562.8 312.8L563.4 313.7L564.1 314.4L563.1 315.4L562.3 316.3L561.8 317.0L561.3 318.3L560.8 319.6L560.6 320.5L560.7 321.7L558.9 323.0L556.9 323.7L556.7 323.9L556.2 324.8L555.0 326.1"/>
<path d="M668.6 313.3L669.2 315.2" stroke-width="2.6"/>
<path d="M673.0 307.4L675.0 308.6" stroke-width="2.8"/>
<path d="M555.0 368.6L555.5 367.1L556.1 366.5L557.3 365.5L558.1 363.9L558.8 362.5L559.8 361.6L560.1 361.1L560.2 360.3L561.0 358.6L562.1 356.9L563.0 356.0L563.5 355.4L564.1 354.5L565.1 353.2L566.5 352.1L567.7 351.0L568.4 350.0L568.9 349.2L569.3 348.1L570.1 346.8L571.4 346.3L572.8 346.6L574.0 346.4L575.3 346.5L576.6 347.1L577.4 347.5L578.3 348.1L579.6 349.1L579.8 350.9L580.0 352.5L579.4 353.5L578.8 354.4L578.5 355.4L578.1 356.6L577.7 358.0L577.5 359.6L577.4 360.5L577.0 361.4L576.3 362.6L575.8 363.7L575.4 365.3L574.4 367.1L573.7 368.1L573.6 368.8L573.7 369.9L573.1 371.5L572.3 373.0L571.8 373.9L571.3 374.7L571.0 375.5L570.2 376.3L568.6 377.9L567.7 379.6L567.9 381.2L568.1 382.8L567.9 384.1L567.3 384.9L566.4 385.4L565.7 386.0L565.7 387.0L565.3 388.5L564.1 389.2L562.8 388.2L561.8 386.7L562.2 385.1L562.0 384.0L560.8 383.5L559.7 382.9L558.8 382.1L558.0 381.6L557.4 380.5L556.7 379.0L556.7 377.7L556.6 376.7L555.0 375.1"/>
<path d="M602.2 358.9L603.9 357.8L605.3 358.3" stroke-width="2.6"/>
<path d="M606.7 357.5L608.3 356.7L609.4 355.8" stroke-width="2.6"/>
<path d="M622.2 351.7L623.9 353.1" stroke-width="2.8"/>
<path d="M687.0 281.8L688.3 280.5L689.3 279.7L690.5 280.9L690.7 282.0L689.8 283.1L689.0 282.9Z"/>
<path d="M694.0 280.7L696.1 276.1" stroke-width="1.9"/>
<path d="M671.7 308.6L675.0 307.2L678.6 305.0" stroke-width="2.8"/>
<path d="M668.5 314.4L669.4 313.3" stroke-width="2.4"/>
<path d="M652.8 335.1L655.3 331.4L658.1 329.2L661.1 326.1" stroke-width="3.0"/>
<path d="M694.3 234.9L695.7 235.2L695.9 235.5L696.7 236.5L699.1 237.1L701.0 237.4L701.8 238.0L702.5 238.9L703.2 240.1L703.7 241.2L703.8 242.0L704.2 243.1L705.3 244.6L706.5 245.9L707.2 246.9L707.5 247.6L707.8 248.2L706.7 249.1L705.4 250.5L704.8 251.9L704.3 252.8L704.3 253.8L704.4 255.2L704.0 256.6L703.4 257.6L702.8 258.6L702.4 260.2L701.8 261.7L701.0 262.7L700.4 263.7L699.9 265.1L699.5 266.7L698.9 267.0L697.7 267.2L696.7 268.2L696.0 269.3L694.9 270.8L694.0 271.6L693.2 271.7L692.3 270.5L692.4 268.7L692.7 267.7L692.1 267.6L691.3 266.1L690.4 265.5L689.7 266.5L690.0 268.4L689.8 270.0L688.9 271.0L687.9 271.2L686.8 270.4L686.2 269.3L685.4 268.0L685.3 266.8L685.7 265.5L685.1 264.6L684.2 263.6L683.7 261.8L683.0 260.0L682.8 259.0L682.9 258.1L682.3 257.2L681.6 256.4L682.3 255.2L683.5 253.8L685.0 253.0L685.6 251.5L685.2 250.1L683.6 249.6L682.1 249.0L680.5 248.5L679.6 247.7L679.6 246.5L679.1 245.2L677.4 244.3L676.0 243.8L676.9 242.9L678.0 242.1L679.2 241.6L680.3 240.8L681.7 239.4L683.1 239.4L684.1 239.4L685.1 238.2L686.3 237.7L687.7 237.5L689.3 236.7L690.3 236.1L691.4 235.7L692.6 235.3Z"/>
<path d="M677.5 244.6L677.0 246.0L676.8 246.5L677.4 247.5L677.6 249.3L678.4 250.7L679.9 251.9L680.6 251.6L680.7 250.8L680.4 249.9L680.1 248.1L679.4 246.3L678.5 244.9Z"/>
<path d="M685.6 245.2L687.5 245.1L689.0 245.7L689.3 247.4L689.3 248.6L689.8 249.5L690.3 250.6L689.1 251.8L687.3 252.0L686.6 251.7L686.9 250.2L686.3 248.6L685.3 247.8L685.0 247.2Z"/>
<path d="M683.0 253.7L684.4 253.6L685.7 254.3L687.2 255.7L687.0 256.9L685.5 257.9L684.4 257.5L684.0 256.2L683.4 254.9Z"/>
<path d="M710.3 241.6L711.2 240.5L712.4 240.1L713.7 240.2L714.8 239.3L715.3 238.4L716.1 237.4L718.0 236.1L719.6 235.3L720.5 234.9L721.6 234.8L722.8 234.6L724.0 233.9L725.0 233.0L725.9 232.5L727.1 232.5L729.3 232.6L731.3 232.3L732.4 231.5L733.7 231.1L735.2 231.1L736.5 230.4L737.4 229.9L738.3 230.1L739.7 230.5L740.7 231.4L741.1 232.5L741.4 233.8L741.8 235.5L741.1 236.8L740.2 237.6L739.9 238.1L738.9 239.3L737.8 240.9L737.5 242.5L736.3 243.6L734.9 244.1L734.2 242.9L733.5 241.7L732.2 241.1L730.5 240.8L729.4 240.8L728.7 241.0L727.1 241.9L725.5 242.3L725.2 242.7L724.7 243.0L723.2 243.7L721.6 244.8L720.8 246.0L720.9 247.0L720.6 247.8L720.0 249.0L719.3 250.0L717.8 250.0L716.3 249.5L715.5 248.5L714.8 247.1L713.6 246.1L713.4 244.9L713.8 243.4L712.9 243.0L711.7 242.4Z"/>
<path d="M761.1 205.0L761.0 205.7L760.1 206.9L759.5 208.5L759.2 209.9L758.8 210.8L758.1 211.9L757.1 213.5L756.0 214.8L755.3 215.2L754.2 214.9L752.7 215.3L751.8 215.6L750.7 214.7L748.6 213.9L747.0 213.4L746.1 213.1L744.9 212.8L744.0 213.0L743.1 213.1L741.9 213.2L740.0 213.5L738.5 213.6L737.5 213.8L736.0 214.6L734.8 214.9L734.0 214.5L732.8 215.1L731.2 215.4L729.3 214.9L727.8 215.1L726.8 215.5L725.7 215.5L724.3 215.2L723.4 214.9L722.8 214.9L721.8 215.4L720.2 216.1L718.3 216.3L717.1 216.3L716.1 217.1L714.8 217.9L713.7 218.8L712.4 219.9L711.4 220.7L710.6 221.3L709.2 221.8L708.3 222.5L707.7 223.5L706.8 224.4L705.4 225.6L703.7 226.6L702.4 226.7L701.2 227.0L700.4 227.9L700.0 228.6L698.6 228.9L697.0 229.3L695.9 229.8L695.0 230.1L694.5 230.9L694.2 232.5L694.4 234.0L695.0 234.4L696.3 234.3L697.4 234.6L698.4 234.6L699.8 234.2L701.3 234.5L703.0 234.8L704.6 234.0L705.5 233.6L706.4 233.8L707.4 233.4L708.7 233.4L710.1 234.0L710.8 233.0L711.8 231.3L713.2 230.5L714.3 231.1L715.2 232.2L714.4 233.3L714.0 233.3L715.0 232.7L716.6 232.7L717.6 232.8L718.6 232.5L720.0 231.8L721.0 231.4L722.0 231.0L723.4 230.4L724.6 229.7L726.0 229.3L728.1 228.9L729.9 228.7L731.3 228.3L732.4 227.7L733.3 227.4L734.3 227.0L735.5 226.5L736.5 225.5L738.0 224.6L739.4 224.7L740.3 224.7L741.3 224.6L742.8 225.5L744.2 226.0L745.2 226.6L746.0 227.6L745.8 228.7L745.8 228.6L746.9 228.3L748.9 227.9L750.3 226.7L751.7 226.0L751.9 226.4L751.1 226.9L750.6 227.9L750.2 229.0L748.9 230.5L747.5 232.1L747.7 233.0L747.8 233.8L748.6 235.1L749.6 236.7L750.3 237.9L750.4 238.6L751.1 239.3L752.7 239.6L754.3 239.7L755.2 240.3L756.2 240.8L757.4 239.9L758.7 239.3L759.8 239.2L760.5 238.3L760.8 236.2L761.8 234.6L763.0 233.8L763.5 233.2L764.0 232.6L764.9 231.8L765.7 231.0L767.1 230.7L768.9 230.8"/>
<path d="M758.9 219.2L759.6 218.2L759.6 217.4L760.4 216.6L761.9 216.6L762.3 217.9L761.3 218.7L760.0 219.4L758.7 220.4L758.2 221.5L757.8 221.7L757.8 220.1Z"/>
<path d="M756.2 240.7L757.1 240.1L757.7 239.6L759.6 239.1L761.2 238.0L762.3 236.7L762.7 235.5L762.8 234.1L763.4 232.8L764.2 232.0L764.9 231.8L765.9 231.7L767.2 230.8L768.6 229.7L769.9 229.2L770.7 228.7L770.4 227.5L769.3 226.3L767.8 225.4L766.5 223.7L767.3 222.1L768.7 221.4L770.2 221.8L770.8 222.6L771.7 224.2L772.6 225.2L773.7 225.0L774.5 225.5L775.5 226.1L776.9 225.7L778.5 225.1L780.2 225.2L781.6 225.1L782.9 224.6L783.9 224.8L784.9 225.4L785.9 225.4L786.9 225.3L788.2 225.2L789.7 224.6L790.7 223.4L791.2 222.7L791.6 222.1L793.0 221.7L794.8 221.5L795.6 222.3L795.8 223.1L795.4 224.1L795.0 225.5L796.0 226.6L797.5 225.6L797.8 223.9L798.1 223.1L799.2 221.9L800.2 221.0L800.6 219.9L801.2 218.9L801.8 218.5L802.7 218.9L804.1 218.7L805.3 217.1L806.0 216.4L806.5 215.5L807.4 214.5L808.8 214.8L810.3 215.2L811.3 215.9L811.0 216.7L810.4 217.4L809.1 217.9L808.0 218.7L807.7 219.6L808.8 220.8L810.1 222.1L811.3 221.8L811.9 221.2L812.9 220.5L814.0 219.5L814.5 218.5L814.7 217.6L815.4 216.3L816.9 215.5L818.0 215.1L819.0 213.9L819.9 212.7L820.3 212.1L819.6 210.8L818.9 209.3L818.1 207.9L818.0 206.7L818.4 205.9L818.6 205.1L818.6 204.2L818.7 202.9L818.8 201.1L819.7 200.0"/>
<path d="M768.1 200.0L767.7 200.7L767.3 201.8L766.6 202.9L765.5 204.0L763.6 204.9L762.3 205.0L761.9 205.8L761.4 207.3L760.8 208.3L759.9 209.4L759.3 211.2L759.3 212.5L758.8 213.3L757.4 214.0L755.7 214.9L754.8 214.8L754.8 214.1L754.4 212.2L752.5 211.4"/>
<path d="M759.5 216.2L760.4 215.7L761.8 217.0L762.5 218.0L761.5 219.1L760.6 220.3L759.5 221.0L758.9 219.8L759.5 218.3Z"/>
<path d="M723.6 205.8L725.0 206.7" stroke-width="2.8"/>
<path d="M814.2 208.1L815.3 209.4" stroke-width="2.4"/>
<path d="M828.1 137.9L827.7 139.0L828.8 140.6L829.7 141.8L829.0 143.1L828.5 144.5L829.2 145.8L829.8 146.7L830.4 147.3L831.3 148.5L832.1 150.1L832.4 151.7L832.5 152.8L832.9 153.5L833.5 154.8L834.1 156.2L834.9 157.2L835.8 158.6L836.2 159.9L836.0 161.1L835.8 162.5L836.2 163.5L836.8 164.3L836.2 165.7L835.5 167.4L835.3 168.6L834.9 169.9L833.9 171.0L832.6 171.6L831.8 172.6L831.0 173.4L829.8 174.5L829.2 176.3L829.1 178.0L828.5 179.0L827.2 178.5L826.0 178.1L825.4 178.2L824.5 178.9L823.2 180.0L822.3 180.8L821.6 181.9L821.3 183.5L821.6 184.4L822.2 185.1L823.1 186.3L823.2 187.7L822.9 189.4L823.0 191.2L823.0 192.5L822.6 193.6L822.1 194.4L821.5 195.0L821.0 196.3L820.8 197.7L820.9 198.9L820.3 200.2L819.4 201.5L819.1 202.9L818.7 204.0L818.3 205.0L819.0 206.4L819.4 207.6L819.2 208.9L819.6 210.1L820.5 211.4L820.4 212.6L818.6 213.6L817.5 214.2L817.6 214.5L817.1 215.4L816.0 216.6L815.2 217.6L814.5 218.3L813.2 219.6L812.1 220.8L811.8 221.4L810.7 221.1L809.2 220.5L809.0 220.1L809.3 219.1L808.6 217.6L807.3 216.2L806.6 216.2L806.0 217.6L805.0 218.6L803.4 219.0L801.9 219.6L801.3 220.2L802.0 221.2L802.3 222.0L801.4 222.4L800.5 222.8L799.5 222.6L798.4 222.3L797.6 221.9L796.4 222.2L794.7 222.5L793.1 223.0L792.6 224.0"/>
<path d="M812.8 138.3L812.7 139.1L813.2 141.0L813.7 142.5L813.5 143.2L812.2 143.8L811.2 144.6L810.6 146.1L810.6 148.0L810.5 148.7L809.3 149.5L808.8 151.0L809.6 152.4L810.3 153.6L810.1 154.9L809.6 156.4L808.6 157.7L807.4 158.4L807.2 159.0L808.6 159.0L809.7 159.1L810.7 159.9L811.3 161.6L811.0 163.4L810.2 164.9L809.8 165.8L809.9 166.5L809.4 167.5L809.0 168.7L808.9 170.0L808.3 171.3L807.3 172.1L806.5 173.0L805.8 174.6L805.1 176.0L804.7 176.7L804.7 177.6L804.1 178.7L802.7 180.1L801.8 181.7L801.3 182.6L800.5 183.4L798.8 184.0L797.4 184.3L796.7 184.8L794.9 186.0L793.2 187.2L792.7 187.9L792.5 188.6L791.5 189.0L789.7 189.9L788.4 191.0L788.1 191.5L787.9 191.9L786.7 193.1L784.9 193.8L783.7 194.6L783.2 195.5L782.3 196.0L780.1 196.1L778.3 196.6L777.7 197.4L776.6 197.9L775.2 197.9L774.6 197.5L774.0 196.7L773.3 195.8L773.4 194.5L774.3 193.2L775.4 192.5L775.8 191.5L775.2 190.5L774.4 190.3L773.0 191.0L772.0 191.4L771.2 191.8L770.0 192.6L768.9 193.6L768.3 194.0L768.7 194.9L769.8 196.5L769.8 198.0L769.1 199.4L768.5 201.2L767.9 202.1L767.4 201.9L766.8 203.1L765.8 204.9L764.6 205.4L763.4 205.8L762.7 206.6L761.6 207.4L760.3 207.9L759.2 208.4L757.7 209.3L756.5 210.1"/>
<path d="M786.9 183.9L788.0 182.9L789.0 182.2L789.7 181.3L790.5 180.3L791.4 180.6L791.8 181.4L791.0 182.6L790.1 184.1L789.4 185.6L788.3 186.6L787.4 185.5Z"/>
<path d="M834.3 87.5L835.4 87.7L836.2 88.4L837.1 89.5L838.3 90.6L839.6 91.7L840.7 92.8L841.6 93.3L842.7 94.1L843.4 95.5L844.5 96.4L846.0 96.6L846.9 96.9L847.5 98.2L848.3 99.7L848.7 100.5L849.5 101.3L851.2 102.0L852.7 102.7L854.2 103.2L855.3 103.7L856.0 104.2L857.3 104.4L858.3 104.6L858.8 105.1L859.9 106.0L861.7 106.5L862.8 106.4L863.9 106.9L865.6 107.9L867.0 107.7L868.6 107.0L870.0 107.3L870.9 107.3L872.2 106.5L873.5 105.8L874.5 105.1L875.7 104.6L876.8 104.5L877.4 104.0L877.6 104.5L877.6 105.9L877.3 106.7L876.5 107.0L875.8 107.9L875.6 109.4L876.4 111.2L877.3 112.3L878.3 112.0L879.2 111.9L880.4 111.9L879.3 112.9L878.0 114.2L878.9 115.2L880.5 116.0L881.4 115.8L883.0 115.4L884.7 115.0L883.3 115.5L882.1 116.1L880.7 116.4L879.6 116.8L878.9 117.6L877.4 118.2L875.9 118.3L875.1 118.7L873.7 119.4L871.8 119.6L870.2 119.7L868.8 120.0L867.6 120.3L867.2 119.9L866.5 119.5L865.4 119.7L864.2 120.2L862.4 121.4L861.1 122.5L860.5 122.9L859.6 123.6L857.8 124.6L856.3 125.1L855.6 126.0L854.9 127.0L854.6 127.9L854.0 129.4L853.1 131.2L852.7 132.3L852.0 132.6L850.6 132.0L849.5 131.2L848.5 130.5L846.9 130.0L845.3 129.7L844.1 129.6L843.3 128.8L842.8 128.1L841.3 127.9L839.4 127.6L838.4 127.2L837.5 126.1L835.9 125.0L834.7 124.6L833.7 124.9L832.6 125.2L831.3 125.5L830.0 125.8L829.1 125.9L827.7 125.8L826.1 126.1L825.3 126.4L824.4 127.0L822.5 127.5L820.8 127.5L819.8 127.2L818.4 127.0L816.9 126.2L816.1 126.0L814.8 126.8L814.0 128.6L814.2 130.0L815.6 130.9L816.9 131.5L817.9 132.1L818.6 132.9L819.5 133.3L820.7 133.7L822.0 134.4L823.4 135.2L823.1 135.5L821.8 135.9L820.9 136.5L820.2 137.0L819.0 137.1L817.4 137.7L816.2 138.2L815.0 138.5L813.4 138.9L812.2 139.0L811.1 138.2L810.3 137.8L811.1 137.0L811.6 135.9L811.4 134.4L810.6 133.2L810.0 132.2L810.0 131.0L810.2 129.7L809.5 128.2L808.7 127.0L808.5 126.0L809.1 124.8L809.3 123.7L809.9 123.2L810.9 122.3L812.6 122.1L813.8 122.1L814.3 121.0L814.7 119.4L815.5 118.6L815.3 117.4L814.3 116.1L815.7 115.6L817.1 115.1L818.1 115.1L819.1 115.6L820.5 115.7L821.8 114.9L823.0 115.0L824.2 115.1L825.0 114.3L826.1 113.5L827.5 113.1L828.0 112.1L827.8 110.5L827.2 109.1L827.5 108.4L828.7 108.0L829.8 107.3L830.2 106.1L830.8 104.8L832.1 104.0L832.3 102.9L832.0 100.8L831.6 98.9L831.5 97.5L831.2 96.8L831.0 95.8L831.4 93.8L831.0 92.4L830.6 91.6L831.7 90.6L832.8 89.3L833.7 88.7Z"/>
<path d="M809.4 153.3L809.9 151.9L811.2 150.9L811.8 149.9L811.9 148.5L812.4 147.2L813.3 146.4L814.4 145.5L815.3 144.3L815.9 143.2L816.9 142.1L818.0 141.8L818.6 143.3L819.5 144.5L819.9 145.8L819.7 146.8L819.7 147.3L820.8 148.1L822.1 147.5L823.1 146.1L823.3 144.6L823.4 143.2L823.1 142.1L823.8 141.2L824.4 140.2L825.7 140.8L827.6 141.8L828.3 142.2L828.2 143.0L828.5 144.5L828.9 145.6L829.2 146.6L829.3 147.9L829.8 149.2L830.8 150.4L831.5 151.9L832.0 153.2L832.1 154.1L832.5 154.6L833.1 156.1"/>
<path d="M880.1 109.9L881.3 108.7L882.5 107.9L883.5 107.4L884.2 106.8L884.4 105.5L885.3 104.3L886.8 103.4L887.9 102.4L888.4 101.4L889.4 101.0L890.7 100.8L892.4 101.0L892.8 101.3L891.1 102.4L889.8 103.3L888.9 103.7L888.0 104.3L887.0 105.4L885.9 106.5L885.2 107.2L884.5 108.2L883.3 109.3L882.4 109.5L881.8 110.1Z"/>
<path d="M898.6 100.3L899.8 99.9L900.5 98.7L901.0 97.7L902.2 97.0L903.4 95.7L904.6 95.1L905.8 94.6L906.4 93.7L907.7 92.8L909.3 92.6L910.2 92.4L911.2 91.5L912.2 90.4L912.8 89.9L913.4 90.4L914.5 89.4L915.5 88.8L916.9 89.3L918.2 88.9L919.3 87.7L920.5 87.6L921.6 87.6L922.7 87.9L923.4 89.3L922.4 89.6L920.8 89.5L919.1 90.4L917.8 91.4L916.8 91.6L915.8 92.0L914.9 92.6L913.9 93.3L912.8 94.0L911.5 94.4L910.1 94.9L909.4 95.9L909.0 96.9L907.5 97.6L906.2 97.9L905.6 97.9L904.6 98.3L902.6 98.9L901.2 99.9L900.4 100.8L899.2 100.8Z"/>
<path d="M930.6 87.6L931.6 86.3L932.2 84.2L932.9 82.8L934.2 82.4L935.3 82.2L936.2 81.8L937.3 82.5L936.7 83.7L935.2 85.0L934.2 85.7L933.5 86.0L932.3 86.5L931.3 86.7Z"/>
<path d="M895.1 110.0L897.6 109.2" stroke-width="3.0"/>
<path d="M825.1 91.5L826.4 92.5" stroke-width="2.6"/>
<path d="M802.8 130.8L803.9 129.7" stroke-width="2.6"/>
<path d="M837.9 30.3L837.4 31.3L837.5 33.0L837.4 35.2L837.3 36.6L837.3 37.5L836.9 38.3L836.5 39.7L836.1 41.4L835.3 42.5L834.7 43.2L833.9 44.5L832.9 45.8L833.4 46.8L834.0 48.1L834.5 49.7L835.4 50.9L835.8 51.6L836.2 52.3L837.3 53.5L837.7 54.6L838.2 55.8L838.7 57.5L838.5 58.8L837.9 59.8L836.8 61.1L835.7 62.2L835.6 63.5L835.3 64.7L834.9 65.7L835.1 67.1L835.3 69.0L835.2 70.6L834.4 71.8L833.6 73.1L833.3 74.5L833.0 75.6L833.3 76.5L834.4 77.5L834.8 78.8L834.3 79.5L834.6 80.0L836.0 80.9L837.0 81.4L837.5 81.2L838.2 79.9L839.1 78.2L839.5 76.9L839.8 75.9L840.6 75.0L841.6 74.1L842.7 73.7L843.7 73.0L844.7 72.4L845.8 72.6L847.4 73.2L848.4 74.0L849.4 74.5L850.8 75.1L852.1 75.5L852.9 76.2L853.0 77.7L853.4 79.3L853.8 80.5L854.0 80.7L854.5 79.5L855.3 77.9L855.6 76.2L855.2 74.6L854.8 73.8L854.5 73.0L854.3 71.7L853.0 71.2L851.6 71.1L850.8 70.5L850.3 68.9L849.7 68.0L849.6 67.1L849.1 65.9L847.8 65.4L846.9 65.3L846.4 64.4L845.4 62.7L844.4 61.5L844.0 60.5L843.5 59.5L842.5 58.2L842.4 56.5L842.9 54.9L842.8 54.0L842.7 53.1L842.8 51.6L843.1 49.6L843.0 48.0L842.8 46.9L843.9 45.5L845.4 44.8L846.3 44.3L847.3 43.1L847.8 41.6L848.0 41.1L848.9 41.0L850.7 40.5L851.8 39.7L852.6 39.4L853.9 39.2L855.3 38.8L856.9 38.8L858.6 39.0L860.0 39.9L861.0 40.3L861.6 39.8L862.3 40.2L863.2 41.7L864.8 42.7L866.3 43.2L867.5 43.5L868.8 43.8L869.7 44.5L870.0 45.8L870.0 47.2L869.9 46.6L869.7 45.5L868.5 44.6L867.9 43.2L867.8 42.0L867.3 41.1L866.2 40.1L865.3 39.1L864.9 37.8L864.4 36.3L863.7 35.0L863.0 33.7L863.1 32.6L863.5 31.7L861.9 30.3"/>
<path d="M816.4 30.3L816.9 31.4L817.0 32.7L816.5 34.5L816.0 36.2L815.7 37.3L815.0 38.5L814.3 39.8L813.9 40.9L813.9 42.3L813.9 43.8L812.9 44.8L812.2 45.7L812.2 46.9L811.7 48.3L811.5 49.8L811.2 51.1L810.3 52.4L809.0 52.9L808.2 53.0L807.4 53.4L805.9 54.2L804.4 55.4L803.7 56.4L803.2 57.0L801.9 58.0L800.5 59.3L799.6 60.6L798.7 62.0L797.6 62.8L796.3 63.5L795.3 64.2L794.5 64.7L793.4 65.5L792.6 66.8L792.5 68.6L792.1 69.8L791.0 70.1L790.0 71.3"/>
<path d="M813.3 43.8L814.4 42.1" stroke-width="2.2"/></g></g>
<g stroke="#808080" stroke-opacity="0.5" stroke-width="1"><line x1="618.50" y1="31.45" x2="618.50" y2="414.45"/><line x1="682.25" y1="31.45" x2="682.25" y2="414.45"/><line x1="746.00" y1="31.45" x2="746.00" y2="414.45"/><line x1="809.75" y1="31.45" x2="809.75" y2="414.45"/><line x1="873.50" y1="31.45" x2="873.50" y2="414.45"/><line x1="555.50" y1="94.50" x2="938.60" y2="94.50"/><line x1="555.50" y1="158.25" x2="938.60" y2="158.25"/><line x1="555.50" y1="222.00" x2="938.60" y2="222.00"/><line x1="555.50" y1="285.75" x2="938.60" y2="285.75"/><line x1="555.50" y1="349.50" x2="938.60" y2="349.50"/></g>
<g clip-path="url(#cr)"><g transform="translate(0.00,0)" fill="none" stroke="#000" stroke-width="1.35" stroke-linejoin="round" stroke-linecap="round"><path d="M760.7 35.1L762.2 33.6L762.3 33.3L762.9 33.3L764.5 34.0L766.3 33.4L767.5 32.8L768.6 33.1L769.5 34.4L770.2 36.0L769.3 36.9L767.9 37.2L766.9 37.5L766.2 38.4L765.2 39.7L764.3 40.8L764.1 42.0L762.6 43.1L760.7 43.5L760.0 43.8L759.5 44.6L758.4 45.0L757.4 45.4L756.4 46.2L754.9 46.4L753.4 46.3L752.2 46.5L750.8 46.3L749.6 46.2L748.4 47.5L746.8 49.0L745.6 49.8L744.7 50.3L743.7 50.6L742.3 50.5L741.6 50.2L740.9 50.1L739.6 50.4L738.2 50.7L736.8 51.1L735.8 52.0L734.5 52.6L732.7 52.3L731.3 52.2L730.3 52.4L728.8 53.2L727.3 53.6L725.8 53.8L724.9 54.7L724.0 55.3L722.5 55.6L721.0 56.1L719.7 56.5L718.6 57.3L717.9 58.3L716.8 58.8L715.0 59.0L713.6 59.9L712.8 60.7L712.3 60.9L711.4 61.7L710.7 63.0L710.4 63.9L709.4 64.6L708.1 64.8L706.6 64.6L705.0 64.8L703.7 65.5L702.2 65.5L700.7 65.7L699.6 66.2L698.7 66.2L696.8 66.2L695.1 66.8L694.4 67.1L693.2 67.0L691.8 67.3L690.4 68.2L689.1 69.1L688.2 69.7L687.4 70.7"/>
<path d="M696.3 59.9L697.4 60.8L698.2 60.7L699.8 60.5L701.9 60.6L703.6 60.4L704.9 60.4L705.6 60.9L706.7 61.5L708.3 61.2L709.6 60.5L710.7 60.3L711.8 60.5L713.3 59.9"/>
<path d="M707.4 91.9L708.3 90.6L709.5 89.8L711.1 90.3L712.8 90.2L714.3 89.7L715.0 89.9L715.3 90.7L716.4 91.4L717.6 92.2L718.1 92.9L718.3 94.1L717.7 95.5L716.9 96.7L715.9 97.8L714.5 98.8L713.8 99.3L713.4 99.2L712.1 100.0L710.5 99.6L709.4 98.4L708.7 97.6L708.7 96.6L708.4 95.5L707.8 94.1L708.0 92.8Z"/>
<path d="M789.9 71.3L789.2 73.2L789.0 74.2L788.7 74.7L788.3 75.6L787.2 76.5L786.2 77.3L785.4 78.3L784.0 79.4L782.9 80.8L782.5 82.0L781.7 83.0L780.5 83.8L779.6 84.7L778.8 85.6L777.8 86.6L776.8 87.7L775.6 88.5L774.2 89.4L773.2 90.0L773.0 90.5L772.3 91.6L770.5 92.5L769.4 92.9L769.5 93.7L769.0 94.8L767.2 95.9L765.4 96.5L764.5 97.4L763.6 98.4L762.6 99.3L761.8 100.7L761.3 102.0L760.7 102.4L759.4 103.0L758.4 104.4L757.7 105.6L756.5 106.3L755.3 106.7L754.3 107.2L753.4 108.3L752.6 110.4L752.1 111.8L751.5 111.8L750.3 112.4L748.6 112.8L747.5 112.6L747.0 113.4L746.0 114.9L744.1 116.1L743.0 116.7L742.5 117.1L741.5 117.6L740.4 118.3L739.5 118.9L738.3 119.4L736.3 120.0L734.8 120.6L733.7 121.1L732.6 121.1"/>
<path d="M667.1 109.2L668.9 106.9" stroke-width="2.2"/>
<path d="M702.2 119.9L703.1 118.4L704.2 117.5L704.9 117.1L705.6 118.2L706.4 119.5L707.3 120.6L708.1 119.0L708.9 117.6L710.0 116.6L711.1 118.0L711.8 118.9L711.9 119.9" stroke-width="1.6"/>
<path d="M733.0 120.5L731.8 121.2L730.2 121.6L728.9 122.2L727.7 122.4L726.6 122.5L725.6 123.2L724.4 123.8L723.4 124.1L722.2 124.0L720.5 123.6L719.0 123.4L717.5 123.0L716.2 121.9L715.5 121.0L714.7 120.4L713.3 119.9L712.4 119.3L712.2 118.0L711.9 116.4L710.3 115.9L708.4 115.7L707.0 115.7L706.2 116.8L704.9 117.9L703.4 118.4L702.8 118.8L702.5 119.7L701.6 120.8L700.6 121.8L699.4 122.7L698.0 123.3L697.0 124.1L696.1 124.7L695.0 124.7L694.0 125.3L692.8 126.3L691.3 127.3L691.0 128.6L690.0 129.1"/>
<path d="M555.0 157.7L556.0 156.7L556.5 156.5L557.5 155.4L559.2 154.5L560.5 154.0L561.2 152.9L562.1 152.0L562.9 151.3L564.0 150.4L565.6 149.9L567.0 149.5L568.0 148.8L568.6 147.9L569.2 147.3L570.4 147.1L571.9 147.0L573.3 146.8L574.6 146.2L575.9 145.8L577.2 146.0L578.3 146.4L579.2 147.0L580.0 147.4L580.9 148.0L582.2 148.8L582.5 150.1L582.8 151.5L583.5 153.0L582.8 154.0L581.6 155.0L581.0 155.9L580.6 157.0L579.8 158.3L578.6 159.2L577.2 160.1L575.8 161.2L575.0 161.8L574.3 162.2L573.2 162.9L572.0 163.4L571.4 164.0L572.5 165.4L573.4 166.3L574.5 166.6L575.9 165.9L576.5 165.3L577.0 166.2L577.1 167.6L576.7 168.4L575.8 169.6L574.6 170.6L573.1 171.1L572.3 171.4L571.2 171.1L569.5 171.7L569.3 173.1L569.9 173.8L570.6 174.1L571.7 174.2L573.4 174.0L575.0 173.0L576.3 172.0L577.3 171.7L578.3 171.3L579.1 170.2L580.1 169.1L581.6 168.4L582.8 167.6L583.5 166.9L584.2 166.6L585.2 166.3L586.9 165.7L588.4 165.2L589.5 164.0L590.3 162.7L591.4 161.8L592.8 161.6L594.1 161.8L595.2 161.8L596.4 161.7L598.2 161.4L599.5 161.5L600.1 161.7L601.0 161.5L602.2 160.7L603.7 160.1L605.5 159.9L606.9 159.5L607.8 159.0L608.7 158.9L609.9 159.2L611.3 160.2L612.7 161.4L614.1 161.9L614.9 161.7L615.4 161.9L616.6 162.7L618.8 163.3L620.5 163.2L621.7 163.1L623.0 163.6L624.4 164.5L625.0 164.7L624.7 165.3L624.4 166.6L623.3 167.5L622.6 168.4L622.5 169.3L622.2 170.5L621.9 172.2L621.5 173.9L621.9 174.7L623.4 174.4L624.8 174.1L623.4 175.0L622.2 175.6L620.9 175.4L619.7 176.1L618.7 177.2L617.7 178.6L616.9 180.0L615.6 181.2L614.9 181.9L617.1 181.8L618.8 181.7L620.0 182.0L620.0 183.8L619.8 185.1L620.9 185.2L622.6 185.8L624.1 186.4L624.9 185.3L626.0 184.4L627.4 184.0L628.6 184.5L629.3 184.9L630.7 185.0L632.4 185.1L633.3 185.4L634.1 186.1L635.4 186.9L636.9 187.6L638.3 187.6L639.1 187.6L639.9 188.3L640.4 190.1L641.2 191.3L641.6 192.0L641.5 193.1L642.1 194.5L642.1 195.6L640.8 196.2L639.6 196.8L638.6 197.5L637.1 197.4L635.8 197.1L634.8 198.2L633.5 199.2L632.8 199.6"/>
<path d="M555.0 188.1L556.3 187.3L557.0 186.6L557.4 186.4L559.0 186.6L561.2 186.4L562.8 186.1L564.4 186.0L565.8 186.4L566.5 187.2L567.2 187.3L568.2 187.4L569.3 187.9L570.5 188.8L572.1 189.5L574.3 190.0L576.0 190.3L576.8 190.4L577.2 190.4L578.2 189.6L579.7 189.2L581.4 189.8L582.8 190.3L583.4 190.0L584.6 189.9L586.2 190.5L587.5 191.1L589.4 191.6L589.1 192.4L588.2 192.9L587.3 193.7L586.7 195.1L586.1 196.5L585.3 196.6L584.1 196.3L582.9 195.8L582.0 196.1L580.8 196.4L579.1 196.7L577.9 197.8L576.8 198.3L575.6 198.1L574.6 198.4L573.6 198.9L572.0 200.1"/>
<path d="M715.0 122.6L714.6 121.1L714.0 120.0L713.0 119.0L711.9 118.1L711.4 116.9L710.7 116.9L709.8 116.9L708.5 116.8L707.2 117.2L705.8 117.8L704.2 117.7L704.5 118.1L705.3 119.0L704.6 119.8L703.3 120.7L701.8 121.4L700.8 122.3L700.1 123.5L698.9 124.2L697.3 124.3L695.6 123.6L694.9 123.8L694.1 124.3L692.5 124.1L691.5 124.8L690.8 126.3L690.0 127.6L689.3 128.3L688.9 128.4L688.2 129.1L686.7 130.1L685.1 131.2L683.9 132.1L683.0 132.7L682.0 133.8L681.2 134.7L680.0 135.4L679.2 136.2L679.0 137.3L678.9 139.1L678.5 140.9L678.6 142.3L679.0 143.3L679.7 144.0L679.5 145.1L678.6 146.4L677.6 147.2L676.4 148.1L675.0 149.1L673.7 149.3L672.9 149.9L672.3 150.4L671.2 150.6L669.7 151.5L668.2 153.2L666.6 154.4L665.8 154.5L665.3 154.1L664.0 154.1L662.2 154.9L660.6 155.9L659.4 156.5L658.9 156.8L657.8 157.2L656.4 157.9L655.6 158.6L654.7 159.1L653.3 159.7L652.3 160.2L651.7 161.3L651.1 163.0L650.5 164.3L650.3 165.1L649.2 165.8L647.9 167.1L649.1 168.1L650.7 169.0L652.1 170.0L653.4 170.6L654.3 171.1L655.1 172.0L655.9 172.4L656.4 172.7L657.6 173.9L659.2 175.0L660.0 175.7L660.6 177.1L661.1 178.8L662.0 180.0L663.1 180.7L663.7 181.1L664.4 181.9L665.0 183.2L665.6 184.9L667.0 186.0L668.0 186.3L668.3 186.8L669.0 187.8L669.7 189.5L670.5 190.9L671.8 192.1L672.7 193.4L672.9 194.7L673.1 195.7L673.7 196.3L674.6 197.5L675.1 199.1L675.3 200.1"/>
<path d="M618.0 151.8L622.9 149.7" stroke-width="2.0"/>
<path d="M616.0 117.4L617.5 116.2" stroke-width="2.0"/>
<path d="M640.9 111.5L642.7 112.4" stroke-width="2.4"/>
<path d="M555.0 190.0L555.9 188.9L556.9 188.0L557.5 186.9L558.9 186.4L560.7 186.2L562.0 186.1L563.1 186.6L564.3 186.7L565.8 185.8L566.8 185.9L567.9 186.8L569.5 187.9L570.7 188.3L571.4 188.5L572.5 189.0L573.6 189.2L574.7 189.5L576.0 190.2L577.4 191.1L578.5 191.2L579.7 190.2L581.5 190.2L583.0 190.8L583.7 191.0L584.5 191.0L586.3 191.0L588.0 191.2L588.7 191.4L588.4 191.8L587.9 192.8L588.1 194.3L588.0 195.6L587.2 196.7L585.8 197.7L584.8 198.7L584.2 197.9L583.1 196.9L581.4 197.0L580.1 197.2L579.2 197.4L578.2 197.9L576.9 198.5L575.2 199.1L573.8 199.5L572.8 199.6L571.6 199.9L570.0 200.5L568.8 201.1L568.1 202.1L567.3 202.7L566.7 203.2L565.5 204.0L564.1 204.7L563.2 205.3L562.3 206.0L561.1 206.6L559.9 206.9L558.7 207.2L557.5 207.5L556.4 208.2L555.0 208.9"/>
<path d="M627.2 175.0L625.6 175.6L624.1 175.7L622.7 175.6L621.7 175.7L620.7 175.6L619.4 175.9L618.2 176.9L617.6 177.9L617.8 178.9L617.3 180.3L615.9 182.1L615.5 183.2L617.0 182.7L617.9 182.6L618.7 183.8L619.6 185.0L620.9 185.0L622.3 184.9L623.2 185.8L624.5 185.8L625.8 184.8L626.6 184.3L627.3 184.7L629.0 185.0L630.9 185.2L632.0 185.3L633.2 185.5L634.6 186.1L636.0 186.4L637.5 186.1L639.1 185.4L639.8 185.8L640.2 186.8L641.0 187.8L642.1 188.8L641.8 190.2L641.0 191.3L640.4 192.5L640.8 194.3L641.9 195.4L642.8 196.0L643.0 197.1L642.9 197.8L642.0 198.2L641.2 198.8L640.1 198.3L638.9 197.6L637.9 197.0L636.5 197.7L635.6 198.1L635.2 198.7L633.8 199.7L633.7 201.0L634.4 201.7L635.4 202.5L636.8 203.4L637.9 204.5L638.4 205.9L639.0 207.0L639.7 207.7L640.7 208.4L641.4 209.3L641.1 210.1L640.5 211.1L640.0 212.4L639.5 213.1L638.6 213.5L638.0 214.7L637.6 216.3L637.3 217.7L637.1 218.8L636.5 220.2L635.4 221.7L634.6 222.8L635.5 223.8L636.3 224.7L635.7 225.9L635.2 227.5L634.4 228.4L633.5 228.5L633.4 229.2L634.6 230.0L636.1 230.0L637.8 229.8L638.6 229.3L638.9 227.7L640.1 226.2L641.4 226.8L642.2 227.5L643.4 227.0L644.8 226.2L645.7 226.0L646.8 226.0L648.4 225.7L649.8 224.9L651.0 224.4L652.5 224.1L653.7 223.8L654.7 223.7L655.8 223.2L656.9 222.7L658.5 222.6L659.8 222.6L660.8 222.6L662.3 222.6L664.0 223.2L665.0 223.7L664.9 222.9L665.3 221.8L666.6 221.2L668.2 221.1L670.1 220.7L671.6 219.9L672.8 218.9L673.6 217.5L674.2 216.6L674.7 216.1L675.6 215.2" stroke-width="1.9"/>
<path d="M674.7 202.8L675.4 203.6L675.5 204.9L676.1 206.6L676.6 207.9L676.2 208.7L675.7 209.5L675.3 211.3L675.1 213.0L674.9 214.1L674.3 215.6L673.7 217.0L673.4 217.9L672.9 218.5L672.1 219.3L671.5 220.1L670.6 220.8L669.0 221.3L667.4 222.0L666.0 222.3L664.8 221.7L663.7 221.8L662.5 222.5L661.4 222.6L660.2 222.9L659.3 222.8L658.1 222.5L656.5 223.3L655.2 224.0L654.4 224.2L653.2 224.7L651.6 225.8L650.1 226.1L648.9 225.9"/>
<path d="M673.8 226.2L675.1 226.0L675.6 227.0L675.5 228.0L674.8 229.0L674.1 230.6L674.0 231.5L673.3 232.3L671.7 233.3L671.0 232.8L672.2 231.7L673.3 230.8L673.2 229.2L673.2 227.6Z" stroke-width="1.6"/>
<path d="M678.0 237.2L679.3 237.7" stroke-width="2.6"/>
<path d="M664.4 251.9L666.9 250.8" stroke-width="2.8"/>
<path d="M669.8 248.1L671.1 246.3" stroke-width="2.4"/>
<path d="M675.0 244.1L677.2 243.3" stroke-width="2.2"/>
<path d="M723.6 205.6L724.7 206.6" stroke-width="2.6"/>
<path d="M562.2 227.2L561.7 228.4L561.4 230.1L561.1 231.3L561.0 232.3L560.9 234.0L560.3 235.3L559.8 235.7L559.8 236.8L560.7 238.3L561.9 239.2L562.5 239.9L562.3 241.2L562.5 242.7L563.4 243.8L564.2 244.7L565.0 245.8L565.7 247.1L566.1 249.0L566.4 250.5L566.1 251.4L566.7 252.4L567.8 253.4L568.5 253.6L569.7 254.1L571.1 255.2L571.8 256.0L572.4 256.9L573.4 258.0L574.7 258.8L576.4 259.4L577.6 260.5L578.6 262.0L579.3 263.2L578.9 264.5L577.9 266.0L576.6 266.9L575.9 266.8L575.2 265.6L573.8 264.9L572.2 264.1L570.7 263.1L569.2 262.6L568.3 262.5L567.3 261.6L566.0 260.3L565.1 260.0L563.9 260.3L562.0 259.9L560.3 259.6L559.5 259.6L558.6 260.1L557.4 261.5L556.5 262.1L555.0 261.9"/>
<path d="M570.6 264.6L571.9 264.5L572.8 263.8L573.9 264.4L575.8 265.7L577.2 266.3L578.7 266.1L578.3 264.5L577.3 263.2L576.4 263.2L575.3 263.0L573.5 263.3L572.2 263.8Z"/>
<path d="M555.0 273.3L556.9 273.9L558.0 274.0L559.2 273.8L560.5 272.9L561.0 272.1L559.8 270.9L558.6 269.4L557.8 268.4L557.1 267.4L556.5 266.6L555.0 267.2"/>
<path d="M563.3 268.0L565.0 267.6" stroke-width="2.0"/>
<path d="M578.3 266.7L578.4 267.4L578.7 268.8L579.1 270.3L578.9 272.1L578.4 273.4L577.5 273.9L576.5 274.7L575.9 275.8L575.2 276.4L574.0 276.9L572.4 277.3L570.9 277.9L569.4 278.7L568.2 279.5L567.1 280.3L566.0 280.7L565.0 280.9L563.6 281.4L562.1 282.0L561.3 282.5L560.3 283.3L558.8 284.0L557.3 284.5L555.8 284.6L555.0 284.1"/>
<path d="M562.2 283.3L562.8 284.1L564.1 284.9L565.7 283.9L566.7 282.8L567.4 281.9L568.5 281.8L569.8 282.3L571.3 282.6L572.3 282.6L573.3 283.0L573.7 283.6L574.9 284.5L576.5 285.5L577.2 286.1L578.6 285.8L580.1 285.8L580.4 284.7L580.5 283.1L581.6 283.9L583.1 285.0L584.1 286.4L583.4 287.3L582.8 287.8L581.5 288.4L580.1 288.6L579.2 289.6L578.3 290.6L577.6 291.1L576.3 291.5L574.7 291.4L573.5 291.6L573.3 293.3L574.3 294.6L575.3 295.3L576.6 295.3L577.4 294.7L577.9 294.9L578.4 295.4L578.0 296.3L576.6 297.5L574.8 298.2L573.6 298.5L573.1 299.3L574.7 299.6L575.6 300.5L574.7 302.1L573.8 302.8L572.2 303.0"/>
<path d="M632.8 242.8L633.8 242.0L635.0 241.0L636.4 239.9L638.0 239.3L639.1 239.2L640.2 239.4L642.3 239.8L643.8 240.5L643.8 241.6L643.0 243.1L641.8 244.3L640.9 244.9L639.7 245.0L638.2 245.4L637.0 245.6L635.9 245.3L634.9 245.2L634.2 244.0Z"/>
<path d="M573.3 302.2L573.9 301.1L573.9 299.7L574.1 300.6L575.0 301.7L575.8 303.0L575.9 304.8L575.0 306.6L573.7 307.3L572.5 307.3L571.4 308.2L570.4 309.7L569.2 309.4L567.9 308.4L567.4 309.1L566.8 310.1L565.9 311.3L564.7 311.5L563.4 311.6L562.8 312.8L563.4 313.7L564.1 314.4L563.1 315.4L562.3 316.3L561.8 317.0L561.3 318.3L560.8 319.6L560.6 320.5L560.7 321.7L558.9 323.0L556.9 323.7L556.7 323.9L556.2 324.8L555.0 326.1"/>
<path d="M668.6 313.3L669.2 315.2" stroke-width="2.6"/>
<path d="M673.0 307.4L675.0 308.6" stroke-width="2.8"/>
<path d="M555.0 368.6L555.5 367.1L556.1 366.5L557.3 365.5L558.1 363.9L558.8 362.5L559.8 361.6L560.1 361.1L560.2 360.3L561.0 358.6L562.1 356.9L563.0 356.0L563.5 355.4L564.1 354.5L565.1 353.2L566.5 352.1L567.7 351.0L568.4 350.0L568.9 349.2L569.3 348.1L570.1 346.8L571.4 346.3L572.8 346.6L574.0 346.4L575.3 346.5L576.6 347.1L577.4 347.5L578.3 348.1L579.6 349.1L579.8 350.9L580.0 352.5L579.4 353.5L578.8 354.4L578.5 355.4L578.1 356.6L577.7 358.0L577.5 359.6L577.4 360.5L577.0 361.4L576.3 362.6L575.8 363.7L575.4 365.3L574.4 367.1L573.7 368.1L573.6 368.8L573.7 369.9L573.1 371.5L572.3 373.0L571.8 373.9L571.3 374.7L571.0 375.5L570.2 376.3L568.6 377.9L567.7 379.6L567.9 381.2L568.1 382.8L567.9 384.1L567.3 384.9L566.4 385.4L565.7 386.0L565.7 387.0L565.3 388.5L564.1 389.2L562.8 388.2L561.8 386.7L562.2 385.1L562.0 384.0L560.8 383.5L559.7 382.9L558.8 382.1L558.0 381.6L557.4 380.5L556.7 379.0L556.7 377.7L556.6 376.7L555.0 375.1"/>
<path d="M602.2 358.9L603.9 357.8L605.3 358.3" stroke-width="2.6"/>
<path d="M606.7 357.5L608.3 356.7L609.4 355.8" stroke-width="2.6"/>
<path d="M622.2 351.7L623.9 353.1" stroke-width="2.8"/>
<path d="M687.0 281.8L688.3 280.5L689.3 279.7L690.5 280.9L690.7 282.0L689.8 283.1L689.0 282.9Z"/>
<path d="M694.0 280.7L696.1 276.1" stroke-width="1.9"/>
<path d="M671.7 308.6L675.0 307.2L678.6 305.0" stroke-width="2.8"/>
<path d="M668.5 314.4L669.4 313.3" stroke-width="2.4"/>
<path d="M652.8 335.1L655.3 331.4L658.1 329.2L661.1 326.1" stroke-width="3.0"/>
<path d="M694.3 234.9L695.7 235.2L695.9 235.5L696.7 236.5L699.1 237.1L701.0 237.4L701.8 238.0L702.5 238.9L703.2 240.1L703.7 241.2L703.8 242.0L704.2 243.1L705.3 244.6L706.5 245.9L707.2 246.9L707.5 247.6L707.8 248.2L706.7 249.1L705.4 250.5L704.8 251.9L704.3 252.8L704.3 253.8L704.4 255.2L704.0 256.6L703.4 257.6L702.8 258.6L702.4 260.2L701.8 261.7L701.0 262.7L700.4 263.7L699.9 265.1L699.5 266.7L698.9 267.0L697.7 267.2L696.7 268.2L696.0 269.3L694.9 270.8L694.0 271.6L693.2 271.7L692.3 270.5L692.4 268.7L692.7 267.7L692.1 267.6L691.3 266.1L690.4 265.5L689.7 266.5L690.0 268.4L689.8 270.0L688.9 271.0L687.9 271.2L686.8 270.4L686.2 269.3L685.4 268.0L685.3 266.8L685.7 265.5L685.1 264.6L684.2 263.6L683.7 261.8L683.0 260.0L682.8 259.0L682.9 258.1L682.3 257.2L681.6 256.4L682.3 255.2L683.5 253.8L685.0 253.0L685.6 251.5L685.2 250.1L683.6 249.6L682.1 249.0L680.5 248.5L679.6 247.7L679.6 246.5L679.1 245.2L677.4 244.3L676.0 243.8L676.9 242.9L678.0 242.1L679.2 241.6L680.3 240.8L681.7 239.4L683.1 239.4L684.1 239.4L685.1 238.2L686.3 237.7L687.7 237.5L689.3 236.7L690.3 236.1L691.4 235.7L692.6 235.3Z"/>
<path d="M677.5 244.6L677.0 246.0L676.8 246.5L677.4 247.5L677.6 249.3L678.4 250.7L679.9 251.9L680.6 251.6L680.7 250.8L680.4 249.9L680.1 248.1L679.4 246.3L678.5 244.9Z"/>
<path d="M685.6 245.2L687.5 245.1L689.0 245.7L689.3 247.4L689.3 248.6L689.8 249.5L690.3 250.6L689.1 251.8L687.3 252.0L686.6 251.7L686.9 250.2L686.3 248.6L685.3 247.8L685.0 247.2Z"/>
<path d="M683.0 253.7L684.4 253.6L685.7 254.3L687.2 255.7L687.0 256.9L685.5 257.9L684.4 257.5L684.0 256.2L683.4 254.9Z"/>
<path d="M710.3 241.6L711.2 240.5L712.4 240.1L713.7 240.2L714.8 239.3L715.3 238.4L716.1 237.4L718.0 236.1L719.6 235.3L720.5 234.9L721.6 234.8L722.8 234.6L724.0 233.9L725.0 233.0L725.9 232.5L727.1 232.5L729.3 232.6L731.3 232.3L732.4 231.5L733.7 231.1L735.2 231.1L736.5 230.4L737.4 229.9L738.3 230.1L739.7 230.5L740.7 231.4L741.1 232.5L741.4 233.8L741.8 235.5L741.1 236.8L740.2 237.6L739.9 238.1L738.9 239.3L737.8 240.9L737.5 242.5L736.3 243.6L734.9 244.1L734.2 242.9L733.5 241.7L732.2 241.1L730.5 240.8L729.4 240.8L728.7 241.0L727.1 241.9L725.5 242.3L725.2 242.7L724.7 243.0L723.2 243.7L721.6 244.8L720.8 246.0L720.9 247.0L720.6 247.8L720.0 249.0L719.3 250.0L717.8 250.0L716.3 249.5L715.5 248.5L714.8 247.1L713.6 246.1L713.4 244.9L713.8 243.4L712.9 243.0L711.7 242.4Z"/>
<path d="M761.1 205.0L761.0 205.7L760.1 206.9L759.5 208.5L759.2 209.9L758.8 210.8L758.1 211.9L757.1 213.5L756.0 214.8L755.3 215.2L754.2 214.9L752.7 215.3L751.8 215.6L750.7 214.7L748.6 213.9L747.0 213.4L746.1 213.1L744.9 212.8L744.0 213.0L743.1 213.1L741.9 213.2L740.0 213.5L738.5 213.6L737.5 213.8L736.0 214.6L734.8 214.9L734.0 214.5L732.8 215.1L731.2 215.4L729.3 214.9L727.8 215.1L726.8 215.5L725.7 215.5L724.3 215.2L723.4 214.9L722.8 214.9L721.8 215.4L720.2 216.1L718.3 216.3L717.1 216.3L716.1 217.1L714.8 217.9L713.7 218.8L712.4 219.9L711.4 220.7L710.6 221.3L709.2 221.8L708.3 222.5L707.7 223.5L706.8 224.4L705.4 225.6L703.7 226.6L702.4 226.7L701.2 227.0L700.4 227.9L700.0 228.6L698.6 228.9L697.0 229.3L695.9 229.8L695.0 230.1L694.5 230.9L694.2 232.5L694.4 234.0L695.0 234.4L696.3 234.3L697.4 234.6L698.4 234.6L699.8 234.2L701.3 234.5L703.0 234.8L704.6 234.0L705.5 233.6L706.4 233.8L707.4 233.4L708.7 233.4L710.1 234.0L710.8 233.0L711.8 231.3L713.2 230.5L714.3 231.1L715.2 232.2L714.4 233.3L714.0 233.3L715.0 232.7L716.6 232.7L717.6 232.8L718.6 232.5L720.0 231.8L721.0 231.4L722.0 231.0L723.4 230.4L724.6 229.7L726.0 229.3L728.1 228.9L729.9 228.7L731.3 228.3L732.4 227.7L733.3 227.4L734.3 227.0L735.5 226.5L736.5 225.5L738.0 224.6L739.4 224.7L740.3 224.7L741.3 224.6L742.8 225.5L744.2 226.0L745.2 226.6L746.0 227.6L745.8 228.7L745.8 228.6L746.9 228.3L748.9 227.9L750.3 226.7L751.7 226.0L751.9 226.4L751.1 226.9L750.6 227.9L750.2 229.0L748.9 230.5L747.5 232.1L747.7 233.0L747.8 233.8L748.6 235.1L749.6 236.7L750.3 237.9L750.4 238.6L751.1 239.3L752.7 239.6L754.3 239.7L755.2 240.3L756.2 240.8L757.4 239.9L758.7 239.3L759.8 239.2L760.5 238.3L760.8 236.2L761.8 234.6L763.0 233.8L763.5 233.2L764.0 232.6L764.9 231.8L765.7 231.0L767.1 230.7L768.9 230.8"/>
<path d="M758.9 219.2L759.6 218.2L759.6 217.4L760.4 216.6L761.9 216.6L762.3 217.9L761.3 218.7L760.0 219.4L758.7 220.4L758.2 221.5L757.8 221.7L757.8 220.1Z"/>
<path d="M756.2 240.7L757.1 240.1L757.7 239.6L759.6 239.1L761.2 238.0L762.3 236.7L762.7 235.5L762.8 234.1L763.4 232.8L764.2 232.0L764.9 231.8L765.9 231.7L767.2 230.8L768.6 229.7L769.9 229.2L770.7 228.7L770.4 227.5L769.3 226.3L767.8 225.4L766.5 223.7L767.3 222.1L768.7 221.4L770.2 221.8L770.8 222.6L771.7 224.2L772.6 225.2L773.7 225.0L774.5 225.5L775.5 226.1L776.9 225.7L778.5 225.1L780.2 225.2L781.6 225.1L782.9 224.6L783.9 224.8L784.9 225.4L785.9 225.4L786.9 225.3L788.2 225.2L789.7 224.6L790.7 223.4L791.2 222.7L791.6 222.1L793.0 221.7L794.8 221.5L795.6 222.3L795.8 223.1L795.4 224.1L795.0 225.5L796.0 226.6L797.5 225.6L797.8 223.9L798.1 223.1L799.2 221.9L800.2 221.0L800.6 219.9L801.2 218.9L801.8 218.5L802.7 218.9L804.1 218.7L805.3 217.1L806.0 216.4L806.5 215.5L807.4 214.5L808.8 214.8L810.3 215.2L811.3 215.9L811.0 216.7L810.4 217.4L809.1 217.9L808.0 218.7L807.7 219.6L808.8 220.8L810.1 222.1L811.3 221.8L811.9 221.2L812.9 220.5L814.0 219.5L814.5 218.5L814.7 217.6L815.4 216.3L816.9 215.5L818.0 215.1L819.0 213.9L819.9 212.7L820.3 212.1L819.6 210.8L818.9 209.3L818.1 207.9L818.0 206.7L818.4 205.9L818.6 205.1L818.6 204.2L818.7 202.9L818.8 201.1L819.7 200.0"/>
<path d="M768.1 200.0L767.7 200.7L767.3 201.8L766.6 202.9L765.5 204.0L763.6 204.9L762.3 205.0L761.9 205.8L761.4 207.3L760.8 208.3L759.9 209.4L759.3 211.2L759.3 212.5L758.8 213.3L757.4 214.0L755.7 214.9L754.8 214.8L754.8 214.1L754.4 212.2L752.5 211.4"/>
<path d="M759.5 216.2L760.4 215.7L761.8 217.0L762.5 218.0L761.5 219.1L760.6 220.3L759.5 221.0L758.9 219.8L759.5 218.3Z"/>
<path d="M723.6 205.8L725.0 206.7" stroke-width="2.8"/>
<path d="M814.2 208.1L815.3 209.4" stroke-width="2.4"/>
<path d="M828.1 137.9L827.7 139.0L828.8 140.6L829.7 141.8L829.0 143.1L828.5 144.5L829.2 145.8L829.8 146.7L830.4 147.3L831.3 148.5L832.1 150.1L832.4 151.7L832.5 152.8L832.9 153.5L833.5 154.8L834.1 156.2L834.9 157.2L835.8 158.6L836.2 159.9L836.0 161.1L835.8 162.5L836.2 163.5L836.8 164.3L836.2 165.7L835.5 167.4L835.3 168.6L834.9 169.9L833.9 171.0L832.6 171.6L831.8 172.6L831.0 173.4L829.8 174.5L829.2 176.3L829.1 178.0L828.5 179.0L827.2 178.5L826.0 178.1L825.4 178.2L824.5 178.9L823.2 180.0L822.3 180.8L821.6 181.9L821.3 183.5L821.6 184.4L822.2 185.1L823.1 186.3L823.2 187.7L822.9 189.4L823.0 191.2L823.0 192.5L822.6 193.6L822.1 194.4L821.5 195.0L821.0 196.3L820.8 197.7L820.9 198.9L820.3 200.2L819.4 201.5L819.1 202.9L818.7 204.0L818.3 205.0L819.0 206.4L819.4 207.6L819.2 208.9L819.6 210.1L820.5 211.4L820.4 212.6L818.6 213.6L817.5 214.2L817.6 214.5L817.1 215.4L816.0 216.6L815.2 217.6L814.5 218.3L813.2 219.6L812.1 220.8L811.8 221.4L810.7 221.1L809.2 220.5L809.0 220.1L809.3 219.1L808.6 217.6L807.3 216.2L806.6 216.2L806.0 217.6L805.0 218.6L803.4 219.0L801.9 219.6L801.3 220.2L802.0 221.2L802.3 222.0L801.4 222.4L800.5 222.8L799.5 222.6L798.4 222.3L797.6 221.9L796.4 222.2L794.7 222.5L793.1 223.0L792.6 224.0"/>
<path d="M812.8 138.3L812.7 139.1L813.2 141.0L813.7 142.5L813.5 143.2L812.2 143.8L811.2 144.6L810.6 146.1L810.6 148.0L810.5 148.7L809.3 149.5L808.8 151.0L809.6 152.4L810.3 153.6L810.1 154.9L809.6 156.4L808.6 157.7L807.4 158.4L807.2 159.0L808.6 159.0L809.7 159.1L810.7 159.9L811.3 161.6L811.0 163.4L810.2 164.9L809.8 165.8L809.9 166.5L809.4 167.5L809.0 168.7L808.9 170.0L808.3 171.3L807.3 172.1L806.5 173.0L805.8 174.6L805.1 176.0L804.7 176.7L804.7 177.6L804.1 178.7L802.7 180.1L801.8 181.7L801.3 182.6L800.5 183.4L798.8 184.0L797.4 184.3L796.7 184.8L794.9 186.0L793.2 187.2L792.7 187.9L792.5 188.6L791.5 189.0L789.7 189.9L788.4 191.0L788.1 191.5L787.9 191.9L786.7 193.1L784.9 193.8L783.7 194.6L783.2 195.5L782.3 196.0L780.1 196.1L778.3 196.6L777.7 197.4L776.6 197.9L775.2 197.9L774.6 197.5L774.0 196.7L773.3 195.8L773.4 194.5L774.3 193.2L775.4 192.5L775.8 191.5L775.2 190.5L774.4 190.3L773.0 191.0L772.0 191.4L771.2 191.8L770.0 192.6L768.9 193.6L768.3 194.0L768.7 194.9L769.8 196.5L769.8 198.0L769.1 199.4L768.5 201.2L767.9 202.1L767.4 201.9L766.8 203.1L765.8 204.9L764.6 205.4L763.4 205.8L762.7 206.6L761.6 207.4L760.3 207.9L759.2 208.4L757.7 209.3L756.5 210.1"/>
<path d="M786.9 183.9L788.0 182.9L789.0 182.2L789.7 181.3L790.5 180.3L791.4 180.6L791.8 181.4L791.0 182.6L790.1 184.1L789.4 185.6L788.3 186.6L787.4 185.5Z"/>
<path d="M834.3 87.5L835.4 87.7L836.2 88.4L837.1 89.5L838.3 90.6L839.6 91.7L840.7 92.8L841.6 93.3L842.7 94.1L843.4 95.5L844.5 96.4L846.0 96.6L846.9 96.9L847.5 98.2L848.3 99.7L848.7 100.5L849.5 101.3L851.2 102.0L852.7 102.7L854.2 103.2L855.3 103.7L856.0 104.2L857.3 104.4L858.3 104.6L858.8 105.1L859.9 106.0L861.7 106.5L862.8 106.4L863.9 106.9L865.6 107.9L867.0 107.7L868.6 107.0L870.0 107.3L870.9 107.3L872.2 106.5L873.5 105.8L874.5 105.1L875.7 104.6L876.8 104.5L877.4 104.0L877.6 104.5L877.6 105.9L877.3 106.7L876.5 107.0L875.8 107.9L875.6 109.4L876.4 111.2L877.3 112.3L878.3 112.0L879.2 111.9L880.4 111.9L879.3 112.9L878.0 114.2L878.9 115.2L880.5 116.0L881.4 115.8L883.0 115.4L884.7 115.0L883.3 115.5L882.1 116.1L880.7 116.4L879.6 116.8L878.9 117.6L877.4 118.2L875.9 118.3L875.1 118.7L873.7 119.4L871.8 119.6L870.2 119.7L868.8 120.0L867.6 120.3L867.2 119.9L866.5 119.5L865.4 119.7L864.2 120.2L862.4 121.4L861.1 122.5L860.5 122.9L859.6 123.6L857.8 124.6L856.3 125.1L855.6 126.0L854.9 127.0L854.6 127.9L854.0 129.4L853.1 131.2L852.7 132.3L852.0 132.6L850.6 132.0L849.5 131.2L848.5 130.5L846.9 130.0L845.3 129.7L844.1 129.6L843.3 128.8L842.8 128.1L841.3 127.9L839.4 127.6L838.4 127.2L837.5 126.1L835.9 125.0L834.7 124.6L833.7 124.9L832.6 125.2L831.3 125.5L830.0 125.8L829.1 125.9L827.7 125.8L826.1 126.1L825.3 126.4L824.4 127.0L822.5 127.5L820.8 127.5L819.8 127.2L818.4 127.0L816.9 126.2L816.1 126.0L814.8 126.8L814.0 128.6L814.2 130.0L815.6 130.9L816.9 131.5L817.9 132.1L818.6 132.9L819.5 133.3L820.7 133.7L822.0 134.4L823.4 135.2L823.1 135.5L821.8 135.9L820.9 136.5L820.2 137.0L819.0 137.1L817.4 137.7L816.2 138.2L815.0 138.5L813.4 138.9L812.2 139.0L811.1 138.2L810.3 137.8L811.1 137.0L811.6 135.9L811.4 134.4L810.6 133.2L810.0 132.2L810.0 131.0L810.2 129.7L809.5 128.2L808.7 127.0L808.5 126.0L809.1 124.8L809.3 123.7L809.9 123.2L810.9 122.3L812.6 122.1L813.8 122.1L814.3 121.0L814.7 119.4L815.5 118.6L815.3 117.4L814.3 116.1L815.7 115.6L817.1 115.1L818.1 115.1L819.1 115.6L820.5 115.7L821.8 114.9L823.0 115.0L824.2 115.1L825.0 114.3L826.1 113.5L827.5 113.1L828.0 112.1L827.8 110.5L827.2 109.1L827.5 108.4L828.7 108.0L829.8 107.3L830.2 106.1L830.8 104.8L832.1 104.0L832.3 102.9L832.0 100.8L831.6 98.9L831.5 97.5L831.2 96.8L831.0 95.8L831.4 93.8L831.0 92.4L830.6 91.6L831.7 90.6L832.8 89.3L833.7 88.7Z"/>
<path d="M809.4 153.3L809.9 151.9L811.2 150.9L811.8 149.9L811.9 148.5L812.4 147.2L813.3 146.4L814.4 145.5L815.3 144.3L815.9 143.2L816.9 142.1L818.0 141.8L818.6 143.3L819.5 144.5L819.9 145.8L819.7 146.8L819.7 147.3L820.8 148.1L822.1 147.5L823.1 146.1L823.3 144.6L823.4 143.2L823.1 142.1L823.8 141.2L824.4 140.2L825.7 140.8L827.6 141.8L828.3 142.2L828.2 143.0L828.5 144.5L828.9 145.6L829.2 146.6L829.3 147.9L829.8 149.2L830.8 150.4L831.5 151.9L832.0 153.2L832.1 154.1L832.5 154.6L833.1 156.1"/>
<path d="M880.1 109.9L881.3 108.7L882.5 107.9L883.5 107.4L884.2 106.8L884.4 105.5L885.3 104.3L886.8 103.4L887.9 102.4L888.4 101.4L889.4 101.0L890.7 100.8L892.4 101.0L892.8 101.3L891.1 102.4L889.8 103.3L888.9 103.7L888.0 104.3L887.0 105.4L885.9 106.5L885.2 107.2L884.5 108.2L883.3 109.3L882.4 109.5L881.8 110.1Z"/>
<path d="M898.6 100.3L899.8 99.9L900.5 98.7L901.0 97.7L902.2 97.0L903.4 95.7L904.6 95.1L905.8 94.6L906.4 93.7L907.7 92.8L909.3 92.6L910.2 92.4L911.2 91.5L912.2 90.4L912.8 89.9L913.4 90.4L914.5 89.4L915.5 88.8L916.9 89.3L918.2 88.9L919.3 87.7L920.5 87.6L921.6 87.6L922.7 87.9L923.4 89.3L922.4 89.6L920.8 89.5L919.1 90.4L917.8 91.4L916.8 91.6L915.8 92.0L914.9 92.6L913.9 93.3L912.8 94.0L911.5 94.4L910.1 94.9L909.4 95.9L909.0 96.9L907.5 97.6L906.2 97.9L905.6 97.9L904.6 98.3L902.6 98.9L901.2 99.9L900.4 100.8L899.2 100.8Z"/>
<path d="M930.6 87.6L931.6 86.3L932.2 84.2L932.9 82.8L934.2 82.4L935.3 82.2L936.2 81.8L937.3 82.5L936.7 83.7L935.2 85.0L934.2 85.7L933.5 86.0L932.3 86.5L931.3 86.7Z"/>
<path d="M895.1 110.0L897.6 109.2" stroke-width="3.0"/>
<path d="M825.1 91.5L826.4 92.5" stroke-width="2.6"/>
<path d="M802.8 130.8L803.9 129.7" stroke-width="2.6"/>
<path d="M837.9 30.3L837.4 31.3L837.5 33.0L837.4 35.2L837.3 36.6L837.3 37.5L836.9 38.3L836.5 39.7L836.1 41.4L835.3 42.5L834.7 43.2L833.9 44.5L832.9 45.8L833.4 46.8L834.0 48.1L834.5 49.7L835.4 50.9L835.8 51.6L836.2 52.3L837.3 53.5L837.7 54.6L838.2 55.8L838.7 57.5L838.5 58.8L837.9 59.8L836.8 61.1L835.7 62.2L835.6 63.5L835.3 64.7L834.9 65.7L835.1 67.1L835.3 69.0L835.2 70.6L834.4 71.8L833.6 73.1L833.3 74.5L833.0 75.6L833.3 76.5L834.4 77.5L834.8 78.8L834.3 79.5L834.6 80.0L836.0 80.9L837.0 81.4L837.5 81.2L838.2 79.9L839.1 78.2L839.5 76.9L839.8 75.9L840.6 75.0L841.6 74.1L842.7 73.7L843.7 73.0L844.7 72.4L845.8 72.6L847.4 73.2L848.4 74.0L849.4 74.5L850.8 75.1L852.1 75.5L852.9 76.2L853.0 77.7L853.4 79.3L853.8 80.5L854.0 80.7L854.5 79.5L855.3 77.9L855.6 76.2L855.2 74.6L854.8 73.8L854.5 73.0L854.3 71.7L853.0 71.2L851.6 71.1L850.8 70.5L850.3 68.9L849.7 68.0L849.6 67.1L849.1 65.9L847.8 65.4L846.9 65.3L846.4 64.4L845.4 62.7L844.4 61.5L844.0 60.5L843.5 59.5L842.5 58.2L842.4 56.5L842.9 54.9L842.8 54.0L842.7 53.1L842.8 51.6L843.1 49.6L843.0 48.0L842.8 46.9L843.9 45.5L845.4 44.8L846.3 44.3L847.3 43.1L847.8 41.6L848.0 41.1L848.9 41.0L850.7 40.5L851.8 39.7L852.6 39.4L853.9 39.2L855.3 38.8L856.9 38.8L858.6 39.0L860.0 39.9L861.0 40.3L861.6 39.8L862.3 40.2L863.2 41.7L864.8 42.7L866.3 43.2L867.5 43.5L868.8 43.8L869.7 44.5L870.0 45.8L870.0 47.2L869.9 46.6L869.7 45.5L868.5 44.6L867.9 43.2L867.8 42.0L867.3 41.1L866.2 40.1L865.3 39.1L864.9 37.8L864.4 36.3L863.7 35.0L863.0 33.7L863.1 32.6L863.5 31.7L861.9 30.3"/>
<path d="M816.4 30.3L816.9 31.4L817.0 32.7L816.5 34.5L816.0 36.2L815.7 37.3L815.0 38.5L814.3 39.8L813.9 40.9L813.9 42.3L813.9 43.8L812.9 44.8L812.2 45.7L812.2 46.9L811.7 48.3L811.5 49.8L811.2 51.1L810.3 52.4L809.0 52.9L808.2 53.0L807.4 53.4L805.9 54.2L804.4 55.4L803.7 56.4L803.2 57.0L801.9 58.0L800.5 59.3L799.6 60.6L798.7 62.0L797.6 62.8L796.3 63.5L795.3 64.2L794.5 64.7L793.4 65.5L792.6 66.8L792.5 68.6L792.1 69.8L791.0 70.1L790.0 71.3"/>
<path d="M813.3 43.8L814.4 42.1" stroke-width="2.2"/></g></g>
<rect x="810.20" y="271.20" width="105.20" height="104.10" fill="#fff" stroke="none" stroke-width="1" />
<clipPath id="ci"><rect x="810.2" y="271.2" width="105.19999999999993" height="104.10000000000002"/></clipPath>
<path d="M820.3 347.0h4.2M822.4 344.9v4.2M824.7 350.7h4.2M826.8 348.6v4.2M828.7 353.6h4.2M830.8 351.5v4.2M816.5 355.1h4.2M818.6 353.0v4.2M821.8 354.7h4.2M823.9 352.6v4.2M833.8 357.8h4.2M835.9 355.7v4.2M842.6 357.6h4.2M844.7 355.5v4.2M848.3 358.0h4.2M850.4 355.9v4.2M837.3 361.4h4.2M839.4 359.3v4.2M839.9 362.8h4.2M842.0 360.7v4.2M856.5 366.1h4.2M858.6 364.0v4.2M865.3 364.3h4.2M867.4 362.2v4.2M837.3 371.6h4.2M839.4 369.5v4.2M831.7 364.5h4.2M833.8 362.4v4.2M828.7 359.5h4.2M830.8 357.4v4.2M826.4 367.2h4.2M828.5 365.1v4.2M830.0 367.8h4.2M832.1 365.7v4.2M832.5 369.1h4.2M834.6 367.0v4.2M827.5 372.8h4.2M829.6 370.7v4.2M823.9 360.3h4.2M826.0 358.2v4.2M833.3 362.4h4.2M835.4 360.3v4.2M814.8 357.4h4.2M816.9 355.3v4.2M811.3 358.6h4.2M813.4 356.5v4.2M812.4 368.2h4.2M814.5 366.1v4.2M812.8 374.0h4.2M814.9 371.9v4.2M809.5 375.2h4.2M811.6 373.1v4.2M810.1 374.2h4.2M812.2 372.1v4.2M809.3 372.6h4.2M811.4 370.5v4.2M816.6 364.8h4.2M818.7 362.7v4.2M819.1 365.3h4.2M821.2 363.2v4.2M810.7 371.4h4.2M812.8 369.3v4.2M811.3 371.8h4.2M813.4 369.7v4.2M815.0 364.7h4.2M817.1 362.6v4.2M810.8 366.8h4.2M812.9 364.7v4.2M811.3 373.8h4.2M813.4 371.7v4.2M810.2 370.5h4.2M812.3 368.4v4.2M812.2 373.8h4.2M814.3 371.7v4.2M809.7 372.4h4.2M811.8 370.3v4.2M818.3 373.4h4.2M820.4 371.3v4.2M815.5 370.3h4.2M817.6 368.2v4.2M809.5 375.2h4.2M811.6 373.1v4.2M812.1 368.2h4.2M814.2 366.1v4.2M809.0 363.2h4.2M811.1 361.1v4.2M813.0 372.1h4.2M815.1 370.0v4.2M818.4 374.6h4.2M820.5 372.5v4.2M821.0 369.1h4.2M823.1 367.0v4.2M823.8 373.8h4.2M825.9 371.7v4.2M813.8 369.4h4.2M815.9 367.3v4.2M811.1 374.4h4.2M813.2 372.3v4.2M816.1 371.6h4.2M818.2 369.5v4.2M808.2 369.3h4.2M810.3 367.2v4.2M817.7 369.5h4.2M819.8 367.4v4.2M815.0 367.8h4.2M817.1 365.7v4.2M810.0 366.0h4.2M812.1 363.9v4.2M817.6 365.2h4.2M819.7 363.1v4.2M809.7 371.4h4.2M811.8 369.3v4.2M814.8 374.5h4.2M816.9 372.4v4.2M813.4 375.1h4.2M815.5 373.0v4.2M819.5 369.3h4.2M821.6 367.2v4.2M814.2 374.2h4.2M816.3 372.1v4.2M824.9 368.2h4.2M827.0 366.1v4.2M819.7 368.4h4.2M821.8 366.3v4.2M810.0 373.6h4.2M812.1 371.5v4.2M813.6 372.2h4.2M815.7 370.1v4.2M810.5 370.6h4.2M812.6 368.5v4.2M811.0 375.3h4.2M813.1 373.2v4.2M808.9 374.3h4.2M811.0 372.2v4.2M808.4 374.7h4.2M810.5 372.6v4.2M810.9 370.6h4.2M813.0 368.5v4.2M817.4 359.8h4.2M819.5 357.7v4.2M810.2 375.0h4.2M812.3 372.9v4.2M810.3 371.3h4.2M812.4 369.2v4.2M812.0 371.9h4.2M814.1 369.8v4.2M808.7 373.9h4.2M810.8 371.8v4.2M814.2 374.0h4.2M816.3 371.9v4.2M818.0 369.1h4.2M820.1 367.0v4.2M810.1 372.6h4.2M812.2 370.5v4.2M816.4 374.9h4.2M818.5 372.8v4.2M809.7 364.4h4.2M811.8 362.3v4.2M818.6 367.1h4.2M820.7 365.0v4.2M810.9 372.3h4.2M813.0 370.2v4.2M808.9 374.1h4.2M811.0 372.0v4.2M808.8 370.7h4.2M810.9 368.6v4.2M818.3 375.3h4.2M820.4 373.2v4.2M828.0 374.5h4.2M830.1 372.4v4.2M808.8 371.0h4.2M810.9 368.9v4.2M810.1 367.2h4.2M812.2 365.1v4.2M815.4 370.6h4.2M817.5 368.5v4.2M812.1 374.5h4.2M814.2 372.4v4.2M821.2 370.7h4.2M823.3 368.6v4.2M809.1 372.6h4.2M811.2 370.5v4.2M810.9 362.2h4.2M813.0 360.1v4.2M810.4 368.9h4.2M812.5 366.8v4.2M810.6 373.1h4.2M812.7 371.0v4.2M814.5 364.6h4.2M816.6 362.5v4.2M818.9 362.7h4.2M821.0 360.6v4.2M808.4 371.9h4.2M810.5 369.8v4.2M808.7 374.6h4.2M810.8 372.5v4.2M809.8 370.4h4.2M811.9 368.3v4.2M817.4 367.4h4.2M819.5 365.3v4.2M812.5 368.0h4.2M814.6 365.9v4.2M808.5 367.3h4.2M810.6 365.2v4.2M810.4 373.7h4.2M812.5 371.6v4.2M809.5 367.0h4.2M811.6 364.9v4.2M812.5 371.7h4.2M814.6 369.6v4.2M813.2 373.3h4.2M815.3 371.2v4.2M813.5 374.5h4.2M815.6 372.4v4.2M817.1 375.0h4.2M819.2 372.9v4.2M816.1 373.7h4.2M818.2 371.6v4.2M810.9 368.8h4.2M813.0 366.7v4.2M808.6 372.5h4.2M810.7 370.4v4.2M808.1 370.4h4.2M810.2 368.3v4.2M813.6 373.7h4.2M815.7 371.6v4.2M817.5 373.4h4.2M819.6 371.3v4.2M813.0 373.5h4.2M815.1 371.4v4.2M812.9 370.6h4.2M815.0 368.5v4.2M815.4 371.9h4.2M817.5 369.8v4.2M816.1 375.2h4.2M818.2 373.1v4.2M817.2 371.3h4.2M819.3 369.2v4.2M812.0 370.8h4.2M814.1 368.7v4.2M808.2 373.0h4.2M810.3 370.9v4.2M814.3 362.6h4.2M816.4 360.5v4.2M809.7 366.6h4.2M811.8 364.5v4.2M817.9 364.7h4.2M820.0 362.6v4.2M813.0 373.5h4.2M815.1 371.4v4.2M817.6 374.6h4.2M819.7 372.5v4.2M813.6 372.3h4.2M815.7 370.2v4.2M809.6 370.3h4.2M811.7 368.2v4.2M819.7 372.1h4.2M821.8 370.0v4.2M812.6 374.7h4.2M814.7 372.6v4.2M808.8 373.4h4.2M810.9 371.3v4.2M815.5 359.0h4.2M817.6 356.9v4.2M808.2 373.6h4.2M810.3 371.5v4.2M810.8 369.5h4.2M812.9 367.4v4.2M816.0 369.4h4.2M818.1 367.3v4.2M814.8 364.4h4.2M816.9 362.3v4.2M808.8 372.8h4.2M810.9 370.7v4.2M810.1 369.4h4.2M812.2 367.3v4.2M814.7 372.1h4.2M816.8 370.0v4.2M822.7 366.2h4.2M824.8 364.1v4.2M811.7 370.3h4.2M813.8 368.2v4.2M819.0 370.8h4.2M821.1 368.7v4.2M812.4 369.9h4.2M814.5 367.8v4.2M810.4 373.0h4.2M812.5 370.9v4.2M809.4 370.3h4.2M811.5 368.2v4.2M808.3 370.3h4.2M810.4 368.2v4.2M810.1 370.3h4.2M812.2 368.2v4.2M808.1 374.2h4.2M810.2 372.1v4.2M809.1 374.7h4.2M811.2 372.6v4.2M810.3 374.2h4.2M812.4 372.1v4.2M812.1 369.8h4.2M814.2 367.7v4.2M811.2 368.0h4.2M813.3 365.9v4.2M817.4 373.9h4.2M819.5 371.8v4.2M808.7 367.7h4.2M810.8 365.6v4.2M809.1 373.6h4.2M811.2 371.5v4.2M815.6 371.0h4.2M817.7 368.9v4.2M809.2 373.1h4.2M811.3 371.0v4.2M818.1 369.7h4.2M820.2 367.6v4.2M808.3 370.3h4.2M810.4 368.2v4.2M811.1 369.8h4.2M813.2 367.7v4.2M821.3 371.4h4.2M823.4 369.3v4.2M808.6 359.6h4.2M810.7 357.5v4.2M808.2 375.1h4.2M810.3 373.0v4.2M814.0 374.2h4.2M816.1 372.1v4.2M808.6 375.3h4.2M810.7 373.2v4.2M812.4 372.0h4.2M814.5 369.9v4.2M812.4 374.6h4.2M814.5 372.5v4.2M813.4 371.5h4.2M815.5 369.4v4.2M810.8 368.0h4.2M812.9 365.9v4.2M809.5 369.2h4.2M811.6 367.1v4.2M817.6 364.0h4.2M819.7 361.9v4.2M823.6 369.6h4.2M825.7 367.5v4.2M812.6 369.1h4.2M814.7 367.0v4.2M816.5 366.6h4.2M818.6 364.5v4.2M812.7 365.9h4.2M814.8 363.8v4.2M817.2 369.8h4.2M819.3 367.7v4.2M809.6 372.6h4.2M811.7 370.5v4.2M811.3 371.1h4.2M813.4 369.0v4.2M811.4 368.7h4.2M813.5 366.6v4.2M812.1 369.8h4.2M814.2 367.7v4.2M817.1 375.1h4.2M819.2 373.0v4.2M813.3 373.4h4.2M815.4 371.3v4.2M821.3 368.6h4.2M823.4 366.5v4.2M811.6 373.2h4.2M813.7 371.1v4.2M814.3 362.1h4.2M816.4 360.0v4.2M811.6 373.0h4.2M813.7 370.9v4.2M811.6 365.9h4.2M813.7 363.8v4.2M809.6 375.2h4.2M811.7 373.1v4.2M808.3 365.3h4.2M810.4 363.2v4.2M808.8 374.9h4.2M810.9 372.8v4.2M809.0 366.3h4.2M811.1 364.2v4.2M808.7 372.1h4.2M810.8 370.0v4.2M813.6 373.8h4.2M815.7 371.7v4.2M810.7 372.8h4.2M812.8 370.7v4.2M812.4 373.7h4.2M814.5 371.6v4.2M813.7 361.0h4.2M815.8 358.9v4.2M808.5 371.2h4.2M810.6 369.1v4.2M813.4 364.2h4.2M815.5 362.1v4.2M820.4 373.1h4.2M822.5 371.0v4.2M810.7 368.8h4.2M812.8 366.7v4.2M809.8 372.5h4.2M811.9 370.4v4.2M809.8 373.1h4.2M811.9 371.0v4.2M813.6 375.0h4.2M815.7 372.9v4.2M811.0 371.0h4.2M813.1 368.9v4.2M808.3 375.0h4.2M810.4 372.9v4.2M813.1 374.3h4.2M815.2 372.2v4.2M808.3 362.5h4.2M810.4 360.4v4.2M811.6 371.0h4.2M813.7 368.9v4.2M810.3 373.8h4.2M812.4 371.7v4.2M808.4 373.4h4.2M810.5 371.3v4.2M810.2 371.0h4.2M812.3 368.9v4.2M811.3 367.7h4.2M813.4 365.6v4.2M809.9 369.9h4.2M812.0 367.8v4.2M820.5 368.8h4.2M822.6 366.7v4.2M825.0 368.7h4.2M827.1 366.6v4.2M808.4 373.4h4.2M810.5 371.3v4.2M815.7 369.6h4.2M817.8 367.5v4.2M810.8 371.0h4.2M812.9 368.9v4.2M816.6 367.5h4.2M818.7 365.4v4.2M810.5 365.8h4.2M812.6 363.7v4.2M810.6 362.9h4.2M812.7 360.8v4.2M812.8 373.2h4.2M814.9 371.1v4.2M809.9 371.8h4.2M812.0 369.7v4.2M809.7 373.1h4.2M811.8 371.0v4.2M818.6 373.4h4.2M820.7 371.3v4.2M808.9 372.8h4.2M811.0 370.7v4.2M811.2 372.9h4.2M813.3 370.8v4.2M817.7 370.0h4.2M819.8 367.9v4.2M810.9 369.4h4.2M813.0 367.3v4.2M811.4 371.5h4.2M813.5 369.4v4.2M810.4 359.7h4.2M812.5 357.6v4.2M815.2 375.1h4.2M817.3 373.0v4.2" stroke="#000" stroke-width="0.75" fill="none" clip-path="url(#ci)"/>
<line x1="810.20" y1="375.30" x2="915.40" y2="271.20" stroke="#000" stroke-width="1.2" />
<rect x="810.20" y="271.20" width="105.20" height="104.10" fill="none" stroke="#000" stroke-width="0.9" />
<path d="M810.20 375.30v3.5M810.20 375.30h-3.5M831.24 375.30v3.5M810.20 354.48h-3.5M852.28 375.30v3.5M810.20 333.66h-3.5M873.32 375.30v3.5M810.20 312.84h-3.5M894.36 375.30v3.5M810.20 292.02h-3.5M915.40 375.30v3.5M810.20 271.20h-3.5M814.41 375.30v2M810.20 371.14h-2M818.62 375.30v2M810.20 366.97h-2M822.82 375.30v2M810.20 362.81h-2M827.03 375.30v2M810.20 358.64h-2M835.45 375.30v2M810.20 350.32h-2M839.66 375.30v2M810.20 346.15h-2M843.86 375.30v2M810.20 341.99h-2M848.07 375.30v2M810.20 337.82h-2M856.49 375.30v2M810.20 329.50h-2M860.70 375.30v2M810.20 325.33h-2M864.90 375.30v2M810.20 321.17h-2M869.11 375.30v2M810.20 317.00h-2M877.53 375.30v2M810.20 308.68h-2M881.74 375.30v2M810.20 304.51h-2M885.94 375.30v2M810.20 300.35h-2M890.15 375.30v2M810.20 296.18h-2M898.57 375.30v2M810.20 287.86h-2M902.78 375.30v2M810.20 283.69h-2M906.98 375.30v2M810.20 279.53h-2M911.19 375.30v2M810.20 275.36h-2" stroke="#000" stroke-width="0.8" fill="none"/>
<rect x="85.50" y="31.45" width="383.10" height="383.00" fill="none" stroke="#000" stroke-width="1.1" />
<rect x="555.50" y="31.45" width="383.10" height="383.00" fill="none" stroke="#000" stroke-width="1.1" />
<rect x="971.60" y="377.12" width="22.10" height="36.78" fill="#ffe9bc" stroke="none" stroke-width="1" />
<rect x="971.60" y="340.64" width="22.10" height="36.78" fill="#dcffc8" stroke="none" stroke-width="1" />
<rect x="971.60" y="304.16" width="22.10" height="36.78" fill="#90fa90" stroke="none" stroke-width="1" />
<rect x="971.60" y="267.68" width="22.10" height="36.78" fill="#64ffff" stroke="none" stroke-width="1" />
<rect x="971.60" y="231.20" width="22.10" height="36.78" fill="#00c8ff" stroke="none" stroke-width="1" />
<rect x="971.60" y="194.72" width="22.10" height="36.78" fill="#0064ff" stroke="none" stroke-width="1" />
<rect x="971.60" y="158.24" width="22.10" height="36.78" fill="#9664ff" stroke="none" stroke-width="1" />
<rect x="971.60" y="121.76" width="22.10" height="36.78" fill="#e064ff" stroke="none" stroke-width="1" />
<rect x="971.60" y="85.28" width="22.10" height="36.78" fill="#ff00ff" stroke="none" stroke-width="1" />
<rect x="971.60" y="48.80" width="22.10" height="36.78" fill="#d29a46" stroke="none" stroke-width="1" />
<path d="M971.6 48.80L982.65 30.6L993.7 48.80Z" fill="#000" stroke="#000" stroke-width="0.8"/>
<path d="M971.6 48.80V413.60H993.7V48.80" fill="none" stroke="#000" stroke-width="0.8"/>
<line x1="993.70" y1="413.60" x2="998.30" y2="413.60" stroke="#000" stroke-width="0.9" />
<line x1="993.70" y1="377.12" x2="998.30" y2="377.12" stroke="#000" stroke-width="0.9" />
<line x1="993.70" y1="340.64" x2="998.30" y2="340.64" stroke="#000" stroke-width="0.9" />
<line x1="993.70" y1="304.16" x2="998.30" y2="304.16" stroke="#000" stroke-width="0.9" />
<line x1="993.70" y1="267.68" x2="998.30" y2="267.68" stroke="#000" stroke-width="0.9" />
<line x1="993.70" y1="231.20" x2="998.30" y2="231.20" stroke="#000" stroke-width="0.9" />
<line x1="993.70" y1="194.72" x2="998.30" y2="194.72" stroke="#000" stroke-width="0.9" />
<line x1="993.70" y1="158.24" x2="998.30" y2="158.24" stroke="#000" stroke-width="0.9" />
<line x1="993.70" y1="121.76" x2="998.30" y2="121.76" stroke="#000" stroke-width="0.9" />
<line x1="993.70" y1="85.28" x2="998.30" y2="85.28" stroke="#000" stroke-width="0.9" />
<line x1="993.70" y1="48.80" x2="998.30" y2="48.80" stroke="#000" stroke-width="0.9" />
<rect x="74.40" y="452.20" width="67.30" height="18.00" fill="#ffe9bc" stroke="#000" stroke-width="0.6" />
<rect x="141.70" y="452.20" width="20.80" height="18.00" fill="#dcffc8" stroke="#000" stroke-width="0.6" />
<rect x="162.50" y="452.20" width="9.10" height="18.00" fill="#90fa90" stroke="#000" stroke-width="0.6" />
<rect x="171.60" y="452.20" width="11.90" height="18.00" fill="#64ffff" stroke="#000" stroke-width="0.6" />
<rect x="183.50" y="452.20" width="9.00" height="18.00" fill="#00c8ff" stroke="#000" stroke-width="0.6" />
<rect x="192.50" y="452.20" width="6.20" height="18.00" fill="#0064ff" stroke="#000" stroke-width="0.6" />
<rect x="198.70" y="452.20" width="3.90" height="18.00" fill="#9664ff" stroke="#000" stroke-width="0.6" />
<rect x="202.60" y="452.20" width="3.50" height="18.00" fill="#e064ff" stroke="#000" stroke-width="0.6" />
<rect x="206.10" y="452.20" width="1.20" height="18.00" fill="#ff00ff" stroke="#000" stroke-width="0.6" />
<rect x="207.30" y="452.20" width="0.50" height="18.00" fill="#d29a46" stroke="#000" stroke-width="0.6" />
<rect x="74.40" y="479.40" width="46.00" height="18.00" fill="#ffe9bc" stroke="#000" stroke-width="0.6" />
<rect x="120.40" y="479.40" width="55.10" height="18.00" fill="#dcffc8" stroke="#000" stroke-width="0.6" />
<rect x="175.50" y="479.40" width="13.90" height="18.00" fill="#90fa90" stroke="#000" stroke-width="0.6" />
<rect x="189.40" y="479.40" width="7.10" height="18.00" fill="#64ffff" stroke="#000" stroke-width="0.6" />
<rect x="196.50" y="479.40" width="3.70" height="18.00" fill="#00c8ff" stroke="#000" stroke-width="0.6" />
<rect x="200.20" y="479.40" width="2.60" height="18.00" fill="#0064ff" stroke="#000" stroke-width="0.6" />
<rect x="202.80" y="479.40" width="1.40" height="18.00" fill="#9664ff" stroke="#000" stroke-width="0.6" />
<rect x="204.20" y="479.40" width="2.10" height="18.00" fill="#e064ff" stroke="#000" stroke-width="0.6" />
<rect x="206.30" y="479.40" width="1.00" height="18.00" fill="#ff00ff" stroke="#000" stroke-width="0.6" />
<rect x="207.30" y="479.40" width="0.50" height="18.00" fill="#d29a46" stroke="#000" stroke-width="0.6" />
<path d="M74.40 470.2L74.40 479.4M141.70 470.2L120.40 479.4M162.50 470.2L175.50 479.4M171.60 470.2L189.40 479.4M183.50 470.2L196.50 479.4M192.50 470.2L200.20 479.4M198.70 470.2L202.80 479.4M202.60 470.2L204.20 479.4M206.10 470.2L206.30 479.4M207.30 470.2L207.30 479.4M207.80 470.2L207.80 479.4" stroke="#000" stroke-width="0.55" fill="none"/>
<rect x="74.40" y="533.10" width="5.00" height="18.00" fill="#dcffc8" stroke="#000" stroke-width="0.6" />
<rect x="79.40" y="533.10" width="7.00" height="18.00" fill="#90fa90" stroke="#000" stroke-width="0.6" />
<rect x="86.40" y="533.10" width="19.20" height="18.00" fill="#64ffff" stroke="#000" stroke-width="0.6" />
<rect x="105.60" y="533.10" width="23.50" height="18.00" fill="#00c8ff" stroke="#000" stroke-width="0.6" />
<rect x="129.10" y="533.10" width="25.50" height="18.00" fill="#0064ff" stroke="#000" stroke-width="0.6" />
<rect x="154.60" y="533.10" width="20.80" height="18.00" fill="#9664ff" stroke="#000" stroke-width="0.6" />
<rect x="175.40" y="533.10" width="28.20" height="18.00" fill="#e064ff" stroke="#000" stroke-width="0.6" />
<rect x="203.60" y="533.10" width="3.80" height="18.00" fill="#ff00ff" stroke="#000" stroke-width="0.6" />
<rect x="74.40" y="560.40" width="17.10" height="17.90" fill="#dcffc8" stroke="#000" stroke-width="0.6" />
<rect x="91.50" y="560.40" width="10.10" height="17.90" fill="#90fa90" stroke="#000" stroke-width="0.6" />
<rect x="101.60" y="560.40" width="11.60" height="17.90" fill="#64ffff" stroke="#000" stroke-width="0.6" />
<rect x="113.20" y="560.40" width="11.20" height="17.90" fill="#00c8ff" stroke="#000" stroke-width="0.6" />
<rect x="124.40" y="560.40" width="8.00" height="17.90" fill="#0064ff" stroke="#000" stroke-width="0.6" />
<rect x="132.40" y="560.40" width="7.10" height="17.90" fill="#9664ff" stroke="#000" stroke-width="0.6" />
<rect x="139.50" y="560.40" width="15.80" height="17.90" fill="#e064ff" stroke="#000" stroke-width="0.6" />
<rect x="155.30" y="560.40" width="12.70" height="17.90" fill="#ff00ff" stroke="#000" stroke-width="0.6" />
<path d="M74.40 551.1L74.40 560.4M79.40 551.1L91.50 560.4M86.40 551.1L101.60 560.4M105.60 551.1L113.20 560.4M129.10 551.1L124.40 560.4M154.60 551.1L132.40 560.4M175.40 551.1L139.50 560.4M203.60 551.1L155.30 560.4M207.40 551.1L168.00 560.4" stroke="#000" stroke-width="0.55" fill="none"/>
<rect x="277.50" y="478.60" width="123.80" height="94.60" fill="none" stroke="#000" stroke-width="1.0" />
<line x1="339.60" y1="478.60" x2="339.60" y2="573.20" stroke="#000" stroke-width="1" />
<line x1="277.50" y1="526.40" x2="401.30" y2="526.40" stroke="#000" stroke-width="1" />
<line x1="457.30" y1="457.40" x2="996.70" y2="457.40" stroke="#000" stroke-width="0.9" stroke-dasharray="3.7 1.6"/>
<line x1="457.30" y1="479.70" x2="757.70" y2="479.70" stroke="#000" stroke-width="0.9" stroke-dasharray="3.7 1.6"/>
</svg>
<div id="tx">
<div class="t" style="left:807.75px;top:380.43px;font-size:8.82px;transform:scaleX(0.9588);transform-origin:50% 0">0</div>
<div class="t" style="left:801.09px;top:370.93px;font-size:8.82px;transform:scaleX(0.9588);transform-origin:100% 0">0</div>
<div class="t" style="left:826.33px;top:380.43px;font-size:8.82px;transform:scaleX(0.9588);transform-origin:50% 0">10</div>
<div class="t" style="left:796.19px;top:350.11px;font-size:8.82px;transform:scaleX(0.9588);transform-origin:100% 0">10</div>
<div class="t" style="left:847.37px;top:380.43px;font-size:8.82px;transform:scaleX(0.9588);transform-origin:50% 0">20</div>
<div class="t" style="left:796.19px;top:329.29px;font-size:8.82px;transform:scaleX(0.9588);transform-origin:100% 0">20</div>
<div class="t" style="left:868.41px;top:380.43px;font-size:8.82px;transform:scaleX(0.9588);transform-origin:50% 0">30</div>
<div class="t" style="left:796.19px;top:308.47px;font-size:8.82px;transform:scaleX(0.9588);transform-origin:100% 0">30</div>
<div class="t" style="left:889.45px;top:380.43px;font-size:8.82px;transform:scaleX(0.9588);transform-origin:50% 0">40</div>
<div class="t" style="left:796.19px;top:287.65px;font-size:8.82px;transform:scaleX(0.9588);transform-origin:100% 0">40</div>
<div class="t" style="left:910.49px;top:380.43px;font-size:8.82px;transform:scaleX(0.9588);transform-origin:50% 0">50</div>
<div class="t" style="left:796.19px;top:266.83px;font-size:8.82px;transform:scaleX(0.9588);transform-origin:100% 0">50</div>
<div class="t" style="left:836.21px;top:389.91px;font-size:10.50px;transform:scaleX(0.9323);transform-origin:50% 0">ANALYSIS</div>
<div class="t" style="left:744.60px;top:315.11px;font-size:10.50px;transform:rotate(-90deg) scaleX(0.9373);transform-origin:46.00px 8.89px">GSMAP_NRT_1HR</div>
<div class="t" style="left:145.50px;top:15.13px;font-size:12.60px;transform:scaleX(1.0287);transform-origin:50% 0">GSMAP_NRT_1HR estimates for 20260407 02</div>
<div class="t" style="left:609.77px;top:15.13px;font-size:12.60px;transform:scaleX(1.0537);transform-origin:50% 0">Hourly Radar-AMeDAS analysis for 20260407 02</div>
<div class="t" style="left:61.39px;top:90.23px;font-size:8.82px;transform:scaleX(0.9454);transform-origin:100% 0">45°N</div>
<div class="t" style="left:61.39px;top:153.98px;font-size:8.82px;transform:scaleX(0.9454);transform-origin:100% 0">40°N</div>
<div class="t" style="left:61.39px;top:217.73px;font-size:8.82px;transform:scaleX(0.9454);transform-origin:100% 0">35°N</div>
<div class="t" style="left:61.39px;top:281.48px;font-size:8.82px;transform:scaleX(0.9454);transform-origin:100% 0">30°N</div>
<div class="t" style="left:61.39px;top:345.23px;font-size:8.82px;transform:scaleX(0.9454);transform-origin:100% 0">25°N</div>
<div class="t" style="left:137.44px;top:417.33px;font-size:8.82px;transform:scaleX(0.9316);transform-origin:50% 0">125°E</div>
<div class="t" style="left:201.19px;top:417.33px;font-size:8.82px;transform:scaleX(0.9316);transform-origin:50% 0">130°E</div>
<div class="t" style="left:264.94px;top:417.33px;font-size:8.82px;transform:scaleX(0.9316);transform-origin:50% 0">135°E</div>
<div class="t" style="left:328.69px;top:417.33px;font-size:8.82px;transform:scaleX(0.9316);transform-origin:50% 0">140°E</div>
<div class="t" style="left:392.44px;top:417.33px;font-size:8.82px;transform:scaleX(0.9316);transform-origin:50% 0">145°E</div>
<div class="t" style="left:531.39px;top:90.23px;font-size:8.82px;transform:scaleX(0.9454);transform-origin:100% 0">45°N</div>
<div class="t" style="left:531.39px;top:153.98px;font-size:8.82px;transform:scaleX(0.9454);transform-origin:100% 0">40°N</div>
<div class="t" style="left:531.39px;top:217.73px;font-size:8.82px;transform:scaleX(0.9454);transform-origin:100% 0">35°N</div>
<div class="t" style="left:531.39px;top:281.48px;font-size:8.82px;transform:scaleX(0.9454);transform-origin:100% 0">30°N</div>
<div class="t" style="left:531.39px;top:345.23px;font-size:8.82px;transform:scaleX(0.9454);transform-origin:100% 0">25°N</div>
<div class="t" style="left:606.44px;top:417.33px;font-size:8.82px;transform:scaleX(0.9316);transform-origin:50% 0">125°E</div>
<div class="t" style="left:670.19px;top:417.33px;font-size:8.82px;transform:scaleX(0.9316);transform-origin:50% 0">130°E</div>
<div class="t" style="left:733.94px;top:417.33px;font-size:8.82px;transform:scaleX(0.9316);transform-origin:50% 0">135°E</div>
<div class="t" style="left:797.69px;top:417.33px;font-size:8.82px;transform:scaleX(0.9316);transform-origin:50% 0">140°E</div>
<div class="t" style="left:861.44px;top:417.33px;font-size:8.82px;transform:scaleX(0.9316);transform-origin:50% 0">145°E</div>
<div class="t" style="left:560.70px;top:397.91px;font-size:10.50px;transform:scaleX(0.9893);transform-origin:0 0">Provided by JWA/JMA</div>
<div class="t" style="left:1000.50px;top:408.92px;font-size:11.55px;transform:scaleX(1.0895);transform-origin:0 0">0</div>
<div class="t" style="left:1000.50px;top:372.44px;font-size:11.55px;transform:scaleX(1.0895);transform-origin:0 0">0.01</div>
<div class="t" style="left:1000.50px;top:335.96px;font-size:11.55px;transform:scaleX(1.0896);transform-origin:0 0">0.5</div>
<div class="t" style="left:1000.50px;top:299.48px;font-size:11.55px;transform:scaleX(1.0895);transform-origin:0 0">1</div>
<div class="t" style="left:1000.50px;top:263.00px;font-size:11.55px;transform:scaleX(1.0895);transform-origin:0 0">2</div>
<div class="t" style="left:1000.50px;top:226.52px;font-size:11.55px;transform:scaleX(1.0895);transform-origin:0 0">3</div>
<div class="t" style="left:1000.50px;top:190.04px;font-size:11.55px;transform:scaleX(1.0895);transform-origin:0 0">4</div>
<div class="t" style="left:1000.50px;top:153.56px;font-size:11.55px;transform:scaleX(1.0895);transform-origin:0 0">5</div>
<div class="t" style="left:1000.50px;top:117.08px;font-size:11.55px;transform:scaleX(1.0895);transform-origin:0 0">10</div>
<div class="t" style="left:1000.50px;top:80.60px;font-size:11.55px;transform:scaleX(1.0895);transform-origin:0 0">25</div>
<div class="t" style="left:1000.50px;top:44.12px;font-size:11.55px;transform:scaleX(1.0895);transform-origin:0 0">50</div>
<div class="t" style="left:67.80px;top:438.11px;font-size:10.50px;transform:scaleX(1.0859);transform-origin:0 0">Hourly fraction by occurence</div>
<div class="t" style="left:46.90px;top:456.71px;font-size:10.50px;transform:scaleX(1.0184);transform-origin:0 0">Est</div>
<div class="t" style="left:47.30px;top:484.11px;font-size:10.50px;transform:scaleX(1.0089);transform-origin:0 0">Obs</div>
<div class="t" style="left:57.40px;top:500.71px;font-size:10.50px;transform:scaleX(1.0454);transform-origin:0 0">0%</div>
<div class="t" style="left:101.50px;top:500.71px;font-size:10.50px;transform:scaleX(1.0892);transform-origin:0 0">Areal fraction</div>
<div class="t" style="left:194.70px;top:500.71px;font-size:10.50px;transform:scaleX(1.0646);transform-origin:0 0">100%</div>
<div class="t" style="left:71.90px;top:519.11px;font-size:10.50px;transform:scaleX(1.1078);transform-origin:0 0">Hourly fraction of total rain</div>
<div class="t" style="left:46.90px;top:537.61px;font-size:10.50px;transform:scaleX(1.0184);transform-origin:0 0">Est</div>
<div class="t" style="left:47.30px;top:565.01px;font-size:10.50px;transform:scaleX(1.0089);transform-origin:0 0">Obs</div>
<div class="t" style="left:58.00px;top:580.71px;font-size:10.50px;transform:scaleX(1.0884);transform-origin:0 0">Rainfall accumulation by amount</div>
<div class="t" style="left:292.70px;top:446.21px;font-size:10.50px;transform:scaleX(0.9373);transform-origin:50% 0">GSMAP_NRT_1HR</div>
<div class="t" style="left:294.92px;top:461.11px;font-size:10.50px;transform:scaleX(1.1535);transform-origin:50% 0">&lt;0.01</div>
<div class="t" style="left:356.70px;top:461.11px;font-size:10.50px;transform:scaleX(1.1697);transform-origin:50% 0">≥0.01</div>
<div class="t" style="left:221.11px;top:511.61px;font-size:10.50px;transform:rotate(-90deg) scaleX(0.9323);transform-origin:25.29px 8.89px">ANALYSIS</div>
<div class="t" style="left:248.33px;top:496.71px;font-size:10.50px;transform:scaleX(1.1535);transform-origin:100% 0">&lt;0.01</div>
<div class="t" style="left:248.70px;top:543.71px;font-size:10.50px;transform:scaleX(1.1697);transform-origin:100% 0">≥0.01</div>
<div class="t" style="left:296.62px;top:496.71px;font-size:10.50px;transform:scaleX(1.0895);transform-origin:50% 0">2130</div>
<div class="t" style="left:362.04px;top:496.71px;font-size:10.50px;transform:scaleX(1.0895);transform-origin:50% 0">513</div>
<div class="t" style="left:299.34px;top:543.71px;font-size:10.50px;transform:scaleX(1.0895);transform-origin:50% 0">101</div>
<div class="t" style="left:361.24px;top:543.71px;font-size:10.50px;transform:scaleX(1.0895);transform-origin:50% 0">313</div>
<div class="t" style="left:459.30px;top:445.01px;font-size:10.50px;transform:scaleX(1.1085);transform-origin:0 0">Validation statistics for 20260407 02&nbsp; n=3057 Valid. grid=0.25° Units=mm/hr.</div>
<div class="t" style="left:608.50px;top:465.71px;font-size:10.50px;transform:scaleX(0.9323);transform-origin:0 0">ANALYSIS</div>
<div class="t" style="left:670.30px;top:465.71px;font-size:10.50px;transform:scaleX(0.9373);transform-origin:0 0">GSMAP_NRT_1HR</div>
<div class="t" style="left:459.30px;top:490.11px;font-size:10.50px;transform:scaleX(1.0953);transform-origin:0 0">Num of gridpoints raining</div>
<div class="t" style="left:630.98px;top:490.11px;font-size:10.50px;transform:scaleX(1.0895);transform-origin:100% 0">414</div>
<div class="t" style="left:711.78px;top:490.11px;font-size:10.50px;transform:scaleX(1.0895);transform-origin:100% 0">826</div>
<div class="t" style="left:459.30px;top:510.11px;font-size:10.50px;transform:scaleX(1.0717);transform-origin:0 0">Average rain</div>
<div class="t" style="left:633.90px;top:510.11px;font-size:10.50px;transform:scaleX(1.0896);transform-origin:100% 0">0.6</div>
<div class="t" style="left:714.70px;top:510.11px;font-size:10.50px;transform:scaleX(1.0896);transform-origin:100% 0">0.9</div>
<div class="t" style="left:459.30px;top:530.01px;font-size:10.50px;transform:scaleX(1.0849);transform-origin:0 0">Conditional rain</div>
<div class="t" style="left:633.90px;top:530.01px;font-size:10.50px;transform:scaleX(1.0896);transform-origin:100% 0">4.8</div>
<div class="t" style="left:714.70px;top:530.01px;font-size:10.50px;transform:scaleX(1.0896);transform-origin:100% 0">3.3</div>
<div class="t" style="left:460.30px;top:549.61px;font-size:10.50px;transform:scaleX(1.1090);transform-origin:0 0">Rain volume (mm km<span class="sup">2</span>10<span class="sup">6</span>)</div>
<div class="t" style="left:633.90px;top:549.61px;font-size:10.50px;transform:scaleX(1.0896);transform-origin:100% 0">1.2</div>
<div class="t" style="left:714.70px;top:549.61px;font-size:10.50px;transform:scaleX(1.0896);transform-origin:100% 0">1.7</div>
<div class="t" style="left:459.30px;top:569.11px;font-size:10.50px;transform:scaleX(1.0892);transform-origin:0 0">Maximum rain</div>
<div class="t" style="left:628.06px;top:569.11px;font-size:10.50px;transform:scaleX(1.0895);transform-origin:100% 0">27.4</div>
<div class="t" style="left:708.86px;top:569.11px;font-size:10.50px;transform:scaleX(1.0895);transform-origin:100% 0">13.2</div>
<div class="t" style="left:783.60px;top:462.81px;font-size:10.50px;transform:scaleX(1.0860);transform-origin:0 0">Mean abs error =&nbsp;&nbsp;&nbsp; 0.7</div>
<div class="t" style="left:783.60px;top:479.81px;font-size:10.50px;transform:scaleX(1.0687);transform-origin:0 0">RMS error =&nbsp;&nbsp;&nbsp; 1.5</div>
<div class="t" style="left:783.60px;top:496.81px;font-size:10.50px;transform:scaleX(1.0976);transform-origin:0 0">Correlation coeff =&nbsp; 0.593</div>
<div class="t" style="left:783.60px;top:513.81px;font-size:10.50px;transform:scaleX(1.0788);transform-origin:0 0">Frequency bias =&nbsp; 1.995</div>
<div class="t" style="left:783.60px;top:530.81px;font-size:10.50px;transform:scaleX(1.1034);transform-origin:0 0">Probability of detection =&nbsp; 0.756</div>
<div class="t" style="left:783.60px;top:547.81px;font-size:10.50px;transform:scaleX(1.0873);transform-origin:0 0">False alarm ratio =&nbsp; 0.621</div>
<div class="t" style="left:783.60px;top:564.81px;font-size:10.50px;transform:scaleX(1.0690);transform-origin:0 0">Hanssen &amp; Kuipers score =&nbsp; 0.562</div>
<div class="t" style="left:783.60px;top:581.81px;font-size:10.50px;transform:scaleX(1.0972);transform-origin:0 0">Equitable threat score =&nbsp; 0.247</div>
</div>
</body>
</html>
